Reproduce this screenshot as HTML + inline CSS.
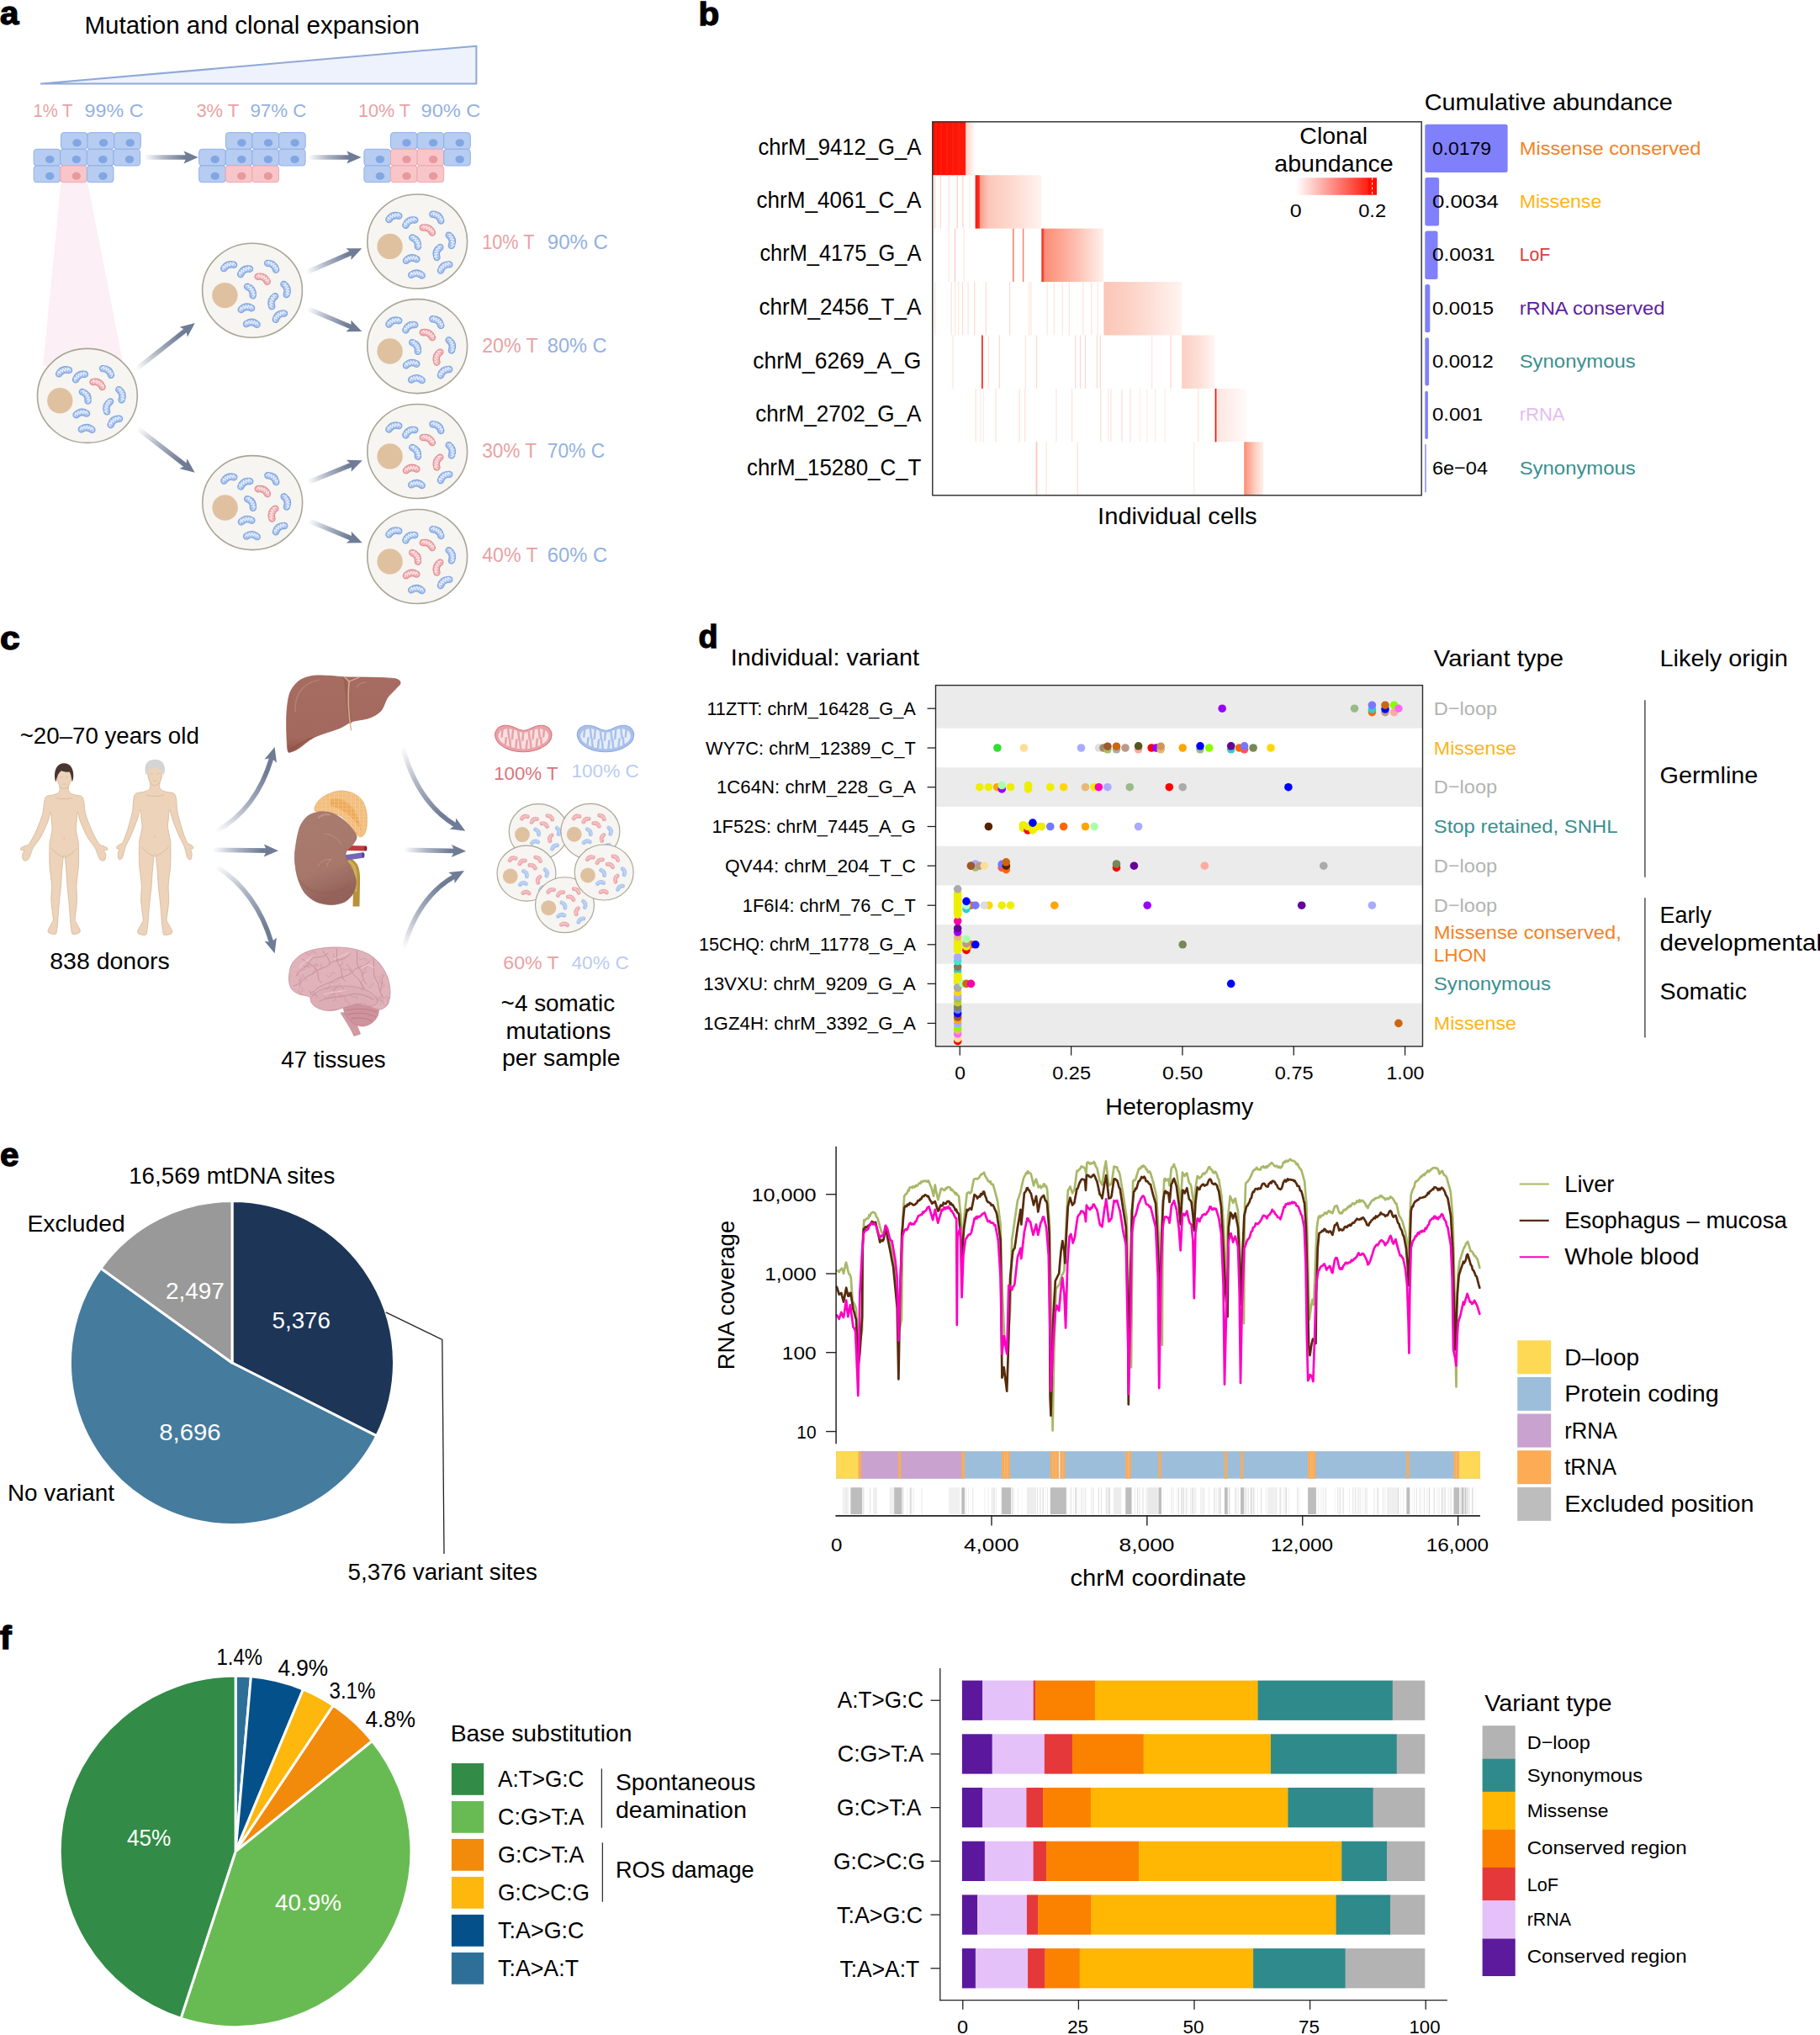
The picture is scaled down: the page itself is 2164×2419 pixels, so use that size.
<!DOCTYPE html>
<html><head><meta charset="utf-8"><title>Figure</title>
<style>html,body{margin:0;padding:0;background:#fff}svg{display:block}text{font-family:'Liberation Sans', sans-serif}</style>
</head><body>
<svg width="2164" height="2419" viewBox="0 0 2164 2419">
<defs>
<linearGradient id="ag1" gradientUnits="userSpaceOnUse" x1="171.5" y1="187.0" x2="235.7" y2="187.0"><stop offset="0" stop-color="#6f7c96" stop-opacity="0"/><stop offset="0.35" stop-color="#6f7c96" stop-opacity="0.55"/><stop offset="0.75" stop-color="#6f7c96" stop-opacity="1"/></linearGradient>
<linearGradient id="ag2" gradientUnits="userSpaceOnUse" x1="366.0" y1="187.0" x2="429.6" y2="187.0"><stop offset="0" stop-color="#6f7c96" stop-opacity="0"/><stop offset="0.35" stop-color="#6f7c96" stop-opacity="0.55"/><stop offset="0.75" stop-color="#6f7c96" stop-opacity="1"/></linearGradient>
<linearGradient id="ag3" gradientUnits="userSpaceOnUse" x1="161.6" y1="439.3" x2="231.8" y2="383.9"><stop offset="0" stop-color="#6f7c96" stop-opacity="0"/><stop offset="0.35" stop-color="#6f7c96" stop-opacity="0.55"/><stop offset="0.75" stop-color="#6f7c96" stop-opacity="1"/></linearGradient>
<linearGradient id="ag4" gradientUnits="userSpaceOnUse" x1="163.5" y1="509.0" x2="231.6" y2="561.8"><stop offset="0" stop-color="#6f7c96" stop-opacity="0"/><stop offset="0.35" stop-color="#6f7c96" stop-opacity="0.55"/><stop offset="0.75" stop-color="#6f7c96" stop-opacity="1"/></linearGradient>
<linearGradient id="ag5" gradientUnits="userSpaceOnUse" x1="364.3" y1="323.9" x2="430.3" y2="295.2"><stop offset="0" stop-color="#6f7c96" stop-opacity="0"/><stop offset="0.35" stop-color="#6f7c96" stop-opacity="0.55"/><stop offset="0.75" stop-color="#6f7c96" stop-opacity="1"/></linearGradient>
<linearGradient id="ag6" gradientUnits="userSpaceOnUse" x1="365.3" y1="366.7" x2="430.3" y2="394.1"><stop offset="0" stop-color="#6f7c96" stop-opacity="0"/><stop offset="0.35" stop-color="#6f7c96" stop-opacity="0.55"/><stop offset="0.75" stop-color="#6f7c96" stop-opacity="1"/></linearGradient>
<linearGradient id="ag7" gradientUnits="userSpaceOnUse" x1="365.7" y1="573.6" x2="430.8" y2="547.3"><stop offset="0" stop-color="#6f7c96" stop-opacity="0"/><stop offset="0.35" stop-color="#6f7c96" stop-opacity="0.55"/><stop offset="0.75" stop-color="#6f7c96" stop-opacity="1"/></linearGradient>
<linearGradient id="ag8" gradientUnits="userSpaceOnUse" x1="367.0" y1="618.9" x2="430.8" y2="645.3"><stop offset="0" stop-color="#6f7c96" stop-opacity="0"/><stop offset="0.35" stop-color="#6f7c96" stop-opacity="0.55"/><stop offset="0.75" stop-color="#6f7c96" stop-opacity="1"/></linearGradient>
<linearGradient id="hb0" x1="0" y1="0" x2="1" y2="0"><stop offset="0" stop-color="#ff0d00"/><stop offset="0.77" stop-color="#ff1a0c"/><stop offset="0.78" stop-color="#fdd3c8"/><stop offset="1" stop-color="#ffffff"/></linearGradient>
<linearGradient id="hb1" x1="0" y1="0" x2="1" y2="0"><stop offset="0" stop-color="#fb1a0e"/><stop offset="0.06" stop-color="#f93020"/><stop offset="0.075" stop-color="#fc9c88"/><stop offset="0.2" stop-color="#fdc7b9"/><stop offset="0.6" stop-color="#fedcd2"/><stop offset="1" stop-color="#fff3ef"/></linearGradient>
<linearGradient id="hb2" x1="0" y1="0" x2="1" y2="0"><stop offset="0" stop-color="#f3190c"/><stop offset="0.025" stop-color="#f64532"/><stop offset="0.05" stop-color="#fb8d77"/><stop offset="0.3" stop-color="#fca592"/><stop offset="0.6" stop-color="#fdc4b6"/><stop offset="1" stop-color="#fff1ed"/></linearGradient>
<linearGradient id="hb3" x1="0" y1="0" x2="1" y2="0"><stop offset="0" stop-color="#fcc5b7"/><stop offset="0.4" stop-color="#fdd5ca"/><stop offset="1" stop-color="#fff4f1"/></linearGradient>
<linearGradient id="hb4" x1="0" y1="0" x2="1" y2="0"><stop offset="0" stop-color="#fccfc3"/><stop offset="0.5" stop-color="#fddfd7"/><stop offset="1" stop-color="#fff5f2"/></linearGradient>
<linearGradient id="hb5" x1="0" y1="0" x2="1" y2="0"><stop offset="0" stop-color="#fee5df"/><stop offset="1" stop-color="#fffaf9"/></linearGradient>
<linearGradient id="hb6" x1="0" y1="0" x2="1" y2="0"><stop offset="0" stop-color="#fb8b70"/><stop offset="0.2" stop-color="#fca68f"/><stop offset="0.6" stop-color="#fdd2c6"/><stop offset="1" stop-color="#fff0eb"/></linearGradient>
<linearGradient id="hbl" x1="0" y1="0" x2="1" y2="0"><stop offset="0" stop-color="#ffffff"/><stop offset="0.9" stop-color="#ff1d0e"/><stop offset="0.9" stop-color="#ff0d00"/><stop offset="1" stop-color="#ff0d00"/></linearGradient>
<linearGradient id="ag9" gradientUnits="userSpaceOnUse" x1="256.5" y1="988.6" x2="326.6" y2="888.0"><stop offset="0" stop-color="#6f7c96" stop-opacity="0"/><stop offset="0.35" stop-color="#6f7c96" stop-opacity="0.55"/><stop offset="0.75" stop-color="#6f7c96" stop-opacity="1"/></linearGradient>
<linearGradient id="ag10" gradientUnits="userSpaceOnUse" x1="253.0" y1="1010.3" x2="331.0" y2="1011.2"><stop offset="0" stop-color="#6f7c96" stop-opacity="0"/><stop offset="0.35" stop-color="#6f7c96" stop-opacity="0.55"/><stop offset="0.75" stop-color="#6f7c96" stop-opacity="1"/></linearGradient>
<linearGradient id="ag11" gradientUnits="userSpaceOnUse" x1="256.5" y1="1029.3" x2="326.6" y2="1133.2"><stop offset="0" stop-color="#6f7c96" stop-opacity="0"/><stop offset="0.35" stop-color="#6f7c96" stop-opacity="0.55"/><stop offset="0.75" stop-color="#6f7c96" stop-opacity="1"/></linearGradient>
<linearGradient id="livg" x1="0" y1="0" x2="0" y2="1"><stop offset="0" stop-color="#a66c61"/><stop offset="0.8" stop-color="#a4695e"/><stop offset="1" stop-color="#915349"/></linearGradient>
<pattern id="adp" width="5" height="4.4" patternUnits="userSpaceOnUse"><circle cx="1.3" cy="1.2" r="1.5" fill="none" stroke="#f8d7ab" stroke-width="0.55"/><circle cx="3.8" cy="3.4" r="1.5" fill="none" stroke="#f8d7ab" stroke-width="0.55"/></pattern>
<linearGradient id="kidg" x1="0" y1="0" x2="0.25" y2="1"><stop offset="0" stop-color="#a97b6f"/><stop offset="0.7" stop-color="#a7776b"/><stop offset="1" stop-color="#94625a"/></linearGradient>
<clipPath id="brc"><path d="M343.5,1165.0C343.4,1160.8 344.1,1152.3 346.0,1148.0C347.9,1143.7 352.1,1138.8 356.0,1136.0C359.9,1133.2 366.1,1130.5 372.0,1129.0C377.9,1127.5 388.1,1126.2 395.0,1126.0C401.9,1125.8 411.6,1126.3 418.0,1127.5C424.4,1128.7 432.9,1131.2 438.0,1134.0C443.1,1136.8 448.6,1141.8 452.0,1146.0C455.4,1150.2 459.2,1156.9 461.0,1162.0C462.8,1167.1 464.0,1175.2 464.0,1180.0C464.0,1184.8 462.8,1191.0 461.0,1194.0C459.2,1197.0 455.1,1199.5 452.0,1200.0C448.9,1200.5 443.6,1198.0 440.0,1197.0C436.4,1196.0 432.2,1193.2 428.0,1193.0C423.8,1192.8 416.5,1194.8 412.0,1196.0C407.5,1197.2 402.2,1200.4 398.0,1201.0C393.8,1201.6 387.9,1201.2 384.0,1200.0C380.1,1198.8 374.4,1195.2 372.0,1193.0C369.6,1190.8 370.4,1186.7 368.0,1185.0C365.6,1183.3 359.1,1183.3 356.0,1182.0C352.9,1180.7 348.9,1178.5 347.0,1176.0C345.1,1173.5 343.6,1169.2 343.5,1165.0Z"/></clipPath>
<linearGradient id="ag12" gradientUnits="userSpaceOnUse" x1="478.5" y1="887.8" x2="553.3" y2="987.8"><stop offset="0" stop-color="#6f7c96" stop-opacity="0"/><stop offset="0.35" stop-color="#6f7c96" stop-opacity="0.55"/><stop offset="0.75" stop-color="#6f7c96" stop-opacity="1"/></linearGradient>
<linearGradient id="ag13" gradientUnits="userSpaceOnUse" x1="479.8" y1="1010.3" x2="554.2" y2="1011.7"><stop offset="0" stop-color="#6f7c96" stop-opacity="0"/><stop offset="0.35" stop-color="#6f7c96" stop-opacity="0.55"/><stop offset="0.75" stop-color="#6f7c96" stop-opacity="1"/></linearGradient>
<linearGradient id="ag14" gradientUnits="userSpaceOnUse" x1="479.8" y1="1127.5" x2="552.0" y2="1035.1"><stop offset="0" stop-color="#6f7c96" stop-opacity="0"/><stop offset="0.35" stop-color="#6f7c96" stop-opacity="0.55"/><stop offset="0.75" stop-color="#6f7c96" stop-opacity="1"/></linearGradient>
</defs>
<rect width="2164" height="2419" fill="#fff"/>
<text x="0.0" y="29.3" font-size="38.5" fill="#000" textLength="22.4" lengthAdjust="spacingAndGlyphs" font-weight="bold" stroke="#000" stroke-width="1.3">a</text>
<text x="100.5" y="40.2" font-size="29.0" fill="#000" textLength="398.5" lengthAdjust="spacingAndGlyphs">Mutation and clonal expansion</text>
<polygon points="48.8,99.6 566.4,54.7 566.4,99.6" fill="#edf2fc" stroke="#8fa8d8" stroke-width="2" stroke-linejoin="round"/>
<text x="39.6" y="138.5" font-size="22.8" fill="#e9a1a3" textLength="46.8" lengthAdjust="spacingAndGlyphs">1% T</text>
<text x="100.6" y="138.5" font-size="22.8" fill="#93b1e2" textLength="69.9" lengthAdjust="spacingAndGlyphs">99% C</text>
<text x="233.4" y="138.5" font-size="22.8" fill="#e9a1a3" textLength="50.8" lengthAdjust="spacingAndGlyphs">3% T</text>
<text x="297.4" y="138.5" font-size="22.8" fill="#93b1e2" textLength="66.9" lengthAdjust="spacingAndGlyphs">97% C</text>
<text x="426.0" y="138.5" font-size="22.8" fill="#e9a1a3" textLength="62.0" lengthAdjust="spacingAndGlyphs">10% T</text>
<text x="500.5" y="138.5" font-size="22.8" fill="#93b1e2" textLength="70.9" lengthAdjust="spacingAndGlyphs">90% C</text>
<polygon points="72.5,216 104,216 147,435 51,435" fill="#fdeff6"/>
<rect x="72.5" y="157.6" width="31.6" height="19.7" rx="3.5" fill="#b7ccf1" stroke="#8fb1ea" stroke-width="1"/>
<ellipse cx="91.5" cy="169.8" rx="5.2" ry="4.5" fill="#80a6e4"/>
<rect x="104.1" y="157.6" width="31.6" height="19.7" rx="3.5" fill="#b7ccf1" stroke="#8fb1ea" stroke-width="1"/>
<ellipse cx="123.1" cy="169.8" rx="5.2" ry="4.5" fill="#80a6e4"/>
<rect x="135.7" y="157.6" width="31.6" height="19.7" rx="3.5" fill="#b7ccf1" stroke="#8fb1ea" stroke-width="1"/>
<ellipse cx="154.7" cy="169.8" rx="5.2" ry="4.5" fill="#80a6e4"/>
<rect x="40.2" y="177.3" width="31.6" height="19.7" rx="3.5" fill="#b7ccf1" stroke="#8fb1ea" stroke-width="1"/>
<ellipse cx="59.2" cy="189.5" rx="5.2" ry="4.5" fill="#80a6e4"/>
<rect x="71.8" y="177.3" width="31.6" height="19.7" rx="3.5" fill="#b7ccf1" stroke="#8fb1ea" stroke-width="1"/>
<ellipse cx="90.8" cy="189.5" rx="5.2" ry="4.5" fill="#80a6e4"/>
<rect x="103.4" y="177.3" width="31.6" height="19.7" rx="3.5" fill="#b7ccf1" stroke="#8fb1ea" stroke-width="1"/>
<ellipse cx="122.4" cy="189.5" rx="5.2" ry="4.5" fill="#80a6e4"/>
<rect x="135.0" y="177.3" width="31.6" height="19.7" rx="3.5" fill="#b7ccf1" stroke="#8fb1ea" stroke-width="1"/>
<ellipse cx="154.0" cy="189.5" rx="5.2" ry="4.5" fill="#80a6e4"/>
<rect x="40.2" y="197.0" width="31.6" height="19.7" rx="3.5" fill="#b7ccf1" stroke="#8fb1ea" stroke-width="1"/>
<ellipse cx="59.2" cy="209.2" rx="5.2" ry="4.5" fill="#80a6e4"/>
<rect x="71.8" y="197.0" width="31.6" height="19.7" rx="3.5" fill="#f8c6c9" stroke="#efa9ae" stroke-width="1"/>
<ellipse cx="90.8" cy="209.2" rx="5.2" ry="4.5" fill="#e8989f"/>
<rect x="103.4" y="197.0" width="31.6" height="19.7" rx="3.5" fill="#b7ccf1" stroke="#8fb1ea" stroke-width="1"/>
<ellipse cx="122.4" cy="209.2" rx="5.2" ry="4.5" fill="#80a6e4"/>
<rect x="268.4" y="157.6" width="31.6" height="19.7" rx="3.5" fill="#b7ccf1" stroke="#8fb1ea" stroke-width="1"/>
<ellipse cx="287.4" cy="169.8" rx="5.2" ry="4.5" fill="#80a6e4"/>
<rect x="300.0" y="157.6" width="31.6" height="19.7" rx="3.5" fill="#b7ccf1" stroke="#8fb1ea" stroke-width="1"/>
<ellipse cx="319.0" cy="169.8" rx="5.2" ry="4.5" fill="#80a6e4"/>
<rect x="331.6" y="157.6" width="31.6" height="19.7" rx="3.5" fill="#b7ccf1" stroke="#8fb1ea" stroke-width="1"/>
<ellipse cx="350.6" cy="169.8" rx="5.2" ry="4.5" fill="#80a6e4"/>
<rect x="236.7" y="177.3" width="31.6" height="19.7" rx="3.5" fill="#b7ccf1" stroke="#8fb1ea" stroke-width="1"/>
<ellipse cx="255.7" cy="189.5" rx="5.2" ry="4.5" fill="#80a6e4"/>
<rect x="268.3" y="177.3" width="31.6" height="19.7" rx="3.5" fill="#b7ccf1" stroke="#8fb1ea" stroke-width="1"/>
<ellipse cx="287.3" cy="189.5" rx="5.2" ry="4.5" fill="#80a6e4"/>
<rect x="299.9" y="177.3" width="31.6" height="19.7" rx="3.5" fill="#b7ccf1" stroke="#8fb1ea" stroke-width="1"/>
<ellipse cx="318.9" cy="189.5" rx="5.2" ry="4.5" fill="#80a6e4"/>
<rect x="331.5" y="177.3" width="31.6" height="19.7" rx="3.5" fill="#b7ccf1" stroke="#8fb1ea" stroke-width="1"/>
<ellipse cx="350.5" cy="189.5" rx="5.2" ry="4.5" fill="#80a6e4"/>
<rect x="236.7" y="197.0" width="31.6" height="19.7" rx="3.5" fill="#b7ccf1" stroke="#8fb1ea" stroke-width="1"/>
<ellipse cx="255.7" cy="209.2" rx="5.2" ry="4.5" fill="#80a6e4"/>
<rect x="268.3" y="197.0" width="31.6" height="19.7" rx="3.5" fill="#f8c6c9" stroke="#efa9ae" stroke-width="1"/>
<ellipse cx="287.3" cy="209.2" rx="5.2" ry="4.5" fill="#e8989f"/>
<rect x="299.9" y="197.0" width="31.6" height="19.7" rx="3.5" fill="#f8c6c9" stroke="#efa9ae" stroke-width="1"/>
<ellipse cx="318.9" cy="209.2" rx="5.2" ry="4.5" fill="#e8989f"/>
<rect x="464.5" y="157.6" width="31.6" height="19.7" rx="3.5" fill="#b7ccf1" stroke="#8fb1ea" stroke-width="1"/>
<ellipse cx="483.5" cy="169.8" rx="5.2" ry="4.5" fill="#80a6e4"/>
<rect x="496.1" y="157.6" width="31.6" height="19.7" rx="3.5" fill="#b7ccf1" stroke="#8fb1ea" stroke-width="1"/>
<ellipse cx="515.1" cy="169.8" rx="5.2" ry="4.5" fill="#80a6e4"/>
<rect x="527.7" y="157.6" width="31.6" height="19.7" rx="3.5" fill="#b7ccf1" stroke="#8fb1ea" stroke-width="1"/>
<ellipse cx="546.7" cy="169.8" rx="5.2" ry="4.5" fill="#80a6e4"/>
<rect x="432.9" y="177.3" width="31.6" height="19.7" rx="3.5" fill="#b7ccf1" stroke="#8fb1ea" stroke-width="1"/>
<ellipse cx="451.9" cy="189.5" rx="5.2" ry="4.5" fill="#80a6e4"/>
<rect x="464.5" y="177.3" width="31.6" height="19.7" rx="3.5" fill="#f8c6c9" stroke="#efa9ae" stroke-width="1"/>
<ellipse cx="483.5" cy="189.5" rx="5.2" ry="4.5" fill="#e8989f"/>
<rect x="496.1" y="177.3" width="31.6" height="19.7" rx="3.5" fill="#f8c6c9" stroke="#efa9ae" stroke-width="1"/>
<ellipse cx="515.1" cy="189.5" rx="5.2" ry="4.5" fill="#e8989f"/>
<rect x="527.7" y="177.3" width="31.6" height="19.7" rx="3.5" fill="#b7ccf1" stroke="#8fb1ea" stroke-width="1"/>
<ellipse cx="546.7" cy="189.5" rx="5.2" ry="4.5" fill="#80a6e4"/>
<rect x="432.9" y="197.0" width="31.6" height="19.7" rx="3.5" fill="#b7ccf1" stroke="#8fb1ea" stroke-width="1"/>
<ellipse cx="451.9" cy="209.2" rx="5.2" ry="4.5" fill="#80a6e4"/>
<rect x="464.5" y="197.0" width="31.6" height="19.7" rx="3.5" fill="#f8c6c9" stroke="#efa9ae" stroke-width="1"/>
<ellipse cx="483.5" cy="209.2" rx="5.2" ry="4.5" fill="#e8989f"/>
<rect x="496.1" y="197.0" width="31.6" height="19.7" rx="3.5" fill="#f8c6c9" stroke="#efa9ae" stroke-width="1"/>
<ellipse cx="515.1" cy="209.2" rx="5.2" ry="4.5" fill="#e8989f"/>
<polygon points="171.5,184.2 222.7,184.2 222.7,189.8 171.5,189.8" fill="url(#ag1)"/>
<polygon points="235.7,187.0 218.4,194.5 222.0,187.0 218.4,179.5" fill="#6f7c96"/>
<polygon points="366.0,184.2 416.6,184.2 416.6,189.8 366.0,189.8" fill="url(#ag2)"/>
<polygon points="429.6,187.0 412.3,194.5 415.9,187.0 412.3,179.5" fill="#6f7c96"/>
<g transform="translate(103.9,470.4) scale(1.000)">
<ellipse cx="0" cy="0" rx="59.4" ry="56" fill="#f6f5f1" stroke="#a9a596" stroke-width="1.60"/>
<circle cx="-32.6" cy="5.9" r="15.2" fill="#dfc1a0"/>
<g transform="translate(-28.4,-29.7) rotate(-20)"><path d="M-6.3,1.6 Q0,-3.4 6.3,1.6" fill="none" stroke="#7fa4de" stroke-width="8.4" stroke-linecap="round"/><path d="M-6.3,1.6 Q0,-3.4 6.3,1.6" fill="none" stroke="#a6c0ee" stroke-width="6.2" stroke-linecap="round"/><path d="M-8.0,3.1 L-6.4,-1.5 L-4.8,1.7 L-3.2,-2.5 L-1.6,1.0 L0.0,-2.9 L1.6,1.0 L3.2,-2.5 L4.8,1.7 L6.4,-1.5 L8.0,3.1" fill="none" stroke="#e9f0fc" stroke-width="1.1" stroke-linejoin="round"/></g>
<g transform="translate(-9.2,-23.7) rotate(-30)"><path d="M-6.3,1.6 Q0,-3.4 6.3,1.6" fill="none" stroke="#7fa4de" stroke-width="8.4" stroke-linecap="round"/><path d="M-6.3,1.6 Q0,-3.4 6.3,1.6" fill="none" stroke="#a6c0ee" stroke-width="6.2" stroke-linecap="round"/><path d="M-8.0,3.1 L-6.4,-1.5 L-4.8,1.7 L-3.2,-2.5 L-1.6,1.0 L0.0,-2.9 L1.6,1.0 L3.2,-2.5 L4.8,1.7 L6.4,-1.5 L8.0,3.1" fill="none" stroke="#e9f0fc" stroke-width="1.1" stroke-linejoin="round"/></g>
<g transform="translate(24.1,-29.7) rotate(38)"><path d="M-6.3,1.6 Q0,-3.4 6.3,1.6" fill="none" stroke="#7fa4de" stroke-width="8.4" stroke-linecap="round"/><path d="M-6.3,1.6 Q0,-3.4 6.3,1.6" fill="none" stroke="#a6c0ee" stroke-width="6.2" stroke-linecap="round"/><path d="M-8.0,3.1 L-6.4,-1.5 L-4.8,1.7 L-3.2,-2.5 L-1.6,1.0 L0.0,-2.9 L1.6,1.0 L3.2,-2.5 L4.8,1.7 L6.4,-1.5 L8.0,3.1" fill="none" stroke="#e9f0fc" stroke-width="1.1" stroke-linejoin="round"/></g>
<g transform="translate(12.9,-14.8) rotate(28)"><path d="M-6.3,1.6 Q0,-3.4 6.3,1.6" fill="none" stroke="#e18f95" stroke-width="8.4" stroke-linecap="round"/><path d="M-6.3,1.6 Q0,-3.4 6.3,1.6" fill="none" stroke="#eeaeb2" stroke-width="6.2" stroke-linecap="round"/><path d="M-8.0,3.1 L-6.4,-1.5 L-4.8,1.7 L-3.2,-2.5 L-1.6,1.0 L0.0,-2.9 L1.6,1.0 L3.2,-2.5 L4.8,1.7 L6.4,-1.5 L8.0,3.1" fill="none" stroke="#fce6e7" stroke-width="1.1" stroke-linejoin="round"/></g>
<g transform="translate(-1.3,0) rotate(58)"><path d="M-6.3,1.6 Q0,-3.4 6.3,1.6" fill="none" stroke="#7fa4de" stroke-width="8.4" stroke-linecap="round"/><path d="M-6.3,1.6 Q0,-3.4 6.3,1.6" fill="none" stroke="#a6c0ee" stroke-width="6.2" stroke-linecap="round"/><path d="M-8.0,3.1 L-6.4,-1.5 L-4.8,1.7 L-3.2,-2.5 L-1.6,1.0 L0.0,-2.9 L1.6,1.0 L3.2,-2.5 L4.8,1.7 L6.4,-1.5 L8.0,3.1" fill="none" stroke="#e9f0fc" stroke-width="1.1" stroke-linejoin="round"/></g>
<g transform="translate(40.6,-1.6) rotate(75)"><path d="M-6.3,1.6 Q0,-3.4 6.3,1.6" fill="none" stroke="#7fa4de" stroke-width="8.4" stroke-linecap="round"/><path d="M-6.3,1.6 Q0,-3.4 6.3,1.6" fill="none" stroke="#a6c0ee" stroke-width="6.2" stroke-linecap="round"/><path d="M-8.0,3.1 L-6.4,-1.5 L-4.8,1.7 L-3.2,-2.5 L-1.6,1.0 L0.0,-2.9 L1.6,1.0 L3.2,-2.5 L4.8,1.7 L6.4,-1.5 L8.0,3.1" fill="none" stroke="#e9f0fc" stroke-width="1.1" stroke-linejoin="round"/></g>
<g transform="translate(23.7,12.5) rotate(-72)"><path d="M-6.3,1.6 Q0,-3.4 6.3,1.6" fill="none" stroke="#7fa4de" stroke-width="8.4" stroke-linecap="round"/><path d="M-6.3,1.6 Q0,-3.4 6.3,1.6" fill="none" stroke="#a6c0ee" stroke-width="6.2" stroke-linecap="round"/><path d="M-8.0,3.1 L-6.4,-1.5 L-4.8,1.7 L-3.2,-2.5 L-1.6,1.0 L0.0,-2.9 L1.6,1.0 L3.2,-2.5 L4.8,1.7 L6.4,-1.5 L8.0,3.1" fill="none" stroke="#e9f0fc" stroke-width="1.1" stroke-linejoin="round"/></g>
<g transform="translate(-7.3,20.4) rotate(-8)"><path d="M-6.3,1.6 Q0,-3.4 6.3,1.6" fill="none" stroke="#7fa4de" stroke-width="8.4" stroke-linecap="round"/><path d="M-6.3,1.6 Q0,-3.4 6.3,1.6" fill="none" stroke="#a6c0ee" stroke-width="6.2" stroke-linecap="round"/><path d="M-8.0,3.1 L-6.4,-1.5 L-4.8,1.7 L-3.2,-2.5 L-1.6,1.0 L0.0,-2.9 L1.6,1.0 L3.2,-2.5 L4.8,1.7 L6.4,-1.5 L8.0,3.1" fill="none" stroke="#e9f0fc" stroke-width="1.1" stroke-linejoin="round"/></g>
<g transform="translate(32,29.7) rotate(-35)"><path d="M-6.3,1.6 Q0,-3.4 6.3,1.6" fill="none" stroke="#7fa4de" stroke-width="8.4" stroke-linecap="round"/><path d="M-6.3,1.6 Q0,-3.4 6.3,1.6" fill="none" stroke="#a6c0ee" stroke-width="6.2" stroke-linecap="round"/><path d="M-8.0,3.1 L-6.4,-1.5 L-4.8,1.7 L-3.2,-2.5 L-1.6,1.0 L0.0,-2.9 L1.6,1.0 L3.2,-2.5 L4.8,1.7 L6.4,-1.5 L8.0,3.1" fill="none" stroke="#e9f0fc" stroke-width="1.1" stroke-linejoin="round"/></g>
<g transform="translate(-0.7,38.6) rotate(3)"><path d="M-6.3,1.6 Q0,-3.4 6.3,1.6" fill="none" stroke="#7fa4de" stroke-width="8.4" stroke-linecap="round"/><path d="M-6.3,1.6 Q0,-3.4 6.3,1.6" fill="none" stroke="#a6c0ee" stroke-width="6.2" stroke-linecap="round"/><path d="M-8.0,3.1 L-6.4,-1.5 L-4.8,1.7 L-3.2,-2.5 L-1.6,1.0 L0.0,-2.9 L1.6,1.0 L3.2,-2.5 L4.8,1.7 L6.4,-1.5 L8.0,3.1" fill="none" stroke="#e9f0fc" stroke-width="1.1" stroke-linejoin="round"/></g>
</g>
<g transform="translate(300.0,345.2) scale(1.000)">
<ellipse cx="0" cy="0" rx="59.4" ry="56" fill="#f6f5f1" stroke="#a9a596" stroke-width="1.60"/>
<circle cx="-32.6" cy="5.9" r="15.2" fill="#dfc1a0"/>
<g transform="translate(-28.4,-29.7) rotate(-20)"><path d="M-6.3,1.6 Q0,-3.4 6.3,1.6" fill="none" stroke="#7fa4de" stroke-width="8.4" stroke-linecap="round"/><path d="M-6.3,1.6 Q0,-3.4 6.3,1.6" fill="none" stroke="#a6c0ee" stroke-width="6.2" stroke-linecap="round"/><path d="M-8.0,3.1 L-6.4,-1.5 L-4.8,1.7 L-3.2,-2.5 L-1.6,1.0 L0.0,-2.9 L1.6,1.0 L3.2,-2.5 L4.8,1.7 L6.4,-1.5 L8.0,3.1" fill="none" stroke="#e9f0fc" stroke-width="1.1" stroke-linejoin="round"/></g>
<g transform="translate(-9.2,-23.7) rotate(-30)"><path d="M-6.3,1.6 Q0,-3.4 6.3,1.6" fill="none" stroke="#7fa4de" stroke-width="8.4" stroke-linecap="round"/><path d="M-6.3,1.6 Q0,-3.4 6.3,1.6" fill="none" stroke="#a6c0ee" stroke-width="6.2" stroke-linecap="round"/><path d="M-8.0,3.1 L-6.4,-1.5 L-4.8,1.7 L-3.2,-2.5 L-1.6,1.0 L0.0,-2.9 L1.6,1.0 L3.2,-2.5 L4.8,1.7 L6.4,-1.5 L8.0,3.1" fill="none" stroke="#e9f0fc" stroke-width="1.1" stroke-linejoin="round"/></g>
<g transform="translate(24.1,-29.7) rotate(38)"><path d="M-6.3,1.6 Q0,-3.4 6.3,1.6" fill="none" stroke="#7fa4de" stroke-width="8.4" stroke-linecap="round"/><path d="M-6.3,1.6 Q0,-3.4 6.3,1.6" fill="none" stroke="#a6c0ee" stroke-width="6.2" stroke-linecap="round"/><path d="M-8.0,3.1 L-6.4,-1.5 L-4.8,1.7 L-3.2,-2.5 L-1.6,1.0 L0.0,-2.9 L1.6,1.0 L3.2,-2.5 L4.8,1.7 L6.4,-1.5 L8.0,3.1" fill="none" stroke="#e9f0fc" stroke-width="1.1" stroke-linejoin="round"/></g>
<g transform="translate(12.9,-14.8) rotate(28)"><path d="M-6.3,1.6 Q0,-3.4 6.3,1.6" fill="none" stroke="#e18f95" stroke-width="8.4" stroke-linecap="round"/><path d="M-6.3,1.6 Q0,-3.4 6.3,1.6" fill="none" stroke="#eeaeb2" stroke-width="6.2" stroke-linecap="round"/><path d="M-8.0,3.1 L-6.4,-1.5 L-4.8,1.7 L-3.2,-2.5 L-1.6,1.0 L0.0,-2.9 L1.6,1.0 L3.2,-2.5 L4.8,1.7 L6.4,-1.5 L8.0,3.1" fill="none" stroke="#fce6e7" stroke-width="1.1" stroke-linejoin="round"/></g>
<g transform="translate(-1.3,0) rotate(58)"><path d="M-6.3,1.6 Q0,-3.4 6.3,1.6" fill="none" stroke="#7fa4de" stroke-width="8.4" stroke-linecap="round"/><path d="M-6.3,1.6 Q0,-3.4 6.3,1.6" fill="none" stroke="#a6c0ee" stroke-width="6.2" stroke-linecap="round"/><path d="M-8.0,3.1 L-6.4,-1.5 L-4.8,1.7 L-3.2,-2.5 L-1.6,1.0 L0.0,-2.9 L1.6,1.0 L3.2,-2.5 L4.8,1.7 L6.4,-1.5 L8.0,3.1" fill="none" stroke="#e9f0fc" stroke-width="1.1" stroke-linejoin="round"/></g>
<g transform="translate(40.6,-1.6) rotate(75)"><path d="M-6.3,1.6 Q0,-3.4 6.3,1.6" fill="none" stroke="#7fa4de" stroke-width="8.4" stroke-linecap="round"/><path d="M-6.3,1.6 Q0,-3.4 6.3,1.6" fill="none" stroke="#a6c0ee" stroke-width="6.2" stroke-linecap="round"/><path d="M-8.0,3.1 L-6.4,-1.5 L-4.8,1.7 L-3.2,-2.5 L-1.6,1.0 L0.0,-2.9 L1.6,1.0 L3.2,-2.5 L4.8,1.7 L6.4,-1.5 L8.0,3.1" fill="none" stroke="#e9f0fc" stroke-width="1.1" stroke-linejoin="round"/></g>
<g transform="translate(23.7,12.5) rotate(-72)"><path d="M-6.3,1.6 Q0,-3.4 6.3,1.6" fill="none" stroke="#7fa4de" stroke-width="8.4" stroke-linecap="round"/><path d="M-6.3,1.6 Q0,-3.4 6.3,1.6" fill="none" stroke="#a6c0ee" stroke-width="6.2" stroke-linecap="round"/><path d="M-8.0,3.1 L-6.4,-1.5 L-4.8,1.7 L-3.2,-2.5 L-1.6,1.0 L0.0,-2.9 L1.6,1.0 L3.2,-2.5 L4.8,1.7 L6.4,-1.5 L8.0,3.1" fill="none" stroke="#e9f0fc" stroke-width="1.1" stroke-linejoin="round"/></g>
<g transform="translate(-7.3,20.4) rotate(-8)"><path d="M-6.3,1.6 Q0,-3.4 6.3,1.6" fill="none" stroke="#7fa4de" stroke-width="8.4" stroke-linecap="round"/><path d="M-6.3,1.6 Q0,-3.4 6.3,1.6" fill="none" stroke="#a6c0ee" stroke-width="6.2" stroke-linecap="round"/><path d="M-8.0,3.1 L-6.4,-1.5 L-4.8,1.7 L-3.2,-2.5 L-1.6,1.0 L0.0,-2.9 L1.6,1.0 L3.2,-2.5 L4.8,1.7 L6.4,-1.5 L8.0,3.1" fill="none" stroke="#e9f0fc" stroke-width="1.1" stroke-linejoin="round"/></g>
<g transform="translate(32,29.7) rotate(-35)"><path d="M-6.3,1.6 Q0,-3.4 6.3,1.6" fill="none" stroke="#7fa4de" stroke-width="8.4" stroke-linecap="round"/><path d="M-6.3,1.6 Q0,-3.4 6.3,1.6" fill="none" stroke="#a6c0ee" stroke-width="6.2" stroke-linecap="round"/><path d="M-8.0,3.1 L-6.4,-1.5 L-4.8,1.7 L-3.2,-2.5 L-1.6,1.0 L0.0,-2.9 L1.6,1.0 L3.2,-2.5 L4.8,1.7 L6.4,-1.5 L8.0,3.1" fill="none" stroke="#e9f0fc" stroke-width="1.1" stroke-linejoin="round"/></g>
<g transform="translate(-0.7,38.6) rotate(3)"><path d="M-6.3,1.6 Q0,-3.4 6.3,1.6" fill="none" stroke="#7fa4de" stroke-width="8.4" stroke-linecap="round"/><path d="M-6.3,1.6 Q0,-3.4 6.3,1.6" fill="none" stroke="#a6c0ee" stroke-width="6.2" stroke-linecap="round"/><path d="M-8.0,3.1 L-6.4,-1.5 L-4.8,1.7 L-3.2,-2.5 L-1.6,1.0 L0.0,-2.9 L1.6,1.0 L3.2,-2.5 L4.8,1.7 L6.4,-1.5 L8.0,3.1" fill="none" stroke="#e9f0fc" stroke-width="1.1" stroke-linejoin="round"/></g>
</g>
<g transform="translate(300.2,597.6) scale(1.000)">
<ellipse cx="0" cy="0" rx="59.4" ry="56" fill="#f6f5f1" stroke="#a9a596" stroke-width="1.60"/>
<circle cx="-32.6" cy="5.9" r="15.2" fill="#dfc1a0"/>
<g transform="translate(-28.4,-29.7) rotate(-20)"><path d="M-6.3,1.6 Q0,-3.4 6.3,1.6" fill="none" stroke="#7fa4de" stroke-width="8.4" stroke-linecap="round"/><path d="M-6.3,1.6 Q0,-3.4 6.3,1.6" fill="none" stroke="#a6c0ee" stroke-width="6.2" stroke-linecap="round"/><path d="M-8.0,3.1 L-6.4,-1.5 L-4.8,1.7 L-3.2,-2.5 L-1.6,1.0 L0.0,-2.9 L1.6,1.0 L3.2,-2.5 L4.8,1.7 L6.4,-1.5 L8.0,3.1" fill="none" stroke="#e9f0fc" stroke-width="1.1" stroke-linejoin="round"/></g>
<g transform="translate(-9.2,-23.7) rotate(-30)"><path d="M-6.3,1.6 Q0,-3.4 6.3,1.6" fill="none" stroke="#7fa4de" stroke-width="8.4" stroke-linecap="round"/><path d="M-6.3,1.6 Q0,-3.4 6.3,1.6" fill="none" stroke="#a6c0ee" stroke-width="6.2" stroke-linecap="round"/><path d="M-8.0,3.1 L-6.4,-1.5 L-4.8,1.7 L-3.2,-2.5 L-1.6,1.0 L0.0,-2.9 L1.6,1.0 L3.2,-2.5 L4.8,1.7 L6.4,-1.5 L8.0,3.1" fill="none" stroke="#e9f0fc" stroke-width="1.1" stroke-linejoin="round"/></g>
<g transform="translate(24.1,-29.7) rotate(38)"><path d="M-6.3,1.6 Q0,-3.4 6.3,1.6" fill="none" stroke="#7fa4de" stroke-width="8.4" stroke-linecap="round"/><path d="M-6.3,1.6 Q0,-3.4 6.3,1.6" fill="none" stroke="#a6c0ee" stroke-width="6.2" stroke-linecap="round"/><path d="M-8.0,3.1 L-6.4,-1.5 L-4.8,1.7 L-3.2,-2.5 L-1.6,1.0 L0.0,-2.9 L1.6,1.0 L3.2,-2.5 L4.8,1.7 L6.4,-1.5 L8.0,3.1" fill="none" stroke="#e9f0fc" stroke-width="1.1" stroke-linejoin="round"/></g>
<g transform="translate(12.9,-14.8) rotate(28)"><path d="M-6.3,1.6 Q0,-3.4 6.3,1.6" fill="none" stroke="#e18f95" stroke-width="8.4" stroke-linecap="round"/><path d="M-6.3,1.6 Q0,-3.4 6.3,1.6" fill="none" stroke="#eeaeb2" stroke-width="6.2" stroke-linecap="round"/><path d="M-8.0,3.1 L-6.4,-1.5 L-4.8,1.7 L-3.2,-2.5 L-1.6,1.0 L0.0,-2.9 L1.6,1.0 L3.2,-2.5 L4.8,1.7 L6.4,-1.5 L8.0,3.1" fill="none" stroke="#fce6e7" stroke-width="1.1" stroke-linejoin="round"/></g>
<g transform="translate(-1.3,0) rotate(58)"><path d="M-6.3,1.6 Q0,-3.4 6.3,1.6" fill="none" stroke="#7fa4de" stroke-width="8.4" stroke-linecap="round"/><path d="M-6.3,1.6 Q0,-3.4 6.3,1.6" fill="none" stroke="#a6c0ee" stroke-width="6.2" stroke-linecap="round"/><path d="M-8.0,3.1 L-6.4,-1.5 L-4.8,1.7 L-3.2,-2.5 L-1.6,1.0 L0.0,-2.9 L1.6,1.0 L3.2,-2.5 L4.8,1.7 L6.4,-1.5 L8.0,3.1" fill="none" stroke="#e9f0fc" stroke-width="1.1" stroke-linejoin="round"/></g>
<g transform="translate(40.6,-1.6) rotate(75)"><path d="M-6.3,1.6 Q0,-3.4 6.3,1.6" fill="none" stroke="#7fa4de" stroke-width="8.4" stroke-linecap="round"/><path d="M-6.3,1.6 Q0,-3.4 6.3,1.6" fill="none" stroke="#a6c0ee" stroke-width="6.2" stroke-linecap="round"/><path d="M-8.0,3.1 L-6.4,-1.5 L-4.8,1.7 L-3.2,-2.5 L-1.6,1.0 L0.0,-2.9 L1.6,1.0 L3.2,-2.5 L4.8,1.7 L6.4,-1.5 L8.0,3.1" fill="none" stroke="#e9f0fc" stroke-width="1.1" stroke-linejoin="round"/></g>
<g transform="translate(23.7,12.5) rotate(-72)"><path d="M-6.3,1.6 Q0,-3.4 6.3,1.6" fill="none" stroke="#e18f95" stroke-width="8.4" stroke-linecap="round"/><path d="M-6.3,1.6 Q0,-3.4 6.3,1.6" fill="none" stroke="#eeaeb2" stroke-width="6.2" stroke-linecap="round"/><path d="M-8.0,3.1 L-6.4,-1.5 L-4.8,1.7 L-3.2,-2.5 L-1.6,1.0 L0.0,-2.9 L1.6,1.0 L3.2,-2.5 L4.8,1.7 L6.4,-1.5 L8.0,3.1" fill="none" stroke="#fce6e7" stroke-width="1.1" stroke-linejoin="round"/></g>
<g transform="translate(-7.3,20.4) rotate(-8)"><path d="M-6.3,1.6 Q0,-3.4 6.3,1.6" fill="none" stroke="#7fa4de" stroke-width="8.4" stroke-linecap="round"/><path d="M-6.3,1.6 Q0,-3.4 6.3,1.6" fill="none" stroke="#a6c0ee" stroke-width="6.2" stroke-linecap="round"/><path d="M-8.0,3.1 L-6.4,-1.5 L-4.8,1.7 L-3.2,-2.5 L-1.6,1.0 L0.0,-2.9 L1.6,1.0 L3.2,-2.5 L4.8,1.7 L6.4,-1.5 L8.0,3.1" fill="none" stroke="#e9f0fc" stroke-width="1.1" stroke-linejoin="round"/></g>
<g transform="translate(32,29.7) rotate(-35)"><path d="M-6.3,1.6 Q0,-3.4 6.3,1.6" fill="none" stroke="#7fa4de" stroke-width="8.4" stroke-linecap="round"/><path d="M-6.3,1.6 Q0,-3.4 6.3,1.6" fill="none" stroke="#a6c0ee" stroke-width="6.2" stroke-linecap="round"/><path d="M-8.0,3.1 L-6.4,-1.5 L-4.8,1.7 L-3.2,-2.5 L-1.6,1.0 L0.0,-2.9 L1.6,1.0 L3.2,-2.5 L4.8,1.7 L6.4,-1.5 L8.0,3.1" fill="none" stroke="#e9f0fc" stroke-width="1.1" stroke-linejoin="round"/></g>
<g transform="translate(-0.7,38.6) rotate(3)"><path d="M-6.3,1.6 Q0,-3.4 6.3,1.6" fill="none" stroke="#7fa4de" stroke-width="8.4" stroke-linecap="round"/><path d="M-6.3,1.6 Q0,-3.4 6.3,1.6" fill="none" stroke="#a6c0ee" stroke-width="6.2" stroke-linecap="round"/><path d="M-8.0,3.1 L-6.4,-1.5 L-4.8,1.7 L-3.2,-2.5 L-1.6,1.0 L0.0,-2.9 L1.6,1.0 L3.2,-2.5 L4.8,1.7 L6.4,-1.5 L8.0,3.1" fill="none" stroke="#e9f0fc" stroke-width="1.1" stroke-linejoin="round"/></g>
</g>
<g transform="translate(496.2,287.0) scale(1.000)">
<ellipse cx="0" cy="0" rx="59.4" ry="56" fill="#f6f5f1" stroke="#a9a596" stroke-width="1.60"/>
<circle cx="-32.6" cy="5.9" r="15.2" fill="#dfc1a0"/>
<g transform="translate(-28.4,-29.7) rotate(-20)"><path d="M-6.3,1.6 Q0,-3.4 6.3,1.6" fill="none" stroke="#7fa4de" stroke-width="8.4" stroke-linecap="round"/><path d="M-6.3,1.6 Q0,-3.4 6.3,1.6" fill="none" stroke="#a6c0ee" stroke-width="6.2" stroke-linecap="round"/><path d="M-8.0,3.1 L-6.4,-1.5 L-4.8,1.7 L-3.2,-2.5 L-1.6,1.0 L0.0,-2.9 L1.6,1.0 L3.2,-2.5 L4.8,1.7 L6.4,-1.5 L8.0,3.1" fill="none" stroke="#e9f0fc" stroke-width="1.1" stroke-linejoin="round"/></g>
<g transform="translate(-9.2,-23.7) rotate(-30)"><path d="M-6.3,1.6 Q0,-3.4 6.3,1.6" fill="none" stroke="#7fa4de" stroke-width="8.4" stroke-linecap="round"/><path d="M-6.3,1.6 Q0,-3.4 6.3,1.6" fill="none" stroke="#a6c0ee" stroke-width="6.2" stroke-linecap="round"/><path d="M-8.0,3.1 L-6.4,-1.5 L-4.8,1.7 L-3.2,-2.5 L-1.6,1.0 L0.0,-2.9 L1.6,1.0 L3.2,-2.5 L4.8,1.7 L6.4,-1.5 L8.0,3.1" fill="none" stroke="#e9f0fc" stroke-width="1.1" stroke-linejoin="round"/></g>
<g transform="translate(24.1,-29.7) rotate(38)"><path d="M-6.3,1.6 Q0,-3.4 6.3,1.6" fill="none" stroke="#7fa4de" stroke-width="8.4" stroke-linecap="round"/><path d="M-6.3,1.6 Q0,-3.4 6.3,1.6" fill="none" stroke="#a6c0ee" stroke-width="6.2" stroke-linecap="round"/><path d="M-8.0,3.1 L-6.4,-1.5 L-4.8,1.7 L-3.2,-2.5 L-1.6,1.0 L0.0,-2.9 L1.6,1.0 L3.2,-2.5 L4.8,1.7 L6.4,-1.5 L8.0,3.1" fill="none" stroke="#e9f0fc" stroke-width="1.1" stroke-linejoin="round"/></g>
<g transform="translate(12.9,-14.8) rotate(28)"><path d="M-6.3,1.6 Q0,-3.4 6.3,1.6" fill="none" stroke="#e18f95" stroke-width="8.4" stroke-linecap="round"/><path d="M-6.3,1.6 Q0,-3.4 6.3,1.6" fill="none" stroke="#eeaeb2" stroke-width="6.2" stroke-linecap="round"/><path d="M-8.0,3.1 L-6.4,-1.5 L-4.8,1.7 L-3.2,-2.5 L-1.6,1.0 L0.0,-2.9 L1.6,1.0 L3.2,-2.5 L4.8,1.7 L6.4,-1.5 L8.0,3.1" fill="none" stroke="#fce6e7" stroke-width="1.1" stroke-linejoin="round"/></g>
<g transform="translate(-1.3,0) rotate(58)"><path d="M-6.3,1.6 Q0,-3.4 6.3,1.6" fill="none" stroke="#7fa4de" stroke-width="8.4" stroke-linecap="round"/><path d="M-6.3,1.6 Q0,-3.4 6.3,1.6" fill="none" stroke="#a6c0ee" stroke-width="6.2" stroke-linecap="round"/><path d="M-8.0,3.1 L-6.4,-1.5 L-4.8,1.7 L-3.2,-2.5 L-1.6,1.0 L0.0,-2.9 L1.6,1.0 L3.2,-2.5 L4.8,1.7 L6.4,-1.5 L8.0,3.1" fill="none" stroke="#e9f0fc" stroke-width="1.1" stroke-linejoin="round"/></g>
<g transform="translate(40.6,-1.6) rotate(75)"><path d="M-6.3,1.6 Q0,-3.4 6.3,1.6" fill="none" stroke="#7fa4de" stroke-width="8.4" stroke-linecap="round"/><path d="M-6.3,1.6 Q0,-3.4 6.3,1.6" fill="none" stroke="#a6c0ee" stroke-width="6.2" stroke-linecap="round"/><path d="M-8.0,3.1 L-6.4,-1.5 L-4.8,1.7 L-3.2,-2.5 L-1.6,1.0 L0.0,-2.9 L1.6,1.0 L3.2,-2.5 L4.8,1.7 L6.4,-1.5 L8.0,3.1" fill="none" stroke="#e9f0fc" stroke-width="1.1" stroke-linejoin="round"/></g>
<g transform="translate(23.7,12.5) rotate(-72)"><path d="M-6.3,1.6 Q0,-3.4 6.3,1.6" fill="none" stroke="#7fa4de" stroke-width="8.4" stroke-linecap="round"/><path d="M-6.3,1.6 Q0,-3.4 6.3,1.6" fill="none" stroke="#a6c0ee" stroke-width="6.2" stroke-linecap="round"/><path d="M-8.0,3.1 L-6.4,-1.5 L-4.8,1.7 L-3.2,-2.5 L-1.6,1.0 L0.0,-2.9 L1.6,1.0 L3.2,-2.5 L4.8,1.7 L6.4,-1.5 L8.0,3.1" fill="none" stroke="#e9f0fc" stroke-width="1.1" stroke-linejoin="round"/></g>
<g transform="translate(-7.3,20.4) rotate(-8)"><path d="M-6.3,1.6 Q0,-3.4 6.3,1.6" fill="none" stroke="#7fa4de" stroke-width="8.4" stroke-linecap="round"/><path d="M-6.3,1.6 Q0,-3.4 6.3,1.6" fill="none" stroke="#a6c0ee" stroke-width="6.2" stroke-linecap="round"/><path d="M-8.0,3.1 L-6.4,-1.5 L-4.8,1.7 L-3.2,-2.5 L-1.6,1.0 L0.0,-2.9 L1.6,1.0 L3.2,-2.5 L4.8,1.7 L6.4,-1.5 L8.0,3.1" fill="none" stroke="#e9f0fc" stroke-width="1.1" stroke-linejoin="round"/></g>
<g transform="translate(32,29.7) rotate(-35)"><path d="M-6.3,1.6 Q0,-3.4 6.3,1.6" fill="none" stroke="#7fa4de" stroke-width="8.4" stroke-linecap="round"/><path d="M-6.3,1.6 Q0,-3.4 6.3,1.6" fill="none" stroke="#a6c0ee" stroke-width="6.2" stroke-linecap="round"/><path d="M-8.0,3.1 L-6.4,-1.5 L-4.8,1.7 L-3.2,-2.5 L-1.6,1.0 L0.0,-2.9 L1.6,1.0 L3.2,-2.5 L4.8,1.7 L6.4,-1.5 L8.0,3.1" fill="none" stroke="#e9f0fc" stroke-width="1.1" stroke-linejoin="round"/></g>
<g transform="translate(-0.7,38.6) rotate(3)"><path d="M-6.3,1.6 Q0,-3.4 6.3,1.6" fill="none" stroke="#7fa4de" stroke-width="8.4" stroke-linecap="round"/><path d="M-6.3,1.6 Q0,-3.4 6.3,1.6" fill="none" stroke="#a6c0ee" stroke-width="6.2" stroke-linecap="round"/><path d="M-8.0,3.1 L-6.4,-1.5 L-4.8,1.7 L-3.2,-2.5 L-1.6,1.0 L0.0,-2.9 L1.6,1.0 L3.2,-2.5 L4.8,1.7 L6.4,-1.5 L8.0,3.1" fill="none" stroke="#e9f0fc" stroke-width="1.1" stroke-linejoin="round"/></g>
</g>
<g transform="translate(496.2,411.6) scale(1.000)">
<ellipse cx="0" cy="0" rx="59.4" ry="56" fill="#f6f5f1" stroke="#a9a596" stroke-width="1.60"/>
<circle cx="-32.6" cy="5.9" r="15.2" fill="#dfc1a0"/>
<g transform="translate(-28.4,-29.7) rotate(-20)"><path d="M-6.3,1.6 Q0,-3.4 6.3,1.6" fill="none" stroke="#7fa4de" stroke-width="8.4" stroke-linecap="round"/><path d="M-6.3,1.6 Q0,-3.4 6.3,1.6" fill="none" stroke="#a6c0ee" stroke-width="6.2" stroke-linecap="round"/><path d="M-8.0,3.1 L-6.4,-1.5 L-4.8,1.7 L-3.2,-2.5 L-1.6,1.0 L0.0,-2.9 L1.6,1.0 L3.2,-2.5 L4.8,1.7 L6.4,-1.5 L8.0,3.1" fill="none" stroke="#e9f0fc" stroke-width="1.1" stroke-linejoin="round"/></g>
<g transform="translate(-9.2,-23.7) rotate(-30)"><path d="M-6.3,1.6 Q0,-3.4 6.3,1.6" fill="none" stroke="#7fa4de" stroke-width="8.4" stroke-linecap="round"/><path d="M-6.3,1.6 Q0,-3.4 6.3,1.6" fill="none" stroke="#a6c0ee" stroke-width="6.2" stroke-linecap="round"/><path d="M-8.0,3.1 L-6.4,-1.5 L-4.8,1.7 L-3.2,-2.5 L-1.6,1.0 L0.0,-2.9 L1.6,1.0 L3.2,-2.5 L4.8,1.7 L6.4,-1.5 L8.0,3.1" fill="none" stroke="#e9f0fc" stroke-width="1.1" stroke-linejoin="round"/></g>
<g transform="translate(24.1,-29.7) rotate(38)"><path d="M-6.3,1.6 Q0,-3.4 6.3,1.6" fill="none" stroke="#7fa4de" stroke-width="8.4" stroke-linecap="round"/><path d="M-6.3,1.6 Q0,-3.4 6.3,1.6" fill="none" stroke="#a6c0ee" stroke-width="6.2" stroke-linecap="round"/><path d="M-8.0,3.1 L-6.4,-1.5 L-4.8,1.7 L-3.2,-2.5 L-1.6,1.0 L0.0,-2.9 L1.6,1.0 L3.2,-2.5 L4.8,1.7 L6.4,-1.5 L8.0,3.1" fill="none" stroke="#e9f0fc" stroke-width="1.1" stroke-linejoin="round"/></g>
<g transform="translate(12.9,-14.8) rotate(28)"><path d="M-6.3,1.6 Q0,-3.4 6.3,1.6" fill="none" stroke="#e18f95" stroke-width="8.4" stroke-linecap="round"/><path d="M-6.3,1.6 Q0,-3.4 6.3,1.6" fill="none" stroke="#eeaeb2" stroke-width="6.2" stroke-linecap="round"/><path d="M-8.0,3.1 L-6.4,-1.5 L-4.8,1.7 L-3.2,-2.5 L-1.6,1.0 L0.0,-2.9 L1.6,1.0 L3.2,-2.5 L4.8,1.7 L6.4,-1.5 L8.0,3.1" fill="none" stroke="#fce6e7" stroke-width="1.1" stroke-linejoin="round"/></g>
<g transform="translate(-1.3,0) rotate(58)"><path d="M-6.3,1.6 Q0,-3.4 6.3,1.6" fill="none" stroke="#7fa4de" stroke-width="8.4" stroke-linecap="round"/><path d="M-6.3,1.6 Q0,-3.4 6.3,1.6" fill="none" stroke="#a6c0ee" stroke-width="6.2" stroke-linecap="round"/><path d="M-8.0,3.1 L-6.4,-1.5 L-4.8,1.7 L-3.2,-2.5 L-1.6,1.0 L0.0,-2.9 L1.6,1.0 L3.2,-2.5 L4.8,1.7 L6.4,-1.5 L8.0,3.1" fill="none" stroke="#e9f0fc" stroke-width="1.1" stroke-linejoin="round"/></g>
<g transform="translate(40.6,-1.6) rotate(75)"><path d="M-6.3,1.6 Q0,-3.4 6.3,1.6" fill="none" stroke="#7fa4de" stroke-width="8.4" stroke-linecap="round"/><path d="M-6.3,1.6 Q0,-3.4 6.3,1.6" fill="none" stroke="#a6c0ee" stroke-width="6.2" stroke-linecap="round"/><path d="M-8.0,3.1 L-6.4,-1.5 L-4.8,1.7 L-3.2,-2.5 L-1.6,1.0 L0.0,-2.9 L1.6,1.0 L3.2,-2.5 L4.8,1.7 L6.4,-1.5 L8.0,3.1" fill="none" stroke="#e9f0fc" stroke-width="1.1" stroke-linejoin="round"/></g>
<g transform="translate(23.7,12.5) rotate(-72)"><path d="M-6.3,1.6 Q0,-3.4 6.3,1.6" fill="none" stroke="#e18f95" stroke-width="8.4" stroke-linecap="round"/><path d="M-6.3,1.6 Q0,-3.4 6.3,1.6" fill="none" stroke="#eeaeb2" stroke-width="6.2" stroke-linecap="round"/><path d="M-8.0,3.1 L-6.4,-1.5 L-4.8,1.7 L-3.2,-2.5 L-1.6,1.0 L0.0,-2.9 L1.6,1.0 L3.2,-2.5 L4.8,1.7 L6.4,-1.5 L8.0,3.1" fill="none" stroke="#fce6e7" stroke-width="1.1" stroke-linejoin="round"/></g>
<g transform="translate(-7.3,20.4) rotate(-8)"><path d="M-6.3,1.6 Q0,-3.4 6.3,1.6" fill="none" stroke="#7fa4de" stroke-width="8.4" stroke-linecap="round"/><path d="M-6.3,1.6 Q0,-3.4 6.3,1.6" fill="none" stroke="#a6c0ee" stroke-width="6.2" stroke-linecap="round"/><path d="M-8.0,3.1 L-6.4,-1.5 L-4.8,1.7 L-3.2,-2.5 L-1.6,1.0 L0.0,-2.9 L1.6,1.0 L3.2,-2.5 L4.8,1.7 L6.4,-1.5 L8.0,3.1" fill="none" stroke="#e9f0fc" stroke-width="1.1" stroke-linejoin="round"/></g>
<g transform="translate(32,29.7) rotate(-35)"><path d="M-6.3,1.6 Q0,-3.4 6.3,1.6" fill="none" stroke="#7fa4de" stroke-width="8.4" stroke-linecap="round"/><path d="M-6.3,1.6 Q0,-3.4 6.3,1.6" fill="none" stroke="#a6c0ee" stroke-width="6.2" stroke-linecap="round"/><path d="M-8.0,3.1 L-6.4,-1.5 L-4.8,1.7 L-3.2,-2.5 L-1.6,1.0 L0.0,-2.9 L1.6,1.0 L3.2,-2.5 L4.8,1.7 L6.4,-1.5 L8.0,3.1" fill="none" stroke="#e9f0fc" stroke-width="1.1" stroke-linejoin="round"/></g>
<g transform="translate(-0.7,38.6) rotate(3)"><path d="M-6.3,1.6 Q0,-3.4 6.3,1.6" fill="none" stroke="#7fa4de" stroke-width="8.4" stroke-linecap="round"/><path d="M-6.3,1.6 Q0,-3.4 6.3,1.6" fill="none" stroke="#a6c0ee" stroke-width="6.2" stroke-linecap="round"/><path d="M-8.0,3.1 L-6.4,-1.5 L-4.8,1.7 L-3.2,-2.5 L-1.6,1.0 L0.0,-2.9 L1.6,1.0 L3.2,-2.5 L4.8,1.7 L6.4,-1.5 L8.0,3.1" fill="none" stroke="#e9f0fc" stroke-width="1.1" stroke-linejoin="round"/></g>
</g>
<g transform="translate(496.2,536.5) scale(1.000)">
<ellipse cx="0" cy="0" rx="59.4" ry="56" fill="#f6f5f1" stroke="#a9a596" stroke-width="1.60"/>
<circle cx="-32.6" cy="5.9" r="15.2" fill="#dfc1a0"/>
<g transform="translate(-28.4,-29.7) rotate(-20)"><path d="M-6.3,1.6 Q0,-3.4 6.3,1.6" fill="none" stroke="#7fa4de" stroke-width="8.4" stroke-linecap="round"/><path d="M-6.3,1.6 Q0,-3.4 6.3,1.6" fill="none" stroke="#a6c0ee" stroke-width="6.2" stroke-linecap="round"/><path d="M-8.0,3.1 L-6.4,-1.5 L-4.8,1.7 L-3.2,-2.5 L-1.6,1.0 L0.0,-2.9 L1.6,1.0 L3.2,-2.5 L4.8,1.7 L6.4,-1.5 L8.0,3.1" fill="none" stroke="#e9f0fc" stroke-width="1.1" stroke-linejoin="round"/></g>
<g transform="translate(-9.2,-23.7) rotate(-30)"><path d="M-6.3,1.6 Q0,-3.4 6.3,1.6" fill="none" stroke="#7fa4de" stroke-width="8.4" stroke-linecap="round"/><path d="M-6.3,1.6 Q0,-3.4 6.3,1.6" fill="none" stroke="#a6c0ee" stroke-width="6.2" stroke-linecap="round"/><path d="M-8.0,3.1 L-6.4,-1.5 L-4.8,1.7 L-3.2,-2.5 L-1.6,1.0 L0.0,-2.9 L1.6,1.0 L3.2,-2.5 L4.8,1.7 L6.4,-1.5 L8.0,3.1" fill="none" stroke="#e9f0fc" stroke-width="1.1" stroke-linejoin="round"/></g>
<g transform="translate(24.1,-29.7) rotate(38)"><path d="M-6.3,1.6 Q0,-3.4 6.3,1.6" fill="none" stroke="#7fa4de" stroke-width="8.4" stroke-linecap="round"/><path d="M-6.3,1.6 Q0,-3.4 6.3,1.6" fill="none" stroke="#a6c0ee" stroke-width="6.2" stroke-linecap="round"/><path d="M-8.0,3.1 L-6.4,-1.5 L-4.8,1.7 L-3.2,-2.5 L-1.6,1.0 L0.0,-2.9 L1.6,1.0 L3.2,-2.5 L4.8,1.7 L6.4,-1.5 L8.0,3.1" fill="none" stroke="#e9f0fc" stroke-width="1.1" stroke-linejoin="round"/></g>
<g transform="translate(12.9,-14.8) rotate(28)"><path d="M-6.3,1.6 Q0,-3.4 6.3,1.6" fill="none" stroke="#e18f95" stroke-width="8.4" stroke-linecap="round"/><path d="M-6.3,1.6 Q0,-3.4 6.3,1.6" fill="none" stroke="#eeaeb2" stroke-width="6.2" stroke-linecap="round"/><path d="M-8.0,3.1 L-6.4,-1.5 L-4.8,1.7 L-3.2,-2.5 L-1.6,1.0 L0.0,-2.9 L1.6,1.0 L3.2,-2.5 L4.8,1.7 L6.4,-1.5 L8.0,3.1" fill="none" stroke="#fce6e7" stroke-width="1.1" stroke-linejoin="round"/></g>
<g transform="translate(-1.3,0) rotate(58)"><path d="M-6.3,1.6 Q0,-3.4 6.3,1.6" fill="none" stroke="#7fa4de" stroke-width="8.4" stroke-linecap="round"/><path d="M-6.3,1.6 Q0,-3.4 6.3,1.6" fill="none" stroke="#a6c0ee" stroke-width="6.2" stroke-linecap="round"/><path d="M-8.0,3.1 L-6.4,-1.5 L-4.8,1.7 L-3.2,-2.5 L-1.6,1.0 L0.0,-2.9 L1.6,1.0 L3.2,-2.5 L4.8,1.7 L6.4,-1.5 L8.0,3.1" fill="none" stroke="#e9f0fc" stroke-width="1.1" stroke-linejoin="round"/></g>
<g transform="translate(40.6,-1.6) rotate(75)"><path d="M-6.3,1.6 Q0,-3.4 6.3,1.6" fill="none" stroke="#7fa4de" stroke-width="8.4" stroke-linecap="round"/><path d="M-6.3,1.6 Q0,-3.4 6.3,1.6" fill="none" stroke="#a6c0ee" stroke-width="6.2" stroke-linecap="round"/><path d="M-8.0,3.1 L-6.4,-1.5 L-4.8,1.7 L-3.2,-2.5 L-1.6,1.0 L0.0,-2.9 L1.6,1.0 L3.2,-2.5 L4.8,1.7 L6.4,-1.5 L8.0,3.1" fill="none" stroke="#e9f0fc" stroke-width="1.1" stroke-linejoin="round"/></g>
<g transform="translate(23.7,12.5) rotate(-72)"><path d="M-6.3,1.6 Q0,-3.4 6.3,1.6" fill="none" stroke="#e18f95" stroke-width="8.4" stroke-linecap="round"/><path d="M-6.3,1.6 Q0,-3.4 6.3,1.6" fill="none" stroke="#eeaeb2" stroke-width="6.2" stroke-linecap="round"/><path d="M-8.0,3.1 L-6.4,-1.5 L-4.8,1.7 L-3.2,-2.5 L-1.6,1.0 L0.0,-2.9 L1.6,1.0 L3.2,-2.5 L4.8,1.7 L6.4,-1.5 L8.0,3.1" fill="none" stroke="#fce6e7" stroke-width="1.1" stroke-linejoin="round"/></g>
<g transform="translate(-7.3,20.4) rotate(-8)"><path d="M-6.3,1.6 Q0,-3.4 6.3,1.6" fill="none" stroke="#e18f95" stroke-width="8.4" stroke-linecap="round"/><path d="M-6.3,1.6 Q0,-3.4 6.3,1.6" fill="none" stroke="#eeaeb2" stroke-width="6.2" stroke-linecap="round"/><path d="M-8.0,3.1 L-6.4,-1.5 L-4.8,1.7 L-3.2,-2.5 L-1.6,1.0 L0.0,-2.9 L1.6,1.0 L3.2,-2.5 L4.8,1.7 L6.4,-1.5 L8.0,3.1" fill="none" stroke="#fce6e7" stroke-width="1.1" stroke-linejoin="round"/></g>
<g transform="translate(32,29.7) rotate(-35)"><path d="M-6.3,1.6 Q0,-3.4 6.3,1.6" fill="none" stroke="#7fa4de" stroke-width="8.4" stroke-linecap="round"/><path d="M-6.3,1.6 Q0,-3.4 6.3,1.6" fill="none" stroke="#a6c0ee" stroke-width="6.2" stroke-linecap="round"/><path d="M-8.0,3.1 L-6.4,-1.5 L-4.8,1.7 L-3.2,-2.5 L-1.6,1.0 L0.0,-2.9 L1.6,1.0 L3.2,-2.5 L4.8,1.7 L6.4,-1.5 L8.0,3.1" fill="none" stroke="#e9f0fc" stroke-width="1.1" stroke-linejoin="round"/></g>
<g transform="translate(-0.7,38.6) rotate(3)"><path d="M-6.3,1.6 Q0,-3.4 6.3,1.6" fill="none" stroke="#7fa4de" stroke-width="8.4" stroke-linecap="round"/><path d="M-6.3,1.6 Q0,-3.4 6.3,1.6" fill="none" stroke="#a6c0ee" stroke-width="6.2" stroke-linecap="round"/><path d="M-8.0,3.1 L-6.4,-1.5 L-4.8,1.7 L-3.2,-2.5 L-1.6,1.0 L0.0,-2.9 L1.6,1.0 L3.2,-2.5 L4.8,1.7 L6.4,-1.5 L8.0,3.1" fill="none" stroke="#e9f0fc" stroke-width="1.1" stroke-linejoin="round"/></g>
</g>
<g transform="translate(496.2,661.5) scale(1.000)">
<ellipse cx="0" cy="0" rx="59.4" ry="56" fill="#f6f5f1" stroke="#a9a596" stroke-width="1.60"/>
<circle cx="-32.6" cy="5.9" r="15.2" fill="#dfc1a0"/>
<g transform="translate(-28.4,-29.7) rotate(-20)"><path d="M-6.3,1.6 Q0,-3.4 6.3,1.6" fill="none" stroke="#7fa4de" stroke-width="8.4" stroke-linecap="round"/><path d="M-6.3,1.6 Q0,-3.4 6.3,1.6" fill="none" stroke="#a6c0ee" stroke-width="6.2" stroke-linecap="round"/><path d="M-8.0,3.1 L-6.4,-1.5 L-4.8,1.7 L-3.2,-2.5 L-1.6,1.0 L0.0,-2.9 L1.6,1.0 L3.2,-2.5 L4.8,1.7 L6.4,-1.5 L8.0,3.1" fill="none" stroke="#e9f0fc" stroke-width="1.1" stroke-linejoin="round"/></g>
<g transform="translate(-9.2,-23.7) rotate(-30)"><path d="M-6.3,1.6 Q0,-3.4 6.3,1.6" fill="none" stroke="#7fa4de" stroke-width="8.4" stroke-linecap="round"/><path d="M-6.3,1.6 Q0,-3.4 6.3,1.6" fill="none" stroke="#a6c0ee" stroke-width="6.2" stroke-linecap="round"/><path d="M-8.0,3.1 L-6.4,-1.5 L-4.8,1.7 L-3.2,-2.5 L-1.6,1.0 L0.0,-2.9 L1.6,1.0 L3.2,-2.5 L4.8,1.7 L6.4,-1.5 L8.0,3.1" fill="none" stroke="#e9f0fc" stroke-width="1.1" stroke-linejoin="round"/></g>
<g transform="translate(24.1,-29.7) rotate(38)"><path d="M-6.3,1.6 Q0,-3.4 6.3,1.6" fill="none" stroke="#7fa4de" stroke-width="8.4" stroke-linecap="round"/><path d="M-6.3,1.6 Q0,-3.4 6.3,1.6" fill="none" stroke="#a6c0ee" stroke-width="6.2" stroke-linecap="round"/><path d="M-8.0,3.1 L-6.4,-1.5 L-4.8,1.7 L-3.2,-2.5 L-1.6,1.0 L0.0,-2.9 L1.6,1.0 L3.2,-2.5 L4.8,1.7 L6.4,-1.5 L8.0,3.1" fill="none" stroke="#e9f0fc" stroke-width="1.1" stroke-linejoin="round"/></g>
<g transform="translate(12.9,-14.8) rotate(28)"><path d="M-6.3,1.6 Q0,-3.4 6.3,1.6" fill="none" stroke="#e18f95" stroke-width="8.4" stroke-linecap="round"/><path d="M-6.3,1.6 Q0,-3.4 6.3,1.6" fill="none" stroke="#eeaeb2" stroke-width="6.2" stroke-linecap="round"/><path d="M-8.0,3.1 L-6.4,-1.5 L-4.8,1.7 L-3.2,-2.5 L-1.6,1.0 L0.0,-2.9 L1.6,1.0 L3.2,-2.5 L4.8,1.7 L6.4,-1.5 L8.0,3.1" fill="none" stroke="#fce6e7" stroke-width="1.1" stroke-linejoin="round"/></g>
<g transform="translate(-1.3,0) rotate(58)"><path d="M-6.3,1.6 Q0,-3.4 6.3,1.6" fill="none" stroke="#e18f95" stroke-width="8.4" stroke-linecap="round"/><path d="M-6.3,1.6 Q0,-3.4 6.3,1.6" fill="none" stroke="#eeaeb2" stroke-width="6.2" stroke-linecap="round"/><path d="M-8.0,3.1 L-6.4,-1.5 L-4.8,1.7 L-3.2,-2.5 L-1.6,1.0 L0.0,-2.9 L1.6,1.0 L3.2,-2.5 L4.8,1.7 L6.4,-1.5 L8.0,3.1" fill="none" stroke="#fce6e7" stroke-width="1.1" stroke-linejoin="round"/></g>
<g transform="translate(40.6,-1.6) rotate(75)"><path d="M-6.3,1.6 Q0,-3.4 6.3,1.6" fill="none" stroke="#7fa4de" stroke-width="8.4" stroke-linecap="round"/><path d="M-6.3,1.6 Q0,-3.4 6.3,1.6" fill="none" stroke="#a6c0ee" stroke-width="6.2" stroke-linecap="round"/><path d="M-8.0,3.1 L-6.4,-1.5 L-4.8,1.7 L-3.2,-2.5 L-1.6,1.0 L0.0,-2.9 L1.6,1.0 L3.2,-2.5 L4.8,1.7 L6.4,-1.5 L8.0,3.1" fill="none" stroke="#e9f0fc" stroke-width="1.1" stroke-linejoin="round"/></g>
<g transform="translate(23.7,12.5) rotate(-72)"><path d="M-6.3,1.6 Q0,-3.4 6.3,1.6" fill="none" stroke="#e18f95" stroke-width="8.4" stroke-linecap="round"/><path d="M-6.3,1.6 Q0,-3.4 6.3,1.6" fill="none" stroke="#eeaeb2" stroke-width="6.2" stroke-linecap="round"/><path d="M-8.0,3.1 L-6.4,-1.5 L-4.8,1.7 L-3.2,-2.5 L-1.6,1.0 L0.0,-2.9 L1.6,1.0 L3.2,-2.5 L4.8,1.7 L6.4,-1.5 L8.0,3.1" fill="none" stroke="#fce6e7" stroke-width="1.1" stroke-linejoin="round"/></g>
<g transform="translate(-7.3,20.4) rotate(-8)"><path d="M-6.3,1.6 Q0,-3.4 6.3,1.6" fill="none" stroke="#e18f95" stroke-width="8.4" stroke-linecap="round"/><path d="M-6.3,1.6 Q0,-3.4 6.3,1.6" fill="none" stroke="#eeaeb2" stroke-width="6.2" stroke-linecap="round"/><path d="M-8.0,3.1 L-6.4,-1.5 L-4.8,1.7 L-3.2,-2.5 L-1.6,1.0 L0.0,-2.9 L1.6,1.0 L3.2,-2.5 L4.8,1.7 L6.4,-1.5 L8.0,3.1" fill="none" stroke="#fce6e7" stroke-width="1.1" stroke-linejoin="round"/></g>
<g transform="translate(32,29.7) rotate(-35)"><path d="M-6.3,1.6 Q0,-3.4 6.3,1.6" fill="none" stroke="#7fa4de" stroke-width="8.4" stroke-linecap="round"/><path d="M-6.3,1.6 Q0,-3.4 6.3,1.6" fill="none" stroke="#a6c0ee" stroke-width="6.2" stroke-linecap="round"/><path d="M-8.0,3.1 L-6.4,-1.5 L-4.8,1.7 L-3.2,-2.5 L-1.6,1.0 L0.0,-2.9 L1.6,1.0 L3.2,-2.5 L4.8,1.7 L6.4,-1.5 L8.0,3.1" fill="none" stroke="#e9f0fc" stroke-width="1.1" stroke-linejoin="round"/></g>
<g transform="translate(-0.7,38.6) rotate(3)"><path d="M-6.3,1.6 Q0,-3.4 6.3,1.6" fill="none" stroke="#7fa4de" stroke-width="8.4" stroke-linecap="round"/><path d="M-6.3,1.6 Q0,-3.4 6.3,1.6" fill="none" stroke="#a6c0ee" stroke-width="6.2" stroke-linecap="round"/><path d="M-8.0,3.1 L-6.4,-1.5 L-4.8,1.7 L-3.2,-2.5 L-1.6,1.0 L0.0,-2.9 L1.6,1.0 L3.2,-2.5 L4.8,1.7 L6.4,-1.5 L8.0,3.1" fill="none" stroke="#e9f0fc" stroke-width="1.1" stroke-linejoin="round"/></g>
</g>
<polygon points="159.9,437.1 219.9,389.7 223.3,394.1 163.3,441.5" fill="url(#ag3)"/>
<polygon points="231.8,383.9 222.9,400.5 221.1,392.4 213.6,388.7" fill="#6f7c96"/>
<polygon points="165.2,506.8 223.1,551.6 219.6,556.1 161.8,511.2" fill="url(#ag4)"/>
<polygon points="231.6,561.8 213.3,557.1 220.8,553.4 222.5,545.3" fill="#6f7c96"/>
<polygon points="363.2,321.3 417.3,297.8 419.5,302.9 365.4,326.5" fill="url(#ag5)"/>
<polygon points="430.3,295.2 417.4,309.0 417.8,300.7 411.4,295.2" fill="#6f7c96"/>
<polygon points="366.4,364.1 419.4,386.5 417.3,391.6 364.2,369.3" fill="url(#ag6)"/>
<polygon points="430.3,394.1 411.4,394.3 417.7,388.8 417.3,380.4" fill="#6f7c96"/>
<polygon points="364.7,571.0 417.7,549.6 419.8,554.8 366.7,576.2" fill="url(#ag7)"/>
<polygon points="430.8,547.3 417.6,560.8 418.1,552.4 411.9,546.8" fill="#6f7c96"/>
<polygon points="368.1,616.3 419.9,637.8 417.7,642.9 365.9,621.5" fill="url(#ag8)"/>
<polygon points="430.8,645.3 411.9,645.6 418.2,640.1 417.7,631.7" fill="#6f7c96"/>
<text x="573.2" y="295.8" font-size="23.3" fill="#e9a1a3" textLength="62.2" lengthAdjust="spacingAndGlyphs">10% T</text>
<text x="650.8" y="295.8" font-size="23.3" fill="#93b1e2" textLength="72.1" lengthAdjust="spacingAndGlyphs">90% C</text>
<text x="573.2" y="418.9" font-size="23.3" fill="#e9a1a3" textLength="66.6" lengthAdjust="spacingAndGlyphs">20% T</text>
<text x="650.8" y="418.9" font-size="23.3" fill="#93b1e2" textLength="70.7" lengthAdjust="spacingAndGlyphs">80% C</text>
<text x="573.2" y="543.7" font-size="23.3" fill="#e9a1a3" textLength="65.0" lengthAdjust="spacingAndGlyphs">30% T</text>
<text x="650.8" y="543.7" font-size="23.3" fill="#93b1e2" textLength="68.3" lengthAdjust="spacingAndGlyphs">70% C</text>
<text x="573.2" y="668.1" font-size="23.3" fill="#e9a1a3" textLength="66.4" lengthAdjust="spacingAndGlyphs">40% T</text>
<text x="650.8" y="668.1" font-size="23.3" fill="#93b1e2" textLength="71.4" lengthAdjust="spacingAndGlyphs">60% C</text>
<text x="830.5" y="29.7" font-size="38.5" fill="#000" textLength="24.8" lengthAdjust="spacingAndGlyphs" font-weight="bold" stroke="#000" stroke-width="1.3">b</text>
<text x="901.4" y="184.3" font-size="27.4" fill="#000" textLength="194.0" lengthAdjust="spacingAndGlyphs">chrM_9412_G_A</text>
<text x="899.5" y="247.1" font-size="27.4" fill="#000" textLength="195.9" lengthAdjust="spacingAndGlyphs">chrM_4061_C_A</text>
<text x="903.4" y="310.3" font-size="27.4" fill="#000" textLength="192.0" lengthAdjust="spacingAndGlyphs">chrM_4175_G_A</text>
<text x="902.4" y="373.6" font-size="27.4" fill="#000" textLength="193.0" lengthAdjust="spacingAndGlyphs">chrM_2456_T_A</text>
<text x="895.3" y="437.6" font-size="27.4" fill="#000" textLength="200.1" lengthAdjust="spacingAndGlyphs">chrM_6269_A_G</text>
<text x="898.3" y="500.8" font-size="27.4" fill="#000" textLength="197.1" lengthAdjust="spacingAndGlyphs">chrM_2702_G_A</text>
<text x="888.0" y="564.6" font-size="27.4" fill="#000" textLength="207.4" lengthAdjust="spacingAndGlyphs">chrM_15280_C_T</text>
<rect x="1108.80" y="144.80" width="51.00" height="63.43" fill="url(#hb0)"/>
<rect x="1112.50" y="144.80" width="1.00" height="63.43" fill="#f72a1a"/>
<rect x="1118.50" y="144.80" width="1.00" height="63.43" fill="#f72a1a"/>
<rect x="1125.50" y="144.80" width="1.00" height="63.43" fill="#f72a1a"/>
<rect x="1132.50" y="144.80" width="1.00" height="63.43" fill="#f72a1a"/>
<rect x="1139.50" y="144.80" width="1.00" height="63.43" fill="#f72a1a"/>
<rect x="1110.85" y="208.23" width="1.30" height="63.43" fill="#fdd3c9"/>
<rect x="1117.75" y="208.23" width="1.30" height="63.43" fill="#fddcd3"/>
<rect x="1127.65" y="208.23" width="1.30" height="63.43" fill="#fee4dd"/>
<rect x="1137.55" y="208.23" width="1.30" height="63.43" fill="#fdd0c5"/>
<rect x="1144.15" y="208.23" width="1.30" height="63.43" fill="#fdd8ce"/>
<rect x="1152.35" y="208.23" width="1.30" height="63.43" fill="#fff0ec"/>
<rect x="1159.60" y="208.23" width="78.60" height="63.43" fill="url(#hb1)"/>
<rect x="1127.55" y="271.66" width="1.50" height="63.43" fill="#feeae5"/>
<rect x="1134.75" y="271.66" width="1.50" height="63.43" fill="#fdd0c6"/>
<rect x="1145.65" y="271.66" width="1.50" height="63.43" fill="#feeae5"/>
<rect x="1204.05" y="271.66" width="1.50" height="63.43" fill="#fb7a66"/>
<rect x="1215.85" y="271.66" width="1.50" height="63.43" fill="#fb826e"/>
<rect x="1238.40" y="271.66" width="73.80" height="63.43" fill="url(#hb2)"/>
<rect x="1110.85" y="335.09" width="1.30" height="63.43" fill="#fee6e0"/>
<rect x="1130.65" y="335.09" width="1.30" height="63.43" fill="#fee6e0"/>
<rect x="1134.95" y="335.09" width="1.30" height="63.43" fill="#fee6e0"/>
<rect x="1138.95" y="335.09" width="1.30" height="63.43" fill="#fee6e0"/>
<rect x="1143.85" y="335.09" width="1.30" height="63.43" fill="#fddcd4"/>
<rect x="1150.45" y="335.09" width="1.30" height="63.43" fill="#fee6e0"/>
<rect x="1158.05" y="335.09" width="1.30" height="63.43" fill="#fddcd4"/>
<rect x="1171.85" y="335.09" width="1.30" height="63.43" fill="#fddcd4"/>
<rect x="1199.95" y="335.09" width="1.30" height="63.43" fill="#fddcd4"/>
<rect x="1222.95" y="335.09" width="1.30" height="63.43" fill="#fee6e0"/>
<rect x="1225.25" y="335.09" width="1.30" height="63.43" fill="#fee6e0"/>
<rect x="1244.45" y="335.09" width="1.30" height="63.43" fill="#fee6e0"/>
<rect x="1252.65" y="335.09" width="1.30" height="63.43" fill="#fee6e0"/>
<rect x="1262.55" y="335.09" width="1.30" height="63.43" fill="#fee6e0"/>
<rect x="1270.75" y="335.09" width="1.30" height="63.43" fill="#fee6e0"/>
<rect x="1287.25" y="335.09" width="1.30" height="63.43" fill="#fee6e0"/>
<rect x="1297.15" y="335.09" width="1.30" height="63.43" fill="#fee6e0"/>
<rect x="1304.45" y="335.09" width="1.30" height="63.43" fill="#fee6e0"/>
<rect x="1312.40" y="335.09" width="92.80" height="63.43" fill="url(#hb3)"/>
<rect x="1132.35" y="398.51" width="1.30" height="63.43" fill="#fee6e0"/>
<rect x="1174.55" y="398.51" width="1.30" height="63.43" fill="#fee6e0"/>
<rect x="1187.75" y="398.51" width="1.30" height="63.43" fill="#fddad1"/>
<rect x="1218.75" y="398.51" width="1.30" height="63.43" fill="#fee6e0"/>
<rect x="1231.85" y="398.51" width="1.30" height="63.43" fill="#fddad1"/>
<rect x="1278.05" y="398.51" width="1.30" height="63.43" fill="#fddad1"/>
<rect x="1283.95" y="398.51" width="1.30" height="63.43" fill="#fddad1"/>
<rect x="1289.95" y="398.51" width="1.30" height="63.43" fill="#fddad1"/>
<rect x="1303.75" y="398.51" width="1.30" height="63.43" fill="#fddad1"/>
<rect x="1307.75" y="398.51" width="1.30" height="63.43" fill="#fddad1"/>
<rect x="1369.05" y="398.51" width="1.30" height="63.43" fill="#fee6e0"/>
<rect x="1391.45" y="398.51" width="1.30" height="63.43" fill="#fddad1"/>
<rect x="1167.10" y="398.51" width="1.60" height="63.43" fill="#f5150c"/>
<rect x="1405.20" y="398.51" width="39.00" height="63.43" fill="url(#hb4)"/>
<rect x="1159.65" y="461.94" width="1.30" height="63.43" fill="#fee3dd"/>
<rect x="1165.25" y="461.94" width="1.30" height="63.43" fill="#feece8"/>
<rect x="1168.55" y="461.94" width="1.30" height="63.43" fill="#feece8"/>
<rect x="1183.45" y="461.94" width="1.30" height="63.43" fill="#fee3dd"/>
<rect x="1211.45" y="461.94" width="1.30" height="63.43" fill="#fee3dd"/>
<rect x="1218.05" y="461.94" width="1.30" height="63.43" fill="#fee3dd"/>
<rect x="1255.35" y="461.94" width="1.30" height="63.43" fill="#fee3dd"/>
<rect x="1274.05" y="461.94" width="1.30" height="63.43" fill="#fee3dd"/>
<rect x="1308.05" y="461.94" width="1.30" height="63.43" fill="#fee3dd"/>
<rect x="1316.95" y="461.94" width="1.30" height="63.43" fill="#feece8"/>
<rect x="1320.25" y="461.94" width="1.30" height="63.43" fill="#fee3dd"/>
<rect x="1333.45" y="461.94" width="1.30" height="63.43" fill="#fee3dd"/>
<rect x="1343.35" y="461.94" width="1.30" height="63.43" fill="#fee3dd"/>
<rect x="1354.85" y="461.94" width="1.30" height="63.43" fill="#feece8"/>
<rect x="1363.15" y="461.94" width="1.30" height="63.43" fill="#feece8"/>
<rect x="1373.05" y="461.94" width="1.30" height="63.43" fill="#feece8"/>
<rect x="1384.55" y="461.94" width="1.30" height="63.43" fill="#feece8"/>
<rect x="1424.15" y="461.94" width="1.30" height="63.43" fill="#fee3dd"/>
<rect x="1446.00" y="461.94" width="36.00" height="63.43" fill="url(#hb5)"/>
<rect x="1444.65" y="461.94" width="1.70" height="63.43" fill="#f5150c"/>
<rect x="1231.60" y="525.37" width="1.80" height="63.43" fill="#fdc9bd"/>
<rect x="1243.45" y="525.37" width="1.30" height="63.43" fill="#fee6e0"/>
<rect x="1280.65" y="525.37" width="1.30" height="63.43" fill="#fee3dc"/>
<rect x="1419.15" y="525.37" width="1.30" height="63.43" fill="#feebe6"/>
<rect x="1479.20" y="525.37" width="23.00" height="63.43" fill="url(#hb6)"/>
<rect x="1108.8" y="144.8" width="581.4" height="444.0" fill="none" stroke="#2a2a2a" stroke-width="1.4"/>
<text x="1305.1" y="622.8" font-size="27.4" fill="#000" textLength="189.6" lengthAdjust="spacingAndGlyphs">Individual cells</text>
<text x="1545.3" y="171.4" font-size="27.4" fill="#000" textLength="80.8" lengthAdjust="spacingAndGlyphs">Clonal</text>
<text x="1515.3" y="204.4" font-size="27.4" fill="#000" textLength="141.4" lengthAdjust="spacingAndGlyphs">abundance</text>
<rect x="1541.00" y="211.30" width="96.00" height="20.50" fill="url(#hbl)"/>
<line x1="1631.6" y1="211.3" x2="1631.6" y2="231.8" stroke="#fff" stroke-width="1" stroke-dasharray="3 2.5"/>
<text x="1533.7" y="258.1" font-size="22.8" fill="#000" textLength="13.9" lengthAdjust="spacingAndGlyphs">0</text>
<text x="1615.2" y="258.1" font-size="22.8" fill="#000" textLength="32.9" lengthAdjust="spacingAndGlyphs">0.2</text>
<text x="1693.7" y="130.9" font-size="27.4" fill="#000" textLength="295.0" lengthAdjust="spacingAndGlyphs">Cumulative abundance</text>
<rect x="1694.3" y="147.7" width="98.3" height="57.4" rx="2.5" fill="#8080fb"/>
<text x="1702.9" y="184.0" font-size="22.8" fill="#000" textLength="70.2" lengthAdjust="spacingAndGlyphs">0.0179</text>
<text x="1806.7" y="184.0" font-size="22.8" fill="#f5821f" textLength="215.7" lengthAdjust="spacingAndGlyphs">Missense conserved</text>
<rect x="1694.3" y="211.1" width="16.8" height="57.4" rx="2.5" fill="#8080fb"/>
<text x="1702.9" y="246.8" font-size="22.8" fill="#000" textLength="79.1" lengthAdjust="spacingAndGlyphs">0.0034</text>
<text x="1806.7" y="246.8" font-size="22.8" fill="#fdb515" textLength="97.6" lengthAdjust="spacingAndGlyphs">Missense</text>
<rect x="1694.3" y="274.5" width="15.2" height="57.4" rx="2.5" fill="#8080fb"/>
<text x="1702.9" y="310.2" font-size="22.8" fill="#000" textLength="74.8" lengthAdjust="spacingAndGlyphs">0.0031</text>
<text x="1806.7" y="310.2" font-size="22.8" fill="#e03a3e" textLength="36.6" lengthAdjust="spacingAndGlyphs">LoF</text>
<rect x="1694.3" y="337.9" width="6.0" height="57.4" rx="2.5" fill="#8080fb"/>
<text x="1702.9" y="373.5" font-size="22.8" fill="#000" textLength="73.2" lengthAdjust="spacingAndGlyphs">0.0015</text>
<text x="1806.7" y="373.5" font-size="22.8" fill="#5c1f9e" textLength="172.8" lengthAdjust="spacingAndGlyphs">rRNA conserved</text>
<rect x="1694.3" y="401.3" width="4.8" height="57.4" rx="2.4" fill="#8080fb"/>
<text x="1702.9" y="437.4" font-size="22.8" fill="#000" textLength="73.0" lengthAdjust="spacingAndGlyphs">0.0012</text>
<text x="1806.7" y="437.4" font-size="22.8" fill="#3a8f8f" textLength="138.1" lengthAdjust="spacingAndGlyphs">Synonymous</text>
<rect x="1694.3" y="464.7" width="3.6" height="57.4" rx="1.8" fill="#8080fb"/>
<text x="1702.9" y="500.4" font-size="22.8" fill="#000" textLength="60.2" lengthAdjust="spacingAndGlyphs">0.001</text>
<text x="1806.7" y="500.4" font-size="22.8" fill="#e3bdf3" textLength="53.9" lengthAdjust="spacingAndGlyphs">rRNA</text>
<rect x="1694.3" y="528.1" width="1.4" height="57.4" rx="0.7" fill="#8080fb"/>
<text x="1702.9" y="564.3" font-size="22.8" fill="#000" textLength="66.1" lengthAdjust="spacingAndGlyphs">6e−04</text>
<text x="1806.7" y="564.3" font-size="22.8" fill="#3a8f8f" textLength="138.1" lengthAdjust="spacingAndGlyphs">Synonymous</text>
<text x="0.0" y="771.6" font-size="38.5" fill="#000" textLength="23.7" lengthAdjust="spacingAndGlyphs" font-weight="bold" stroke="#000" stroke-width="1.3">c</text>
<text x="23.7" y="884.0" font-size="27.4" fill="#000" textLength="213.1" lengthAdjust="spacingAndGlyphs">~20–70 years old</text>
<text x="59.2" y="1151.8" font-size="27.4" fill="#000" textLength="142.6" lengthAdjust="spacingAndGlyphs">838 donors</text>
<path d="M81.1,932.6C82.5,933.4 80.9,937.1 81.2,938.5C81.5,940.0 82.1,941.6 83.2,942.5C84.3,943.4 87.2,944.3 89.2,944.9C91.2,945.5 95.5,945.4 97.0,946.5C98.5,947.6 98.9,949.5 99.6,952.5C100.3,955.5 100.5,962.9 101.8,967.8C103.1,972.7 106.9,982.2 109.1,987.1C111.3,992.0 115.5,1000.1 117.5,1002.7C119.5,1005.4 121.7,1004.9 123.2,1005.7C124.7,1006.5 127.2,1007.4 127.8,1008.1C128.4,1008.8 127.8,1010.3 127.2,1010.7C126.6,1011.0 123.9,1009.9 123.7,1010.7C123.5,1011.5 125.6,1014.5 125.7,1016.2C125.8,1017.8 125.3,1021.1 124.7,1022.1C124.1,1023.1 122.6,1023.3 121.7,1023.1C120.8,1022.9 119.1,1022.1 118.2,1020.7C117.3,1019.3 116.1,1015.2 115.2,1013.2C114.3,1011.1 113.7,1008.8 112.1,1006.3C110.5,1003.8 106.5,999.5 104.2,995.5C101.9,991.4 97.5,981.7 95.8,977.4C94.1,973.2 92.9,965.7 92.2,965.4C91.5,965.1 91.5,972.6 91.2,975.4C90.9,978.1 90.2,981.9 90.3,984.7C90.4,987.5 91.6,992.7 92.0,995.3C92.4,997.8 93.2,999.1 93.4,1002.7C93.6,1006.3 93.6,1016.5 93.6,1020.7C93.6,1025.0 93.4,1029.5 93.1,1032.8C92.8,1036.1 92.1,1040.9 91.8,1044.0C91.5,1047.1 90.9,1050.9 90.9,1054.5C90.9,1058.0 91.7,1065.0 91.6,1068.9C91.5,1072.8 90.8,1078.4 90.4,1081.8C90.0,1085.2 89.0,1090.6 89.1,1092.9C89.2,1095.1 90.3,1095.9 91.2,1097.7C92.1,1099.6 94.8,1104.1 95.2,1105.7C95.6,1107.3 95.0,1108.6 93.7,1109.2C92.4,1109.8 87.5,1111.1 86.2,1110.2C84.9,1109.3 84.9,1104.8 84.5,1102.7C84.1,1100.6 84.0,1099.0 83.7,1095.4C83.4,1091.7 82.9,1082.6 82.4,1076.9C81.9,1071.1 80.6,1060.4 80.1,1054.5C79.6,1048.5 79.2,1040.2 78.8,1035.1C78.4,1029.9 77.5,1020.5 77.0,1018.1C76.5,1015.7 75.9,1015.7 75.4,1018.1C74.9,1020.5 74.0,1029.9 73.6,1035.1C73.2,1040.2 72.8,1048.5 72.3,1054.5C71.8,1060.4 70.5,1071.1 70.0,1076.9C69.5,1082.6 69.0,1091.7 68.7,1095.4C68.4,1099.0 68.3,1100.6 67.9,1102.7C67.5,1104.8 67.5,1109.3 66.2,1110.2C64.9,1111.1 60.0,1109.8 58.7,1109.2C57.4,1108.6 56.8,1107.3 57.2,1105.7C57.6,1104.1 60.3,1099.6 61.2,1097.7C62.1,1095.9 63.2,1095.1 63.3,1092.9C63.4,1090.6 62.4,1085.2 62.0,1081.8C61.6,1078.4 60.9,1072.8 60.8,1068.9C60.7,1065.0 61.5,1058.0 61.5,1054.5C61.5,1050.9 60.9,1047.1 60.6,1044.0C60.3,1040.9 59.6,1036.1 59.3,1032.8C59.0,1029.5 58.8,1025.0 58.8,1020.7C58.8,1016.5 58.8,1006.3 59.0,1002.7C59.2,999.1 60.0,997.8 60.4,995.3C60.8,992.7 62.0,987.5 62.1,984.7C62.2,981.9 61.5,978.1 61.2,975.4C60.9,972.6 60.9,965.1 60.2,965.4C59.5,965.7 58.3,973.2 56.6,977.4C54.9,981.7 50.5,991.4 48.2,995.5C45.9,999.5 41.9,1003.8 40.3,1006.3C38.7,1008.8 38.1,1011.1 37.2,1013.2C36.3,1015.2 35.1,1019.3 34.2,1020.7C33.3,1022.1 31.6,1022.9 30.7,1023.1C29.8,1023.3 28.3,1023.1 27.7,1022.1C27.1,1021.1 26.6,1017.8 26.7,1016.2C26.8,1014.5 28.9,1011.5 28.7,1010.7C28.5,1009.9 25.8,1011.0 25.2,1010.7C24.6,1010.3 24.0,1008.8 24.6,1008.1C25.2,1007.4 27.7,1006.5 29.2,1005.7C30.7,1004.9 32.9,1005.4 34.9,1002.7C36.9,1000.1 41.1,992.0 43.3,987.1C45.5,982.2 49.3,972.7 50.6,967.8C51.9,962.9 52.1,955.5 52.8,952.5C53.5,949.5 53.9,947.6 55.4,946.5C56.9,945.4 61.2,945.5 63.2,944.9C65.2,944.3 68.1,943.4 69.2,942.5C70.3,941.6 70.9,940.0 71.2,938.5C71.5,937.1 69.9,933.4 71.3,932.6C72.7,931.7 79.7,931.7 81.1,932.6Z" fill="#ecd3b9" stroke="#d6b596" stroke-width="0.8" stroke-linejoin="round"/>
<ellipse cx="76.2" cy="923.8" rx="8.4" ry="13.5" fill="#ecd3b9"/>
<path d="M67.9,921.6 C67.9,942.5 84.5,942.5 84.5,921.6" fill="none" stroke="#d6b596" stroke-width="0.8"/>
<path d="M66.6,929.6 C63.7,924.6 63.7,907.2 76.2,907.2 C88.7,907.2 88.7,924.6 85.8,929.6 C84.8,925.6 85.0,920.6 82.2,917.2 C79.2,918.6 75.2,916.7 73.2,916.2 C69.2,918.6 67.6,923.6 66.6,929.6Z" fill="#4a352f"/>
<path d="M71.2,923.6 q1.5,1 3.0,0 M78.2,923.6 q1.5,1 3.0,0 M74.2,932.1 h4.0 M66.2,948.5 q10.0,3.0 20.0,0 M76.2,1019.1 q-8.0,-2.0 -15.0,-10.9 M76.2,1019.1 q8.0,-2.0 15.0,-10.9 M76.2,995.3 v2.5" fill="none" stroke="#d6b596" stroke-width="0.7"/>
<path d="M189.5,928.8C191.0,929.6 189.3,933.4 189.6,934.9C189.9,936.3 190.5,938.0 191.8,939.0C193.0,939.9 196.1,940.8 198.2,941.4C200.4,942.0 205.1,942.0 206.7,943.1C208.3,944.2 208.9,946.1 209.5,949.2C210.1,952.3 210.1,959.9 211.0,964.9C212.0,970.0 214.7,979.7 216.2,984.8C217.8,989.8 220.8,998.1 222.2,1000.8C223.7,1003.5 225.3,1003.1 226.3,1003.9C227.3,1004.6 229.2,1005.6 229.6,1006.3C230.0,1007.0 229.6,1008.6 229.1,1009.0C228.7,1009.4 226.8,1008.2 226.7,1009.0C226.5,1009.8 228.0,1012.9 228.1,1014.6C228.2,1016.3 227.8,1019.7 227.4,1020.7C227.0,1021.7 225.9,1022.0 225.2,1021.8C224.6,1021.5 223.4,1020.7 222.7,1019.3C222.1,1017.9 221.2,1013.6 220.6,1011.5C220.0,1009.4 219.5,1007.1 218.4,1004.5C217.3,1001.9 214.6,997.5 212.8,993.3C210.9,989.1 207.0,979.2 205.4,974.8C203.8,970.5 202.2,962.8 201.5,962.5C200.8,962.2 200.7,969.9 200.4,972.7C200.1,975.5 199.3,979.4 199.4,982.3C199.6,985.2 200.8,990.5 201.3,993.1C201.7,995.8 202.5,997.1 202.8,1000.8C203.0,1004.5 203.0,1014.9 203.0,1019.3C202.9,1023.7 202.7,1028.3 202.5,1031.7C202.2,1035.1 201.4,1040.1 201.0,1043.2C200.7,1046.4 200.1,1050.3 200.1,1053.9C200.0,1057.6 200.9,1064.8 200.8,1068.8C200.8,1072.7 199.9,1078.6 199.5,1082.0C199.2,1085.5 198.0,1091.1 198.1,1093.4C198.3,1095.7 199.5,1096.5 200.4,1098.4C201.3,1100.3 204.3,1104.9 204.7,1106.6C205.1,1108.2 204.5,1109.5 203.1,1110.2C201.7,1110.8 196.4,1112.1 195.0,1111.2C193.6,1110.2 193.5,1105.7 193.2,1103.5C192.8,1101.4 192.6,1099.7 192.3,1095.9C192.0,1092.2 191.4,1082.9 190.9,1076.9C190.3,1071.0 189.0,1060.0 188.4,1053.9C187.9,1047.9 187.5,1039.3 187.0,1034.0C186.5,1028.7 185.6,1019.1 185.1,1016.6C184.5,1014.2 183.9,1014.2 183.3,1016.6C182.8,1019.1 181.9,1028.7 181.4,1034.0C180.9,1039.3 180.5,1047.9 180.0,1053.9C179.4,1060.0 178.1,1071.0 177.5,1076.9C177.0,1082.9 176.4,1092.2 176.1,1095.9C175.8,1099.7 175.6,1101.4 175.2,1103.5C174.9,1105.7 174.8,1110.2 173.4,1111.2C172.0,1112.1 166.7,1110.8 165.3,1110.2C163.9,1109.5 163.3,1108.2 163.7,1106.6C164.1,1104.9 167.1,1100.3 168.0,1098.4C168.9,1096.5 170.1,1095.7 170.3,1093.4C170.4,1091.1 169.2,1085.5 168.9,1082.0C168.5,1078.6 167.6,1072.7 167.6,1068.8C167.5,1064.8 168.4,1057.6 168.3,1053.9C168.3,1050.3 167.7,1046.4 167.4,1043.2C167.0,1040.1 166.2,1035.1 165.9,1031.7C165.7,1028.3 165.5,1023.7 165.4,1019.3C165.4,1014.9 165.4,1004.5 165.6,1000.8C165.9,997.1 166.7,995.8 167.1,993.1C167.6,990.5 168.8,985.2 169.0,982.3C169.1,979.4 168.3,975.5 168.0,972.7C167.7,969.9 167.6,962.2 166.9,962.5C166.2,962.8 164.6,970.5 163.0,974.8C161.4,979.2 157.5,989.1 155.6,993.3C153.8,997.5 151.1,1001.9 150.0,1004.5C148.9,1007.1 148.4,1009.4 147.8,1011.5C147.2,1013.6 146.3,1017.9 145.7,1019.3C145.0,1020.7 143.8,1021.5 143.2,1021.8C142.5,1022.0 141.4,1021.7 141.0,1020.7C140.6,1019.7 140.2,1016.3 140.3,1014.6C140.4,1012.9 141.9,1009.8 141.7,1009.0C141.6,1008.2 139.7,1009.4 139.3,1009.0C138.8,1008.6 138.4,1007.0 138.8,1006.3C139.2,1005.6 141.1,1004.6 142.1,1003.9C143.1,1003.1 144.7,1003.5 146.2,1000.8C147.6,998.1 150.6,989.8 152.2,984.8C153.7,979.7 156.4,970.0 157.4,964.9C158.3,959.9 158.3,952.3 158.9,949.2C159.5,946.1 160.1,944.2 161.7,943.1C163.3,942.0 168.0,942.0 170.2,941.4C172.3,940.8 175.4,939.9 176.6,939.0C177.9,938.0 178.5,936.3 178.8,934.9C179.1,933.4 177.4,929.6 178.9,928.8C180.4,927.9 188.0,927.9 189.5,928.8Z" fill="#ecd3b9" stroke="#d6b596" stroke-width="0.8" stroke-linejoin="round"/>
<ellipse cx="184.2" cy="919.8" rx="8.7" ry="13.9" fill="#ecd3b9"/>
<path d="M175.7,917.5 C175.7,939.0 192.7,939.0 192.7,917.5" fill="none" stroke="#d6b596" stroke-width="0.8"/>
<path d="M173.9,922.6 C170.2,911.4 173.4,902.7 184.2,902.7 C195.0,902.7 198.2,911.4 194.5,922.6 C193.8,916.5 190.4,912.9 184.2,912.4 C178.0,912.9 174.6,916.5 173.9,922.6Z" fill="#d4d4d4"/>
<path d="M178.8,919.6 q1.6,1 3.2,0 M186.4,919.6 q1.6,1 3.2,0 M182.0,928.2 h4.3 M173.4,945.1 q10.8,3.1 21.6,0 M184.2,1017.7 q-8.6,-2.0 -16.2,-11.2 M184.2,1017.7 q8.6,-2.0 16.2,-11.2 M184.2,993.1 v2.6" fill="none" stroke="#d6b596" stroke-width="0.7"/>
<path d="M256.5,988.6 Q305.0,962.0 323.0,900.5" fill="none" stroke="url(#ag9)" stroke-width="5.6"/>
<polygon points="326.6,888.0 329.0,906.7 322.8,901.1 314.5,902.5" fill="#6f7c96"/>
<polygon points="253.0,1007.5 318.1,1008.3 318.0,1013.9 253.0,1013.1" fill="url(#ag10)"/>
<polygon points="331.0,1011.2 313.6,1018.5 317.3,1011.0 313.8,1003.5" fill="#6f7c96"/>
<path d="M256.5,1029.3 Q305.0,1060.0 322.9,1120.8" fill="none" stroke="url(#ag11)" stroke-width="5.6"/>
<polygon points="326.6,1133.2 314.5,1118.7 322.7,1120.1 328.9,1114.5" fill="#6f7c96"/>
<path d="M342.2,892.4C341.3,888.9 341.0,877.1 340.8,870.0C340.6,862.9 340.5,851.9 341.1,844.9C341.7,837.9 342.7,828.6 344.9,823.2C347.1,817.8 351.6,812.2 355.7,809.2C359.8,806.2 366.5,804.3 371.9,803.4C377.3,802.5 386.3,803.2 392.0,803.4C397.7,803.6 404.3,804.6 409.7,804.9C415.1,805.2 420.5,805.0 428.1,805.1C435.7,805.2 453.8,805.5 460.5,805.9C467.2,806.3 470.2,806.5 472.5,807.5C474.8,808.5 476.7,810.4 476.0,812.5C475.3,814.6 470.3,818.9 468.0,821.5C465.7,824.1 462.8,826.2 460.5,829.7C458.2,833.2 456.2,841.3 453.0,844.9C449.8,848.5 444.1,851.6 438.9,853.5C433.7,855.4 423.6,856.0 418.4,857.8C413.2,859.6 410.9,862.6 404.3,865.4C397.7,868.2 381.4,872.6 374.1,876.2C366.8,879.8 359.8,886.6 355.7,889.2C351.6,891.8 349.0,893.0 347.0,893.5C345.0,894.0 343.1,895.9 342.2,892.4Z" fill="url(#livg)" stroke="#9a5f55" stroke-width="0.8"/>
<path d="M409,805 C413,812 412,840 417,860" fill="none" stroke="#93584e" stroke-width="3.2" opacity="0.6"/>
<path d="M409.5,804.8 L415,810 L427.5,805" fill="none" stroke="#d9b294" stroke-width="1.3"/>
<path d="M415.1,810 C413,830 414.5,850 417.5,867.8" fill="none" stroke="#d9b294" stroke-width="1.4" stroke-linecap="round"/>
<path d="M351,846 C350,828 358,812 379,808.5" fill="none" stroke="#b9837a" stroke-width="1.6" stroke-linecap="round" opacity="0.8"/>
<path d="M424,817 C426,813 430,811.5 435,811" fill="none" stroke="#b9837a" stroke-width="1.4" stroke-linecap="round" opacity="0.8"/>
<path d="M345,890 C356,886 365,878 372,877" fill="none" stroke="#8a4c43" stroke-width="1.6" opacity="0.6"/>
<path d="M411,1022 C424,1026 424.5,1036 424,1050 L423.5,1077.5" fill="none" stroke="#b8923a" stroke-width="8"/>
<path d="M412,1022.5 C423,1027 423.5,1036 423,1050 L422.5,1060" fill="none" stroke="#cfae5e" stroke-width="3.5"/>
<path d="M411,1008 L434.5,1008.5" stroke="#c4383f" stroke-width="6.2" fill="none"/><ellipse cx="434.8" cy="1008.5" rx="1.6" ry="3.1" fill="#8e2229"/>
<path d="M411,1019.5 L431.5,1016.5" stroke="#7566b6" stroke-width="6.4" fill="none"/><ellipse cx="431.8" cy="1016.4" rx="1.6" ry="3.2" fill="#4f4390"/>
<path d="M374.2,963.5C372.8,961.4 376.1,954.9 378.5,952.0C380.9,949.1 386.0,945.8 390.0,944.0C394.0,942.2 400.5,940.1 405.0,940.0C409.5,939.9 416.1,941.2 420.0,943.0C423.9,944.8 428.6,948.5 431.0,952.0C433.4,955.5 435.1,961.5 435.8,966.0C436.6,970.5 436.4,978.1 436.0,982.0C435.6,985.9 434.4,990.1 433.0,992.0C431.6,993.9 428.9,995.4 427.0,994.5C425.1,993.6 423.3,989.7 420.0,986.0C416.7,982.3 409.8,973.0 405.0,970.0C400.2,967.0 392.6,967.0 388.0,966.0C383.4,965.0 375.6,965.6 374.2,963.5Z" fill="#f1b977" stroke="#eaa85a" stroke-width="0.8"/>
<path d="M393,950 C408,946 426,958 429.5,988 C423,974 410,962 392,957.5Z" fill="#e9a146" opacity="0.9"/>
<path d="M374.2,963.5C372.8,961.4 376.1,954.9 378.5,952.0C380.9,949.1 386.0,945.8 390.0,944.0C394.0,942.2 400.5,940.1 405.0,940.0C409.5,939.9 416.1,941.2 420.0,943.0C423.9,944.8 428.6,948.5 431.0,952.0C433.4,955.5 435.1,961.5 435.8,966.0C436.6,970.5 436.4,978.1 436.0,982.0C435.6,985.9 434.4,990.1 433.0,992.0C431.6,993.9 428.9,995.4 427.0,994.5C425.1,993.6 423.3,989.7 420.0,986.0C416.7,982.3 409.8,973.0 405.0,970.0C400.2,967.0 392.6,967.0 388.0,966.0C383.4,965.0 375.6,965.6 374.2,963.5Z" fill="url(#adp)"/>
<path d="M352.5,1000.0C353.5,994.3 355.0,986.5 357.0,982.0C359.0,977.5 362.6,972.5 366.0,970.0C369.4,967.5 375.5,965.5 380.0,965.0C384.5,964.5 391.5,965.4 396.0,967.0C400.5,968.6 406.2,972.9 410.0,976.0C413.8,979.1 418.9,985.0 421.0,988.0C423.1,991.0 424.4,993.3 424.0,996.0C423.6,998.7 419.9,1003.5 418.0,1006.0C416.1,1008.5 412.4,1010.8 411.5,1013.0C410.6,1015.2 410.9,1017.9 412.0,1021.0C413.1,1024.2 417.3,1030.0 419.0,1034.0C420.7,1038.0 423.4,1043.8 423.5,1048.0C423.6,1052.2 422.0,1058.4 420.0,1062.0C418.0,1065.6 413.9,1070.0 410.0,1072.0C406.1,1074.0 399.1,1075.6 394.0,1075.6C388.9,1075.6 380.8,1074.2 376.0,1072.0C371.2,1069.8 365.4,1065.5 362.0,1061.0C358.6,1056.5 355.2,1048.2 353.5,1042.0C351.8,1035.8 350.5,1026.3 350.4,1020.0C350.2,1013.7 351.5,1005.7 352.5,1000.0Z" fill="url(#kidg)" stroke="#976a5f" stroke-width="0.7"/>
<path d="M386,991 C396,992 402,997 406,1004" fill="none" stroke="#bf968b" stroke-width="1" opacity="0.8"/>
<path d="M378,1030 C381,1023 389,1020 394,1022 C391,1023 389,1026 389,1030" fill="none" stroke="#bf968b" stroke-width="1" opacity="0.8"/>
<path d="M379,972 C382,968.5 387,967.5 392,968.5" fill="none" stroke="#c29a90" stroke-width="2.2" stroke-linecap="round" opacity="0.7"/>
<path d="M356,1046 C366,1062 392,1068 416,1052" fill="none" stroke="#8f5f56" stroke-width="3" opacity="0.35"/>
<path d="M405,1204 C410,1212 417,1222 421,1231.5 L428.5,1229 C424,1218 421,1210 420,1203Z" fill="#d39aa3" stroke="#bd8490" stroke-width="0.7"/>
<path d="M408,1197 C418,1192 442,1192 450,1198 C452,1208 444,1218 432,1220 C420,1220 410,1210 408,1197Z" fill="#cf939d" stroke="#b97c88" stroke-width="0.7"/>
<path d="M412,1201 C424,1198 438,1199 448,1203 M413,1206 C424,1203 438,1204 447,1209 M417,1211 C426,1209 436,1210 443,1214" fill="none" stroke="#b5727f" stroke-width="0.7"/>
<path d="M343.5,1165.0C343.4,1160.8 344.1,1152.3 346.0,1148.0C347.9,1143.7 352.1,1138.8 356.0,1136.0C359.9,1133.2 366.1,1130.5 372.0,1129.0C377.9,1127.5 388.1,1126.2 395.0,1126.0C401.9,1125.8 411.6,1126.3 418.0,1127.5C424.4,1128.7 432.9,1131.2 438.0,1134.0C443.1,1136.8 448.6,1141.8 452.0,1146.0C455.4,1150.2 459.2,1156.9 461.0,1162.0C462.8,1167.1 464.0,1175.2 464.0,1180.0C464.0,1184.8 462.8,1191.0 461.0,1194.0C459.2,1197.0 455.1,1199.5 452.0,1200.0C448.9,1200.5 443.6,1198.0 440.0,1197.0C436.4,1196.0 432.2,1193.2 428.0,1193.0C423.8,1192.8 416.5,1194.8 412.0,1196.0C407.5,1197.2 402.2,1200.4 398.0,1201.0C393.8,1201.6 387.9,1201.2 384.0,1200.0C380.1,1198.8 374.4,1195.2 372.0,1193.0C369.6,1190.8 370.4,1186.7 368.0,1185.0C365.6,1183.3 359.1,1183.3 356.0,1182.0C352.9,1180.7 348.9,1178.5 347.0,1176.0C345.1,1173.5 343.6,1169.2 343.5,1165.0Z" fill="#e0b3ba" stroke="#c68f9a" stroke-width="0.8"/>
<path d="M369,1187 C376,1176 392,1171 410,1172 C428,1172 444,1178 450,1190 C446,1198 436,1197 426,1193 C412,1196 400,1202 386,1201 C376,1199 369,1194 369,1187Z" fill="#dcadb5" stroke="#c48d98" stroke-width="0.7"/>
<path d="M352,1160 C358,1150 366,1150 370,1140 C376,1136 384,1140 390,1133 M349,1172 C358,1170 362,1160 372,1158 C378,1150 388,1152 394,1144 C402,1140 410,1142 416,1134 M372,1180 C378,1172 388,1170 396,1166 C404,1160 414,1162 420,1154 C426,1148 434,1150 440,1142 M400,1128 C402,1136 398,1142 404,1148 C408,1154 404,1160 410,1166 M424,1130 C426,1138 422,1146 428,1152 C432,1158 430,1164 436,1170 M444,1140 C446,1150 442,1158 448,1166 C452,1172 450,1180 456,1186 M360,1140 C364,1146 372,1146 376,1152 C380,1158 376,1164 382,1168 M384,1130 C386,1136 392,1138 392,1146 M380,1190 C392,1184 406,1186 418,1182 C428,1180 436,1184 444,1188 M412,1146 C418,1150 418,1158 424,1162 C430,1166 428,1172 434,1176 M456,1160 C452,1164 456,1172 452,1178" fill="none" stroke="#c48b97" stroke-width="0.9" stroke-linecap="round"/>
<path d="M397.8,1166.9 q3.8,1.9 4.3,-2.3 t4.3,-2.3 M403.9,1168.8 q-2.2,3.7 2.0,4.6 t2.0,4.6 M417.3,1182.3 q0.1,3.8 3.7,2.5 t3.7,2.5 M358.0,1183.4 q1.7,-2.6 -1.3,-3.4 t-1.3,-3.4 M456.0,1193.7 q1.6,-4.3 -3.0,-4.4 t-3.0,-4.4 M365.3,1131.0 q-1.4,-2.9 -3.6,-0.6 t-3.6,-0.6 M368.9,1146.0 q1.8,3.8 4.8,0.9 t4.8,0.9 M396.5,1185.6 q-2.2,-4.1 -5.4,-0.6 t-5.4,-0.6 M403.0,1173.7 q-2.9,-2.3 -4.2,1.2 t-4.2,1.2 M457.7,1195.7 q4.8,-0.3 3.0,-4.8 t3.0,-4.8 M382.7,1145.2 q-3.0,1.2 -0.9,3.6 t-0.9,3.6 M432.3,1156.4 q4.0,-0.1 2.6,-3.8 t2.6,-3.8 M453.4,1185.9 q2.1,2.9 4.1,0.0 t4.1,0.0 M448.1,1161.0 q2.7,3.0 4.7,-0.6 t4.7,-0.6 M356.0,1171.5 q3.3,-1.6 0.8,-4.2 t0.8,-4.2 M357.6,1152.0 q3.7,3.3 5.6,-1.3 t5.6,-1.3 M361.0,1146.3 q-0.0,3.2 3.0,2.2 t3.0,2.2 M435.7,1141.7 q-1.0,-4.0 -4.5,-1.8 t-4.5,-1.8 M369.0,1178.3 q-0.9,4.6 3.7,4.0 t3.7,4.0 M360.8,1157.8 q-2.4,2.8 1.0,4.2 t1.0,4.2 M454.8,1183.0 q-5.1,1.5 -2.0,5.8 t-2.0,5.8 M371.2,1156.0 q4.7,0.2 3.3,-4.3 t3.3,-4.3 M359.0,1195.3 q-2.4,2.8 1.0,4.2 t1.0,4.2 M433.0,1151.7 q-3.0,1.0 -1.1,3.6 t-1.1,3.6 M357.9,1168.5 q-3.6,2.8 0.2,5.3 t0.2,5.3 M388.9,1159.9 q3.3,2.7 4.8,-1.3 t4.8,-1.3 M411.2,1187.2 q-1.7,2.9 1.6,3.6 t1.6,3.6 M447.9,1184.0 q-2.8,2.0 0.0,4.1 t0.0,4.1 M429.3,1192.1 q-3.1,4.5 2.1,6.0 t2.1,6.0 M445.0,1169.8 q-2.9,-1.4 -3.4,1.8 t-3.4,1.8 M352.3,1193.5 q-3.7,3.1 0.4,5.6 t0.4,5.6 M376.3,1184.4 q-0.1,-3.8 -3.6,-2.5 t-3.6,-2.5 M367.3,1177.5 q0.7,3.5 3.8,1.8 t3.8,1.8 M409.5,1186.3 q0.4,-3.7 -3.3,-2.8 t-3.3,-2.8 M448.9,1143.5 q1.8,3.2 4.3,0.4 t4.3,0.4 M397.0,1134.0 q-1.9,3.5 2.1,4.1 t2.1,4.1 M410.9,1138.7 q-5.3,-0.4 -4.0,4.7 t-4.0,4.7 M455.9,1173.4 q2.5,-3.8 -1.9,-4.9 t-1.9,-4.9 M363.4,1132.3 q2.6,4.7 6.2,0.7 t6.2,0.7 M425.1,1193.5 q2.2,4.1 5.4,0.7 t5.4,0.7 M401.0,1178.2 q-5.5,1.0 -2.7,5.9 t-2.7,5.9 M356.3,1166.0 q4.1,-3.5 -0.5,-6.2 t-0.5,-6.2 M429.1,1176.4 q5.0,-1.8 1.7,-6.0 t1.7,-6.0 M386.7,1175.2 q5.0,1.7 5.0,-3.6 t5.0,-3.6 M393.9,1182.2 q4.5,0.4 3.4,-4.0 t3.4,-4.0 M416.7,1155.2 q-0.5,-4.6 -4.6,-2.6 t-4.6,-2.6" fill="none" stroke="#c9939e" stroke-width="0.8" stroke-linecap="round" clip-path="url(#brc)" opacity="0.85"/>
<path d="M356,1150 C360,1144 366,1142 370,1138 M398,1140 C404,1136 410,1136 414,1132 M430,1150 C436,1146 440,1146 444,1150 M386,1182 C394,1178 402,1180 410,1177" fill="none" stroke="#eccbd0" stroke-width="1.1" stroke-linecap="round"/>
<text x="334.3" y="1269.4" font-size="27.4" fill="#000" textLength="124.3" lengthAdjust="spacingAndGlyphs">47 tissues</text>
<path d="M478.5,887.8 Q497.0,955.0 542.1,981.3" fill="none" stroke="url(#ag12)" stroke-width="5.6"/>
<polygon points="553.3,987.8 534.6,985.6 541.5,980.9 542.1,972.6" fill="#6f7c96"/>
<polygon points="479.9,1007.5 541.3,1008.7 541.2,1014.3 479.7,1013.1" fill="url(#ag13)"/>
<polygon points="554.2,1011.7 536.8,1018.9 540.5,1011.4 537.0,1003.9" fill="#6f7c96"/>
<path d="M479.8,1127.5 Q497.0,1066.0 540.7,1041.5" fill="none" stroke="url(#ag14)" stroke-width="5.6"/>
<polygon points="552.0,1035.1 540.6,1050.1 540.1,1041.8 533.2,1037.0" fill="#6f7c96"/>
<path d="M588.6,874.0C588.5,871.5 590.0,867.8 591.6,866.0C593.2,864.2 597.1,862.7 599.6,862.3C602.1,861.9 606.1,862.8 608.6,863.5C611.1,864.2 614.5,866.3 616.6,867.0C618.7,867.7 620.8,868.3 622.6,868.3C624.4,868.3 626.5,867.7 628.6,867.0C630.7,866.3 634.1,864.2 636.6,863.5C639.1,862.8 642.6,861.9 645.1,862.3C647.6,862.7 651.5,864.2 653.1,866.0C654.7,867.8 656.1,871.5 656.0,874.0C655.9,876.5 654.5,880.2 652.6,882.5C650.7,884.8 646.6,887.5 643.6,889.0C640.6,890.5 635.8,892.1 632.6,892.8C629.4,893.5 625.5,893.8 622.3,893.8C619.2,893.8 614.9,893.5 611.6,892.8C608.3,892.1 603.5,890.5 600.6,889.0C597.7,887.5 593.9,884.8 592.1,882.5C590.3,880.2 588.7,876.5 588.6,874.0Z" fill="#e9a2a7" stroke="#d9747d" stroke-width="1.1"/>
<path d="M592.5,875.1C592.4,873.2 593.7,870.4 595.1,869.0C596.6,867.7 600.0,866.5 602.2,866.2C604.5,865.9 607.9,866.6 610.2,867.1C612.4,867.7 615.4,869.2 617.3,869.8C619.1,870.3 621.0,870.8 622.6,870.8C624.2,870.8 626.0,870.3 627.9,869.8C629.7,869.2 632.8,867.7 635.0,867.1C637.1,866.6 640.3,865.9 642.5,866.2C644.7,866.5 648.1,867.7 649.6,869.0C651.0,870.4 652.2,873.2 652.1,875.1C652.1,877.0 650.8,879.9 649.1,881.6C647.5,883.3 643.8,885.3 641.2,886.5C638.5,887.7 634.2,888.8 631.4,889.4C628.6,889.9 625.1,890.2 622.3,890.2C619.5,890.2 615.7,889.9 612.8,889.4C609.9,888.8 605.7,887.7 603.1,886.5C600.5,885.3 597.2,883.3 595.6,881.6C594.0,879.9 592.5,877.0 592.5,875.1Z" fill="#f9dfe0"/>
<path d="M597.6,866.3 l-1.0,9.4 M604.1,866.2 l1.2,10.7 M610.1,867.1 l-1.0,10.9 M616.1,868.4 l1.2,10.6 M622.3,869.8 l-1.0,9.9 M628.6,868.4 l1.2,10.6 M634.6,867.0 l-1.0,11.0 M640.6,866.2 l1.2,10.7 M647.1,866.3 l-1.0,9.3 M600.6,887.4 l1.2,-10.1 M607.1,889.4 l-1.0,-11.0 M613.1,890.3 l1.2,-10.8 M619.1,890.7 l-1.0,-10.3 M625.6,890.7 l1.2,-10.3 M631.6,890.3 l-1.0,-10.8 M637.6,889.4 l1.2,-11.0 M644.1,887.3 l-1.0,-10.1 " fill="none" stroke="#e9a2a7" stroke-width="2.5" stroke-linecap="round"/>
<path d="M686.3,874.0C686.2,871.5 687.6,867.8 689.3,866.0C690.9,864.2 694.8,862.7 697.3,862.3C699.8,861.9 703.8,862.8 706.3,863.5C708.8,864.2 712.2,866.3 714.3,867.0C716.4,867.7 718.5,868.3 720.3,868.3C722.1,868.3 724.2,867.7 726.3,867.0C728.4,866.3 731.8,864.2 734.3,863.5C736.8,862.8 740.3,861.9 742.8,862.3C745.3,862.7 749.2,864.2 750.8,866.0C752.4,867.8 753.8,871.5 753.7,874.0C753.6,876.5 752.2,880.2 750.3,882.5C748.4,884.8 744.3,887.5 741.3,889.0C738.3,890.5 733.5,892.1 730.3,892.8C727.1,893.5 723.1,893.8 720.0,893.8C716.9,893.8 712.6,893.5 709.3,892.8C706.0,892.1 701.2,890.5 698.3,889.0C695.4,887.5 691.6,884.8 689.8,882.5C688.0,880.2 686.4,876.5 686.3,874.0Z" fill="#a9c1ea" stroke="#8caae1" stroke-width="1.1"/>
<path d="M690.2,875.1C690.1,873.2 691.4,870.4 692.8,869.0C694.3,867.7 697.7,866.5 699.9,866.2C702.2,865.9 705.6,866.6 707.9,867.1C710.1,867.7 713.1,869.2 715.0,869.8C716.8,870.3 718.7,870.8 720.3,870.8C721.9,870.8 723.7,870.3 725.6,869.8C727.4,869.2 730.5,867.7 732.7,867.1C734.8,866.6 738.0,865.9 740.2,866.2C742.4,866.5 745.8,867.7 747.3,869.0C748.7,870.4 749.9,873.2 749.8,875.1C749.8,877.0 748.5,879.9 746.8,881.6C745.2,883.3 741.5,885.3 738.9,886.5C736.2,887.7 731.9,888.8 729.1,889.4C726.3,889.9 722.8,890.2 720.0,890.2C717.2,890.2 713.4,889.9 710.5,889.4C707.6,888.8 703.4,887.7 700.8,886.5C698.2,885.3 694.9,883.3 693.3,881.6C691.7,879.9 690.2,877.0 690.2,875.1Z" fill="#e5edf9"/>
<path d="M695.3,866.3 l-1.0,9.4 M701.8,866.2 l1.2,10.7 M707.8,867.1 l-1.0,10.9 M713.8,868.4 l1.2,10.6 M720.0,869.8 l-1.0,9.9 M726.3,868.4 l1.2,10.6 M732.3,867.0 l-1.0,11.0 M738.3,866.2 l1.2,10.7 M744.8,866.3 l-1.0,9.3 M698.3,887.4 l1.2,-10.1 M704.8,889.4 l-1.0,-11.0 M710.8,890.3 l1.2,-10.8 M716.8,890.7 l-1.0,-10.3 M723.3,890.7 l1.2,-10.3 M729.3,890.3 l-1.0,-10.8 M735.3,889.4 l1.2,-11.0 M741.8,887.3 l-1.0,-10.1 " fill="none" stroke="#a9c1ea" stroke-width="2.5" stroke-linecap="round"/>
<text x="587.2" y="926.7" font-size="22.8" fill="#db747d" textLength="76.4" lengthAdjust="spacingAndGlyphs">100% T</text>
<text x="679.4" y="924.4" font-size="22.8" fill="#b9cdf1" textLength="80.5" lengthAdjust="spacingAndGlyphs">100% C</text>
<g transform="translate(640.2,988.6) scale(0.589)">
<ellipse cx="0" cy="0" rx="59.4" ry="56" fill="#f6f5f1" stroke="#a9a596" stroke-width="1.95"/>
<circle cx="-32.6" cy="5.9" r="15.2" fill="#dfc1a0"/>
<g transform="translate(-28.4,-29.7) rotate(-20)"><path d="M-6.3,1.6 Q0,-3.4 6.3,1.6" fill="none" stroke="#eda6ab" stroke-width="8.2" stroke-linecap="round"/><path d="M-8.0,3.1 L-6.4,-1.5 L-4.8,1.7 L-3.2,-2.5 L-1.6,1.0 L0.0,-2.9 L1.6,1.0 L3.2,-2.5 L4.8,1.7 L6.4,-1.5 L8.0,3.1" fill="none" stroke="#f6cfd1" stroke-width="1.3" stroke-linejoin="round"/></g>
<g transform="translate(-9.2,-23.7) rotate(-30)"><path d="M-6.3,1.6 Q0,-3.4 6.3,1.6" fill="none" stroke="#eda6ab" stroke-width="8.2" stroke-linecap="round"/><path d="M-8.0,3.1 L-6.4,-1.5 L-4.8,1.7 L-3.2,-2.5 L-1.6,1.0 L0.0,-2.9 L1.6,1.0 L3.2,-2.5 L4.8,1.7 L6.4,-1.5 L8.0,3.1" fill="none" stroke="#f6cfd1" stroke-width="1.3" stroke-linejoin="round"/></g>
<g transform="translate(24.1,-29.7) rotate(38)"><path d="M-6.3,1.6 Q0,-3.4 6.3,1.6" fill="none" stroke="#eda6ab" stroke-width="8.2" stroke-linecap="round"/><path d="M-8.0,3.1 L-6.4,-1.5 L-4.8,1.7 L-3.2,-2.5 L-1.6,1.0 L0.0,-2.9 L1.6,1.0 L3.2,-2.5 L4.8,1.7 L6.4,-1.5 L8.0,3.1" fill="none" stroke="#f6cfd1" stroke-width="1.3" stroke-linejoin="round"/></g>
<g transform="translate(12.9,-14.8) rotate(28)"><path d="M-6.3,1.6 Q0,-3.4 6.3,1.6" fill="none" stroke="#eda6ab" stroke-width="8.2" stroke-linecap="round"/><path d="M-8.0,3.1 L-6.4,-1.5 L-4.8,1.7 L-3.2,-2.5 L-1.6,1.0 L0.0,-2.9 L1.6,1.0 L3.2,-2.5 L4.8,1.7 L6.4,-1.5 L8.0,3.1" fill="none" stroke="#f6cfd1" stroke-width="1.3" stroke-linejoin="round"/></g>
<g transform="translate(-1.3,0) rotate(58)"><path d="M-6.3,1.6 Q0,-3.4 6.3,1.6" fill="none" stroke="#a9c3ef" stroke-width="8.2" stroke-linecap="round"/><path d="M-8.0,3.1 L-6.4,-1.5 L-4.8,1.7 L-3.2,-2.5 L-1.6,1.0 L0.0,-2.9 L1.6,1.0 L3.2,-2.5 L4.8,1.7 L6.4,-1.5 L8.0,3.1" fill="none" stroke="#c9dbf6" stroke-width="1.3" stroke-linejoin="round"/></g>
<g transform="translate(40.6,-1.6) rotate(75)"><path d="M-6.3,1.6 Q0,-3.4 6.3,1.6" fill="none" stroke="#a9c3ef" stroke-width="8.2" stroke-linecap="round"/><path d="M-8.0,3.1 L-6.4,-1.5 L-4.8,1.7 L-3.2,-2.5 L-1.6,1.0 L0.0,-2.9 L1.6,1.0 L3.2,-2.5 L4.8,1.7 L6.4,-1.5 L8.0,3.1" fill="none" stroke="#c9dbf6" stroke-width="1.3" stroke-linejoin="round"/></g>
<g transform="translate(23.7,12.5) rotate(-72)"><path d="M-6.3,1.6 Q0,-3.4 6.3,1.6" fill="none" stroke="#eda6ab" stroke-width="8.2" stroke-linecap="round"/><path d="M-8.0,3.1 L-6.4,-1.5 L-4.8,1.7 L-3.2,-2.5 L-1.6,1.0 L0.0,-2.9 L1.6,1.0 L3.2,-2.5 L4.8,1.7 L6.4,-1.5 L8.0,3.1" fill="none" stroke="#f6cfd1" stroke-width="1.3" stroke-linejoin="round"/></g>
<g transform="translate(-7.3,20.4) rotate(-8)"><path d="M-6.3,1.6 Q0,-3.4 6.3,1.6" fill="none" stroke="#a9c3ef" stroke-width="8.2" stroke-linecap="round"/><path d="M-8.0,3.1 L-6.4,-1.5 L-4.8,1.7 L-3.2,-2.5 L-1.6,1.0 L0.0,-2.9 L1.6,1.0 L3.2,-2.5 L4.8,1.7 L6.4,-1.5 L8.0,3.1" fill="none" stroke="#c9dbf6" stroke-width="1.3" stroke-linejoin="round"/></g>
<g transform="translate(32,29.7) rotate(-35)"><path d="M-6.3,1.6 Q0,-3.4 6.3,1.6" fill="none" stroke="#a9c3ef" stroke-width="8.2" stroke-linecap="round"/><path d="M-8.0,3.1 L-6.4,-1.5 L-4.8,1.7 L-3.2,-2.5 L-1.6,1.0 L0.0,-2.9 L1.6,1.0 L3.2,-2.5 L4.8,1.7 L6.4,-1.5 L8.0,3.1" fill="none" stroke="#c9dbf6" stroke-width="1.3" stroke-linejoin="round"/></g>
<g transform="translate(-0.7,38.6) rotate(3)"><path d="M-6.3,1.6 Q0,-3.4 6.3,1.6" fill="none" stroke="#eda6ab" stroke-width="8.2" stroke-linecap="round"/><path d="M-8.0,3.1 L-6.4,-1.5 L-4.8,1.7 L-3.2,-2.5 L-1.6,1.0 L0.0,-2.9 L1.6,1.0 L3.2,-2.5 L4.8,1.7 L6.4,-1.5 L8.0,3.1" fill="none" stroke="#f6cfd1" stroke-width="1.3" stroke-linejoin="round"/></g>
</g>
<g transform="translate(701.9,988.3) scale(0.589)">
<ellipse cx="0" cy="0" rx="59.4" ry="56" fill="#f6f5f1" stroke="#a9a596" stroke-width="1.95"/>
<circle cx="-32.6" cy="5.9" r="15.2" fill="#dfc1a0"/>
<g transform="translate(-28.4,-29.7) rotate(-20)"><path d="M-6.3,1.6 Q0,-3.4 6.3,1.6" fill="none" stroke="#eda6ab" stroke-width="8.2" stroke-linecap="round"/><path d="M-8.0,3.1 L-6.4,-1.5 L-4.8,1.7 L-3.2,-2.5 L-1.6,1.0 L0.0,-2.9 L1.6,1.0 L3.2,-2.5 L4.8,1.7 L6.4,-1.5 L8.0,3.1" fill="none" stroke="#f6cfd1" stroke-width="1.3" stroke-linejoin="round"/></g>
<g transform="translate(-9.2,-23.7) rotate(-30)"><path d="M-6.3,1.6 Q0,-3.4 6.3,1.6" fill="none" stroke="#eda6ab" stroke-width="8.2" stroke-linecap="round"/><path d="M-8.0,3.1 L-6.4,-1.5 L-4.8,1.7 L-3.2,-2.5 L-1.6,1.0 L0.0,-2.9 L1.6,1.0 L3.2,-2.5 L4.8,1.7 L6.4,-1.5 L8.0,3.1" fill="none" stroke="#f6cfd1" stroke-width="1.3" stroke-linejoin="round"/></g>
<g transform="translate(24.1,-29.7) rotate(38)"><path d="M-6.3,1.6 Q0,-3.4 6.3,1.6" fill="none" stroke="#eda6ab" stroke-width="8.2" stroke-linecap="round"/><path d="M-8.0,3.1 L-6.4,-1.5 L-4.8,1.7 L-3.2,-2.5 L-1.6,1.0 L0.0,-2.9 L1.6,1.0 L3.2,-2.5 L4.8,1.7 L6.4,-1.5 L8.0,3.1" fill="none" stroke="#f6cfd1" stroke-width="1.3" stroke-linejoin="round"/></g>
<g transform="translate(12.9,-14.8) rotate(28)"><path d="M-6.3,1.6 Q0,-3.4 6.3,1.6" fill="none" stroke="#eda6ab" stroke-width="8.2" stroke-linecap="round"/><path d="M-8.0,3.1 L-6.4,-1.5 L-4.8,1.7 L-3.2,-2.5 L-1.6,1.0 L0.0,-2.9 L1.6,1.0 L3.2,-2.5 L4.8,1.7 L6.4,-1.5 L8.0,3.1" fill="none" stroke="#f6cfd1" stroke-width="1.3" stroke-linejoin="round"/></g>
<g transform="translate(-1.3,0) rotate(58)"><path d="M-6.3,1.6 Q0,-3.4 6.3,1.6" fill="none" stroke="#a9c3ef" stroke-width="8.2" stroke-linecap="round"/><path d="M-8.0,3.1 L-6.4,-1.5 L-4.8,1.7 L-3.2,-2.5 L-1.6,1.0 L0.0,-2.9 L1.6,1.0 L3.2,-2.5 L4.8,1.7 L6.4,-1.5 L8.0,3.1" fill="none" stroke="#c9dbf6" stroke-width="1.3" stroke-linejoin="round"/></g>
<g transform="translate(40.6,-1.6) rotate(75)"><path d="M-6.3,1.6 Q0,-3.4 6.3,1.6" fill="none" stroke="#a9c3ef" stroke-width="8.2" stroke-linecap="round"/><path d="M-8.0,3.1 L-6.4,-1.5 L-4.8,1.7 L-3.2,-2.5 L-1.6,1.0 L0.0,-2.9 L1.6,1.0 L3.2,-2.5 L4.8,1.7 L6.4,-1.5 L8.0,3.1" fill="none" stroke="#c9dbf6" stroke-width="1.3" stroke-linejoin="round"/></g>
<g transform="translate(23.7,12.5) rotate(-72)"><path d="M-6.3,1.6 Q0,-3.4 6.3,1.6" fill="none" stroke="#eda6ab" stroke-width="8.2" stroke-linecap="round"/><path d="M-8.0,3.1 L-6.4,-1.5 L-4.8,1.7 L-3.2,-2.5 L-1.6,1.0 L0.0,-2.9 L1.6,1.0 L3.2,-2.5 L4.8,1.7 L6.4,-1.5 L8.0,3.1" fill="none" stroke="#f6cfd1" stroke-width="1.3" stroke-linejoin="round"/></g>
<g transform="translate(-7.3,20.4) rotate(-8)"><path d="M-6.3,1.6 Q0,-3.4 6.3,1.6" fill="none" stroke="#a9c3ef" stroke-width="8.2" stroke-linecap="round"/><path d="M-8.0,3.1 L-6.4,-1.5 L-4.8,1.7 L-3.2,-2.5 L-1.6,1.0 L0.0,-2.9 L1.6,1.0 L3.2,-2.5 L4.8,1.7 L6.4,-1.5 L8.0,3.1" fill="none" stroke="#c9dbf6" stroke-width="1.3" stroke-linejoin="round"/></g>
<g transform="translate(32,29.7) rotate(-35)"><path d="M-6.3,1.6 Q0,-3.4 6.3,1.6" fill="none" stroke="#a9c3ef" stroke-width="8.2" stroke-linecap="round"/><path d="M-8.0,3.1 L-6.4,-1.5 L-4.8,1.7 L-3.2,-2.5 L-1.6,1.0 L0.0,-2.9 L1.6,1.0 L3.2,-2.5 L4.8,1.7 L6.4,-1.5 L8.0,3.1" fill="none" stroke="#c9dbf6" stroke-width="1.3" stroke-linejoin="round"/></g>
<g transform="translate(-0.7,38.6) rotate(3)"><path d="M-6.3,1.6 Q0,-3.4 6.3,1.6" fill="none" stroke="#eda6ab" stroke-width="8.2" stroke-linecap="round"/><path d="M-8.0,3.1 L-6.4,-1.5 L-4.8,1.7 L-3.2,-2.5 L-1.6,1.0 L0.0,-2.9 L1.6,1.0 L3.2,-2.5 L4.8,1.7 L6.4,-1.5 L8.0,3.1" fill="none" stroke="#f6cfd1" stroke-width="1.3" stroke-linejoin="round"/></g>
</g>
<g transform="translate(626.0,1038.1) scale(0.589)">
<ellipse cx="0" cy="0" rx="59.4" ry="56" fill="#f6f5f1" stroke="#a9a596" stroke-width="1.95"/>
<circle cx="-32.6" cy="5.9" r="15.2" fill="#dfc1a0"/>
<g transform="translate(-28.4,-29.7) rotate(-20)"><path d="M-6.3,1.6 Q0,-3.4 6.3,1.6" fill="none" stroke="#eda6ab" stroke-width="8.2" stroke-linecap="round"/><path d="M-8.0,3.1 L-6.4,-1.5 L-4.8,1.7 L-3.2,-2.5 L-1.6,1.0 L0.0,-2.9 L1.6,1.0 L3.2,-2.5 L4.8,1.7 L6.4,-1.5 L8.0,3.1" fill="none" stroke="#f6cfd1" stroke-width="1.3" stroke-linejoin="round"/></g>
<g transform="translate(-9.2,-23.7) rotate(-30)"><path d="M-6.3,1.6 Q0,-3.4 6.3,1.6" fill="none" stroke="#eda6ab" stroke-width="8.2" stroke-linecap="round"/><path d="M-8.0,3.1 L-6.4,-1.5 L-4.8,1.7 L-3.2,-2.5 L-1.6,1.0 L0.0,-2.9 L1.6,1.0 L3.2,-2.5 L4.8,1.7 L6.4,-1.5 L8.0,3.1" fill="none" stroke="#f6cfd1" stroke-width="1.3" stroke-linejoin="round"/></g>
<g transform="translate(24.1,-29.7) rotate(38)"><path d="M-6.3,1.6 Q0,-3.4 6.3,1.6" fill="none" stroke="#eda6ab" stroke-width="8.2" stroke-linecap="round"/><path d="M-8.0,3.1 L-6.4,-1.5 L-4.8,1.7 L-3.2,-2.5 L-1.6,1.0 L0.0,-2.9 L1.6,1.0 L3.2,-2.5 L4.8,1.7 L6.4,-1.5 L8.0,3.1" fill="none" stroke="#f6cfd1" stroke-width="1.3" stroke-linejoin="round"/></g>
<g transform="translate(12.9,-14.8) rotate(28)"><path d="M-6.3,1.6 Q0,-3.4 6.3,1.6" fill="none" stroke="#eda6ab" stroke-width="8.2" stroke-linecap="round"/><path d="M-8.0,3.1 L-6.4,-1.5 L-4.8,1.7 L-3.2,-2.5 L-1.6,1.0 L0.0,-2.9 L1.6,1.0 L3.2,-2.5 L4.8,1.7 L6.4,-1.5 L8.0,3.1" fill="none" stroke="#f6cfd1" stroke-width="1.3" stroke-linejoin="round"/></g>
<g transform="translate(-1.3,0) rotate(58)"><path d="M-6.3,1.6 Q0,-3.4 6.3,1.6" fill="none" stroke="#a9c3ef" stroke-width="8.2" stroke-linecap="round"/><path d="M-8.0,3.1 L-6.4,-1.5 L-4.8,1.7 L-3.2,-2.5 L-1.6,1.0 L0.0,-2.9 L1.6,1.0 L3.2,-2.5 L4.8,1.7 L6.4,-1.5 L8.0,3.1" fill="none" stroke="#c9dbf6" stroke-width="1.3" stroke-linejoin="round"/></g>
<g transform="translate(40.6,-1.6) rotate(75)"><path d="M-6.3,1.6 Q0,-3.4 6.3,1.6" fill="none" stroke="#a9c3ef" stroke-width="8.2" stroke-linecap="round"/><path d="M-8.0,3.1 L-6.4,-1.5 L-4.8,1.7 L-3.2,-2.5 L-1.6,1.0 L0.0,-2.9 L1.6,1.0 L3.2,-2.5 L4.8,1.7 L6.4,-1.5 L8.0,3.1" fill="none" stroke="#c9dbf6" stroke-width="1.3" stroke-linejoin="round"/></g>
<g transform="translate(23.7,12.5) rotate(-72)"><path d="M-6.3,1.6 Q0,-3.4 6.3,1.6" fill="none" stroke="#eda6ab" stroke-width="8.2" stroke-linecap="round"/><path d="M-8.0,3.1 L-6.4,-1.5 L-4.8,1.7 L-3.2,-2.5 L-1.6,1.0 L0.0,-2.9 L1.6,1.0 L3.2,-2.5 L4.8,1.7 L6.4,-1.5 L8.0,3.1" fill="none" stroke="#f6cfd1" stroke-width="1.3" stroke-linejoin="round"/></g>
<g transform="translate(-7.3,20.4) rotate(-8)"><path d="M-6.3,1.6 Q0,-3.4 6.3,1.6" fill="none" stroke="#a9c3ef" stroke-width="8.2" stroke-linecap="round"/><path d="M-8.0,3.1 L-6.4,-1.5 L-4.8,1.7 L-3.2,-2.5 L-1.6,1.0 L0.0,-2.9 L1.6,1.0 L3.2,-2.5 L4.8,1.7 L6.4,-1.5 L8.0,3.1" fill="none" stroke="#c9dbf6" stroke-width="1.3" stroke-linejoin="round"/></g>
<g transform="translate(32,29.7) rotate(-35)"><path d="M-6.3,1.6 Q0,-3.4 6.3,1.6" fill="none" stroke="#a9c3ef" stroke-width="8.2" stroke-linecap="round"/><path d="M-8.0,3.1 L-6.4,-1.5 L-4.8,1.7 L-3.2,-2.5 L-1.6,1.0 L0.0,-2.9 L1.6,1.0 L3.2,-2.5 L4.8,1.7 L6.4,-1.5 L8.0,3.1" fill="none" stroke="#c9dbf6" stroke-width="1.3" stroke-linejoin="round"/></g>
<g transform="translate(-0.7,38.6) rotate(3)"><path d="M-6.3,1.6 Q0,-3.4 6.3,1.6" fill="none" stroke="#eda6ab" stroke-width="8.2" stroke-linecap="round"/><path d="M-8.0,3.1 L-6.4,-1.5 L-4.8,1.7 L-3.2,-2.5 L-1.6,1.0 L0.0,-2.9 L1.6,1.0 L3.2,-2.5 L4.8,1.7 L6.4,-1.5 L8.0,3.1" fill="none" stroke="#f6cfd1" stroke-width="1.3" stroke-linejoin="round"/></g>
</g>
<g transform="translate(671.5,1075.7) scale(0.589)">
<ellipse cx="0" cy="0" rx="59.4" ry="56" fill="#f6f5f1" stroke="#a9a596" stroke-width="1.95"/>
<circle cx="-32.6" cy="5.9" r="15.2" fill="#dfc1a0"/>
<g transform="translate(-28.4,-29.7) rotate(-20)"><path d="M-6.3,1.6 Q0,-3.4 6.3,1.6" fill="none" stroke="#eda6ab" stroke-width="8.2" stroke-linecap="round"/><path d="M-8.0,3.1 L-6.4,-1.5 L-4.8,1.7 L-3.2,-2.5 L-1.6,1.0 L0.0,-2.9 L1.6,1.0 L3.2,-2.5 L4.8,1.7 L6.4,-1.5 L8.0,3.1" fill="none" stroke="#f6cfd1" stroke-width="1.3" stroke-linejoin="round"/></g>
<g transform="translate(-9.2,-23.7) rotate(-30)"><path d="M-6.3,1.6 Q0,-3.4 6.3,1.6" fill="none" stroke="#eda6ab" stroke-width="8.2" stroke-linecap="round"/><path d="M-8.0,3.1 L-6.4,-1.5 L-4.8,1.7 L-3.2,-2.5 L-1.6,1.0 L0.0,-2.9 L1.6,1.0 L3.2,-2.5 L4.8,1.7 L6.4,-1.5 L8.0,3.1" fill="none" stroke="#f6cfd1" stroke-width="1.3" stroke-linejoin="round"/></g>
<g transform="translate(24.1,-29.7) rotate(38)"><path d="M-6.3,1.6 Q0,-3.4 6.3,1.6" fill="none" stroke="#eda6ab" stroke-width="8.2" stroke-linecap="round"/><path d="M-8.0,3.1 L-6.4,-1.5 L-4.8,1.7 L-3.2,-2.5 L-1.6,1.0 L0.0,-2.9 L1.6,1.0 L3.2,-2.5 L4.8,1.7 L6.4,-1.5 L8.0,3.1" fill="none" stroke="#f6cfd1" stroke-width="1.3" stroke-linejoin="round"/></g>
<g transform="translate(12.9,-14.8) rotate(28)"><path d="M-6.3,1.6 Q0,-3.4 6.3,1.6" fill="none" stroke="#eda6ab" stroke-width="8.2" stroke-linecap="round"/><path d="M-8.0,3.1 L-6.4,-1.5 L-4.8,1.7 L-3.2,-2.5 L-1.6,1.0 L0.0,-2.9 L1.6,1.0 L3.2,-2.5 L4.8,1.7 L6.4,-1.5 L8.0,3.1" fill="none" stroke="#f6cfd1" stroke-width="1.3" stroke-linejoin="round"/></g>
<g transform="translate(-1.3,0) rotate(58)"><path d="M-6.3,1.6 Q0,-3.4 6.3,1.6" fill="none" stroke="#a9c3ef" stroke-width="8.2" stroke-linecap="round"/><path d="M-8.0,3.1 L-6.4,-1.5 L-4.8,1.7 L-3.2,-2.5 L-1.6,1.0 L0.0,-2.9 L1.6,1.0 L3.2,-2.5 L4.8,1.7 L6.4,-1.5 L8.0,3.1" fill="none" stroke="#c9dbf6" stroke-width="1.3" stroke-linejoin="round"/></g>
<g transform="translate(40.6,-1.6) rotate(75)"><path d="M-6.3,1.6 Q0,-3.4 6.3,1.6" fill="none" stroke="#a9c3ef" stroke-width="8.2" stroke-linecap="round"/><path d="M-8.0,3.1 L-6.4,-1.5 L-4.8,1.7 L-3.2,-2.5 L-1.6,1.0 L0.0,-2.9 L1.6,1.0 L3.2,-2.5 L4.8,1.7 L6.4,-1.5 L8.0,3.1" fill="none" stroke="#c9dbf6" stroke-width="1.3" stroke-linejoin="round"/></g>
<g transform="translate(23.7,12.5) rotate(-72)"><path d="M-6.3,1.6 Q0,-3.4 6.3,1.6" fill="none" stroke="#eda6ab" stroke-width="8.2" stroke-linecap="round"/><path d="M-8.0,3.1 L-6.4,-1.5 L-4.8,1.7 L-3.2,-2.5 L-1.6,1.0 L0.0,-2.9 L1.6,1.0 L3.2,-2.5 L4.8,1.7 L6.4,-1.5 L8.0,3.1" fill="none" stroke="#f6cfd1" stroke-width="1.3" stroke-linejoin="round"/></g>
<g transform="translate(-7.3,20.4) rotate(-8)"><path d="M-6.3,1.6 Q0,-3.4 6.3,1.6" fill="none" stroke="#a9c3ef" stroke-width="8.2" stroke-linecap="round"/><path d="M-8.0,3.1 L-6.4,-1.5 L-4.8,1.7 L-3.2,-2.5 L-1.6,1.0 L0.0,-2.9 L1.6,1.0 L3.2,-2.5 L4.8,1.7 L6.4,-1.5 L8.0,3.1" fill="none" stroke="#c9dbf6" stroke-width="1.3" stroke-linejoin="round"/></g>
<g transform="translate(32,29.7) rotate(-35)"><path d="M-6.3,1.6 Q0,-3.4 6.3,1.6" fill="none" stroke="#a9c3ef" stroke-width="8.2" stroke-linecap="round"/><path d="M-8.0,3.1 L-6.4,-1.5 L-4.8,1.7 L-3.2,-2.5 L-1.6,1.0 L0.0,-2.9 L1.6,1.0 L3.2,-2.5 L4.8,1.7 L6.4,-1.5 L8.0,3.1" fill="none" stroke="#c9dbf6" stroke-width="1.3" stroke-linejoin="round"/></g>
<g transform="translate(-0.7,38.6) rotate(3)"><path d="M-6.3,1.6 Q0,-3.4 6.3,1.6" fill="none" stroke="#eda6ab" stroke-width="8.2" stroke-linecap="round"/><path d="M-8.0,3.1 L-6.4,-1.5 L-4.8,1.7 L-3.2,-2.5 L-1.6,1.0 L0.0,-2.9 L1.6,1.0 L3.2,-2.5 L4.8,1.7 L6.4,-1.5 L8.0,3.1" fill="none" stroke="#f6cfd1" stroke-width="1.3" stroke-linejoin="round"/></g>
</g>
<g transform="translate(718.2,1037.0) scale(0.589)">
<ellipse cx="0" cy="0" rx="59.4" ry="56" fill="#f6f5f1" stroke="#a9a596" stroke-width="1.95"/>
<circle cx="-32.6" cy="5.9" r="15.2" fill="#dfc1a0"/>
<g transform="translate(-28.4,-29.7) rotate(-20)"><path d="M-6.3,1.6 Q0,-3.4 6.3,1.6" fill="none" stroke="#eda6ab" stroke-width="8.2" stroke-linecap="round"/><path d="M-8.0,3.1 L-6.4,-1.5 L-4.8,1.7 L-3.2,-2.5 L-1.6,1.0 L0.0,-2.9 L1.6,1.0 L3.2,-2.5 L4.8,1.7 L6.4,-1.5 L8.0,3.1" fill="none" stroke="#f6cfd1" stroke-width="1.3" stroke-linejoin="round"/></g>
<g transform="translate(-9.2,-23.7) rotate(-30)"><path d="M-6.3,1.6 Q0,-3.4 6.3,1.6" fill="none" stroke="#eda6ab" stroke-width="8.2" stroke-linecap="round"/><path d="M-8.0,3.1 L-6.4,-1.5 L-4.8,1.7 L-3.2,-2.5 L-1.6,1.0 L0.0,-2.9 L1.6,1.0 L3.2,-2.5 L4.8,1.7 L6.4,-1.5 L8.0,3.1" fill="none" stroke="#f6cfd1" stroke-width="1.3" stroke-linejoin="round"/></g>
<g transform="translate(24.1,-29.7) rotate(38)"><path d="M-6.3,1.6 Q0,-3.4 6.3,1.6" fill="none" stroke="#eda6ab" stroke-width="8.2" stroke-linecap="round"/><path d="M-8.0,3.1 L-6.4,-1.5 L-4.8,1.7 L-3.2,-2.5 L-1.6,1.0 L0.0,-2.9 L1.6,1.0 L3.2,-2.5 L4.8,1.7 L6.4,-1.5 L8.0,3.1" fill="none" stroke="#f6cfd1" stroke-width="1.3" stroke-linejoin="round"/></g>
<g transform="translate(12.9,-14.8) rotate(28)"><path d="M-6.3,1.6 Q0,-3.4 6.3,1.6" fill="none" stroke="#eda6ab" stroke-width="8.2" stroke-linecap="round"/><path d="M-8.0,3.1 L-6.4,-1.5 L-4.8,1.7 L-3.2,-2.5 L-1.6,1.0 L0.0,-2.9 L1.6,1.0 L3.2,-2.5 L4.8,1.7 L6.4,-1.5 L8.0,3.1" fill="none" stroke="#f6cfd1" stroke-width="1.3" stroke-linejoin="round"/></g>
<g transform="translate(-1.3,0) rotate(58)"><path d="M-6.3,1.6 Q0,-3.4 6.3,1.6" fill="none" stroke="#a9c3ef" stroke-width="8.2" stroke-linecap="round"/><path d="M-8.0,3.1 L-6.4,-1.5 L-4.8,1.7 L-3.2,-2.5 L-1.6,1.0 L0.0,-2.9 L1.6,1.0 L3.2,-2.5 L4.8,1.7 L6.4,-1.5 L8.0,3.1" fill="none" stroke="#c9dbf6" stroke-width="1.3" stroke-linejoin="round"/></g>
<g transform="translate(40.6,-1.6) rotate(75)"><path d="M-6.3,1.6 Q0,-3.4 6.3,1.6" fill="none" stroke="#a9c3ef" stroke-width="8.2" stroke-linecap="round"/><path d="M-8.0,3.1 L-6.4,-1.5 L-4.8,1.7 L-3.2,-2.5 L-1.6,1.0 L0.0,-2.9 L1.6,1.0 L3.2,-2.5 L4.8,1.7 L6.4,-1.5 L8.0,3.1" fill="none" stroke="#c9dbf6" stroke-width="1.3" stroke-linejoin="round"/></g>
<g transform="translate(23.7,12.5) rotate(-72)"><path d="M-6.3,1.6 Q0,-3.4 6.3,1.6" fill="none" stroke="#eda6ab" stroke-width="8.2" stroke-linecap="round"/><path d="M-8.0,3.1 L-6.4,-1.5 L-4.8,1.7 L-3.2,-2.5 L-1.6,1.0 L0.0,-2.9 L1.6,1.0 L3.2,-2.5 L4.8,1.7 L6.4,-1.5 L8.0,3.1" fill="none" stroke="#f6cfd1" stroke-width="1.3" stroke-linejoin="round"/></g>
<g transform="translate(-7.3,20.4) rotate(-8)"><path d="M-6.3,1.6 Q0,-3.4 6.3,1.6" fill="none" stroke="#a9c3ef" stroke-width="8.2" stroke-linecap="round"/><path d="M-8.0,3.1 L-6.4,-1.5 L-4.8,1.7 L-3.2,-2.5 L-1.6,1.0 L0.0,-2.9 L1.6,1.0 L3.2,-2.5 L4.8,1.7 L6.4,-1.5 L8.0,3.1" fill="none" stroke="#c9dbf6" stroke-width="1.3" stroke-linejoin="round"/></g>
<g transform="translate(32,29.7) rotate(-35)"><path d="M-6.3,1.6 Q0,-3.4 6.3,1.6" fill="none" stroke="#a9c3ef" stroke-width="8.2" stroke-linecap="round"/><path d="M-8.0,3.1 L-6.4,-1.5 L-4.8,1.7 L-3.2,-2.5 L-1.6,1.0 L0.0,-2.9 L1.6,1.0 L3.2,-2.5 L4.8,1.7 L6.4,-1.5 L8.0,3.1" fill="none" stroke="#c9dbf6" stroke-width="1.3" stroke-linejoin="round"/></g>
<g transform="translate(-0.7,38.6) rotate(3)"><path d="M-6.3,1.6 Q0,-3.4 6.3,1.6" fill="none" stroke="#eda6ab" stroke-width="8.2" stroke-linecap="round"/><path d="M-8.0,3.1 L-6.4,-1.5 L-4.8,1.7 L-3.2,-2.5 L-1.6,1.0 L0.0,-2.9 L1.6,1.0 L3.2,-2.5 L4.8,1.7 L6.4,-1.5 L8.0,3.1" fill="none" stroke="#f6cfd1" stroke-width="1.3" stroke-linejoin="round"/></g>
</g>
<text x="598.3" y="1152.3" font-size="22.8" fill="#e9a1a3" textLength="66.3" lengthAdjust="spacingAndGlyphs">60% T</text>
<text x="679.4" y="1152.3" font-size="22.8" fill="#b9cdf1" textLength="68.5" lengthAdjust="spacingAndGlyphs">40% C</text>
<text x="595.6" y="1201.8" font-size="27.4" fill="#000" textLength="135.6" lengthAdjust="spacingAndGlyphs">~4 somatic</text>
<text x="601.5" y="1234.7" font-size="27.4" fill="#000" textLength="124.8" lengthAdjust="spacingAndGlyphs">mutations</text>
<text x="597.0" y="1267.2" font-size="27.4" fill="#000" textLength="140.6" lengthAdjust="spacingAndGlyphs">per sample</text>
<text x="830.5" y="770.3" font-size="38.5" fill="#000" textLength="23.1" lengthAdjust="spacingAndGlyphs" font-weight="bold" stroke="#000" stroke-width="1.3">d</text>
<text x="868.8" y="791.1" font-size="27.4" fill="#000" textLength="224.2" lengthAdjust="spacingAndGlyphs">Individual: variant</text>
<text x="1704.8" y="791.5" font-size="27.4" fill="#000" textLength="154.3" lengthAdjust="spacingAndGlyphs">Variant type</text>
<text x="1973.6" y="791.5" font-size="27.4" fill="#000" textLength="152.2" lengthAdjust="spacingAndGlyphs">Likely origin</text>
<rect x="1112.50" y="814.60" width="579.00" height="429.20" fill="#ffffff"/>
<rect x="1112.50" y="814.60" width="579.00" height="51.00" fill="#ebebeb"/>
<rect x="1112.50" y="912.30" width="579.00" height="46.70" fill="#ebebeb"/>
<rect x="1112.50" y="1005.70" width="579.00" height="46.70" fill="#ebebeb"/>
<rect x="1112.50" y="1099.10" width="579.00" height="46.70" fill="#ebebeb"/>
<rect x="1112.50" y="1192.50" width="579.00" height="51.30" fill="#ebebeb"/>
<text x="840.4" y="849.7" font-size="22.8" fill="#000" textLength="248.4" lengthAdjust="spacingAndGlyphs">11ZTT: chrM_16428_G_A</text>
<line x1="1102.60" y1="842.20" x2="1112.50" y2="842.20" stroke="#222" stroke-width="1.3"/>
<text x="839.1" y="896.5" font-size="22.8" fill="#000" textLength="249.7" lengthAdjust="spacingAndGlyphs">WY7C: chrM_12389_C_T</text>
<line x1="1102.60" y1="889.00" x2="1112.50" y2="889.00" stroke="#222" stroke-width="1.3"/>
<text x="852.0" y="943.2" font-size="22.8" fill="#000" textLength="236.8" lengthAdjust="spacingAndGlyphs">1C64N: chrM_228_G_A</text>
<line x1="1102.60" y1="935.70" x2="1112.50" y2="935.70" stroke="#222" stroke-width="1.3"/>
<text x="846.4" y="990.0" font-size="22.8" fill="#000" textLength="242.4" lengthAdjust="spacingAndGlyphs">1F52S: chrM_7445_A_G</text>
<line x1="1102.60" y1="982.50" x2="1112.50" y2="982.50" stroke="#222" stroke-width="1.3"/>
<text x="861.9" y="1036.7" font-size="22.8" fill="#000" textLength="226.9" lengthAdjust="spacingAndGlyphs">QV44: chrM_204_T_C</text>
<line x1="1102.60" y1="1029.20" x2="1112.50" y2="1029.20" stroke="#222" stroke-width="1.3"/>
<text x="882.8" y="1083.7" font-size="22.8" fill="#000" textLength="206.0" lengthAdjust="spacingAndGlyphs">1F6I4: chrM_76_C_T</text>
<line x1="1102.60" y1="1076.20" x2="1112.50" y2="1076.20" stroke="#222" stroke-width="1.3"/>
<text x="831.1" y="1130.3" font-size="22.8" fill="#000" textLength="257.7" lengthAdjust="spacingAndGlyphs">15CHQ: chrM_11778_G_A</text>
<line x1="1102.60" y1="1122.80" x2="1112.50" y2="1122.80" stroke="#222" stroke-width="1.3"/>
<text x="836.2" y="1176.9" font-size="22.8" fill="#000" textLength="252.6" lengthAdjust="spacingAndGlyphs">13VXU: chrM_9209_G_A</text>
<line x1="1102.60" y1="1169.40" x2="1112.50" y2="1169.40" stroke="#222" stroke-width="1.3"/>
<text x="836.2" y="1223.9" font-size="22.8" fill="#000" textLength="252.6" lengthAdjust="spacingAndGlyphs">1GZ4H: chrM_3392_G_A</text>
<line x1="1102.60" y1="1216.40" x2="1112.50" y2="1216.40" stroke="#222" stroke-width="1.3"/>
<circle cx="1453.2" cy="842.2" r="4.8" fill="#9900ff"/>
<circle cx="1610.5" cy="842.2" r="4.8" fill="#99bb88"/>
<circle cx="1631.4" cy="846.6" r="4.8" fill="#ff6600"/>
<circle cx="1631.4" cy="843.2" r="4.8" fill="#33cccc"/>
<circle cx="1631.4" cy="838.2" r="4.8" fill="#7777ff"/>
<circle cx="1647.0" cy="846.6" r="4.8" fill="#bb9988"/>
<circle cx="1647.0" cy="842.9" r="4.8" fill="#0000ff"/>
<circle cx="1647.0" cy="838.2" r="4.8" fill="#cc6611"/>
<circle cx="1657.6" cy="846.6" r="4.8" fill="#ffaaa0"/>
<circle cx="1657.6" cy="838.2" r="4.8" fill="#88ff00"/>
<circle cx="1662.9" cy="842.2" r="4.8" fill="#ff66ff"/>
<circle cx="1185.9" cy="889.0" r="4.8" fill="#33dd33"/>
<circle cx="1217.4" cy="889.0" r="4.8" fill="#ffdd99"/>
<circle cx="1285.5" cy="889.0" r="4.8" fill="#aaaaff"/>
<circle cx="1306.6" cy="889.0" r="4.8" fill="#dddddd"/>
<circle cx="1312.0" cy="889.0" r="4.8" fill="#a08a6a"/>
<circle cx="1316.9" cy="890.8" r="4.8" fill="#a0c060"/>
<circle cx="1316.9" cy="887.2" r="4.8" fill="#a0582a"/>
<circle cx="1327.5" cy="890.8" r="4.8" fill="#aaaaaa"/>
<circle cx="1327.5" cy="887.2" r="4.8" fill="#cc6611"/>
<circle cx="1338.0" cy="889.0" r="4.8" fill="#bb9988"/>
<circle cx="1353.6" cy="890.8" r="4.8" fill="#ffaaa0"/>
<circle cx="1353.6" cy="886.8" r="4.8" fill="#555522"/>
<circle cx="1369.2" cy="889.0" r="4.8" fill="#ff0000"/>
<circle cx="1374.7" cy="889.0" r="4.8" fill="#9900ff"/>
<circle cx="1380.2" cy="890.8" r="4.8" fill="#e8b878"/>
<circle cx="1380.2" cy="887.2" r="4.8" fill="#cc9955"/>
<circle cx="1406.2" cy="889.0" r="4.8" fill="#ffa500"/>
<circle cx="1427.0" cy="890.8" r="4.8" fill="#99bb88"/>
<circle cx="1427.0" cy="886.8" r="4.8" fill="#0000ff"/>
<circle cx="1437.7" cy="889.0" r="4.8" fill="#88ff00"/>
<circle cx="1463.7" cy="890.8" r="4.8" fill="#33cccc"/>
<circle cx="1463.7" cy="886.8" r="4.8" fill="#660099"/>
<circle cx="1473.6" cy="889.0" r="4.8" fill="#ff6600"/>
<circle cx="1479.6" cy="890.8" r="4.8" fill="#ff5555"/>
<circle cx="1479.6" cy="886.8" r="4.8" fill="#7777ff"/>
<circle cx="1490.1" cy="889.0" r="4.8" fill="#778855"/>
<circle cx="1511.0" cy="889.0" r="4.8" fill="#ffd700"/>
<circle cx="1164.8" cy="935.7" r="4.8" fill="#eeee00"/>
<circle cx="1175.4" cy="935.7" r="4.8" fill="#eeee00"/>
<circle cx="1185.7" cy="935.7" r="4.8" fill="#ffa500"/>
<circle cx="1191.2" cy="937.9" r="4.8" fill="#9900ff"/>
<circle cx="1191.2" cy="933.5" r="4.8" fill="#aaffaa"/>
<circle cx="1201.5" cy="935.7" r="4.8" fill="#eeee00"/>
<circle cx="1222.6" cy="933.5" r="4.8" fill="#eeee00"/>
<circle cx="1222.6" cy="937.9" r="4.8" fill="#eeee00"/>
<circle cx="1248.8" cy="935.7" r="4.8" fill="#eeee00"/>
<circle cx="1264.6" cy="935.7" r="4.8" fill="#ffd700"/>
<circle cx="1290.5" cy="935.7" r="4.8" fill="#e8b878"/>
<circle cx="1301.1" cy="935.7" r="4.8" fill="#eeee00"/>
<circle cx="1306.4" cy="935.7" r="4.8" fill="#ff00bb"/>
<circle cx="1316.9" cy="935.7" r="4.8" fill="#aaaaff"/>
<circle cx="1343.3" cy="935.7" r="4.8" fill="#99bb88"/>
<circle cx="1390.3" cy="935.7" r="4.8" fill="#ff0000"/>
<circle cx="1406.2" cy="935.7" r="4.8" fill="#aaaaaa"/>
<circle cx="1531.9" cy="935.7" r="4.8" fill="#0000ff"/>
<circle cx="1175.4" cy="982.5" r="4.8" fill="#552200"/>
<circle cx="1216.5" cy="980.7" r="4.8" fill="#eeee00"/>
<circle cx="1216.5" cy="984.3" r="4.8" fill="#eeee00"/>
<circle cx="1222.0" cy="986.9" r="4.8" fill="#ff0000"/>
<circle cx="1222.0" cy="982.5" r="4.8" fill="#eeee00"/>
<circle cx="1227.9" cy="986.9" r="4.8" fill="#eeee00"/>
<circle cx="1233.0" cy="982.5" r="4.8" fill="#eeee00"/>
<circle cx="1238.5" cy="982.5" r="4.8" fill="#eeee00"/>
<circle cx="1227.9" cy="978.1" r="4.8" fill="#0000ff"/>
<circle cx="1248.8" cy="982.5" r="4.8" fill="#7777ff"/>
<circle cx="1264.6" cy="982.5" r="4.8" fill="#ff6600"/>
<circle cx="1290.5" cy="982.5" r="4.8" fill="#ffa500"/>
<circle cx="1301.1" cy="982.5" r="4.8" fill="#aaffaa"/>
<circle cx="1353.6" cy="982.5" r="4.8" fill="#aaaaff"/>
<circle cx="1154.5" cy="1029.2" r="4.8" fill="#a0582a"/>
<circle cx="1159.8" cy="1031.0" r="4.8" fill="#a0c060"/>
<circle cx="1159.8" cy="1027.0" r="4.8" fill="#aaaaff"/>
<circle cx="1164.8" cy="1029.2" r="4.8" fill="#bb9988"/>
<circle cx="1154.5" cy="1029.2" r="4.8" fill="#a0582a"/>
<circle cx="1170.3" cy="1029.2" r="4.8" fill="#ffdd99"/>
<circle cx="1191.2" cy="1031.4" r="4.8" fill="#ff5555"/>
<circle cx="1191.2" cy="1027.4" r="4.8" fill="#7777ff"/>
<circle cx="1196.3" cy="1033.6" r="4.8" fill="#ff6600"/>
<circle cx="1196.3" cy="1029.2" r="4.8" fill="#552200"/>
<circle cx="1196.3" cy="1024.8" r="4.8" fill="#cc6611"/>
<circle cx="1327.5" cy="1031.4" r="4.8" fill="#ff0000"/>
<circle cx="1327.5" cy="1027.0" r="4.8" fill="#778855"/>
<circle cx="1348.4" cy="1029.2" r="4.8" fill="#660099"/>
<circle cx="1432.3" cy="1029.2" r="4.8" fill="#ffaaa0"/>
<circle cx="1573.8" cy="1029.2" r="4.8" fill="#aaaaaa"/>
<circle cx="1138.7" cy="1237.7" r="4.8" fill="#ff0000"/>
<circle cx="1138.7" cy="1234.4" r="4.8" fill="#ffdd99"/>
<circle cx="1138.7" cy="1228.9" r="4.8" fill="#ff66ff"/>
<circle cx="1138.7" cy="1224.5" r="4.8" fill="#e8b878"/>
<circle cx="1138.7" cy="1221.2" r="4.8" fill="#88ff00"/>
<circle cx="1138.7" cy="1216.8" r="4.8" fill="#aaaaff"/>
<circle cx="1138.7" cy="1212.4" r="4.8" fill="#ffa500"/>
<circle cx="1138.7" cy="1209" r="4.8" fill="#a0582a"/>
<circle cx="1138.7" cy="1204.7" r="4.8" fill="#0000ff"/>
<circle cx="1138.7" cy="1200.3" r="4.8" fill="#7777ff"/>
<circle cx="1138.7" cy="1197" r="4.8" fill="#778855"/>
<circle cx="1138.7" cy="1191.5" r="4.8" fill="#cccc33"/>
<circle cx="1138.7" cy="1187.1" r="4.8" fill="#a0c060"/>
<circle cx="1138.7" cy="1183.8" r="4.8" fill="#aaaaff"/>
<circle cx="1138.7" cy="1179.5" r="4.8" fill="#ffd700"/>
<circle cx="1138.7" cy="1174" r="4.8" fill="#aaaaaa"/>
<rect x="1133.90" y="1156.00" width="9.60" height="14.00" fill="#eeee00"/>
<circle cx="1138.7" cy="1153.5" r="4.8" fill="#33cccc"/>
<circle cx="1138.7" cy="1149.1" r="4.8" fill="#8b7355"/>
<circle cx="1138.7" cy="1142.5" r="4.8" fill="#33eecc"/>
<circle cx="1138.7" cy="1137.7" r="4.8" fill="#aaaaff"/>
<rect x="1133.9" y="1113" width="9.6" height="21" rx="4.8" fill="#eeee00"/>
<circle cx="1138.7" cy="1113.5" r="4.8" fill="#e8b878"/>
<circle cx="1138.7" cy="1108" r="4.8" fill="#9900ff"/>
<circle cx="1138.7" cy="1103.6" r="4.8" fill="#660099"/>
<circle cx="1138.7" cy="1094.8" r="4.8" fill="#ff00aa"/>
<rect x="1133.9" y="1057" width="9.6" height="35" rx="4.8" fill="#eeee00"/>
<circle cx="1138.7" cy="1056.8" r="4.8" fill="#aaaaaa"/>
<rect x="1133.9" y="1156" width="9.6" height="16" rx="4.8" fill="#eeee00"/>
<circle cx="1138.7" cy="1174" r="4.8" fill="#aaaaaa"/>
<circle cx="1154.9" cy="1076.2" r="4.8" fill="#ff6600"/>
<circle cx="1149.0" cy="1080.6" r="4.8" fill="#33cccc"/>
<circle cx="1149.0" cy="1076.2" r="4.8" fill="#aaffcc"/>
<circle cx="1149.0" cy="1071.4" r="4.8" fill="#0000ff"/>
<circle cx="1159.8" cy="1076.2" r="4.8" fill="#7777ff"/>
<circle cx="1175.8" cy="1076.2" r="4.8" fill="#ffd700"/>
<circle cx="1170.3" cy="1076.2" r="4.8" fill="#dddddd"/>
<circle cx="1191.2" cy="1076.2" r="4.8" fill="#eeee00"/>
<circle cx="1201.5" cy="1076.2" r="4.8" fill="#eeee00"/>
<circle cx="1253.8" cy="1076.2" r="4.8" fill="#ffa500"/>
<circle cx="1364.2" cy="1076.2" r="4.8" fill="#9900ff"/>
<circle cx="1547.7" cy="1076.2" r="4.8" fill="#660099"/>
<circle cx="1631.4" cy="1076.2" r="4.8" fill="#aaaaff"/>
<circle cx="1149.0" cy="1129.4" r="4.8" fill="#ff0000"/>
<circle cx="1154.9" cy="1122.8" r="4.8" fill="#ff6600"/>
<circle cx="1149.0" cy="1125.0" r="4.8" fill="#eeee00"/>
<circle cx="1149.0" cy="1121.7" r="4.8" fill="#bb9988"/>
<circle cx="1149.0" cy="1116.2" r="4.8" fill="#aaffaa"/>
<circle cx="1159.8" cy="1122.8" r="4.8" fill="#0000ff"/>
<circle cx="1406.2" cy="1122.8" r="4.8" fill="#778855"/>
<circle cx="1145.0" cy="1169.4" r="4.8" fill="#aaffaa"/>
<circle cx="1149.0" cy="1169.4" r="4.8" fill="#cc6611"/>
<circle cx="1154.5" cy="1169.4" r="4.8" fill="#ff00aa"/>
<circle cx="1463.7" cy="1169.4" r="4.8" fill="#0000ff"/>
<circle cx="1662.9" cy="1216.4" r="4.8" fill="#cc6611"/>
<rect x="1112.5" y="814.6" width="579.0" height="429.2" fill="none" stroke="#2a2a2a" stroke-width="1.4"/>
<line x1="1141.30" y1="1243.80" x2="1141.30" y2="1254.60" stroke="#222" stroke-width="1.3"/>
<text x="1135.2" y="1283.4" font-size="22.8" fill="#000" textLength="12.7" lengthAdjust="spacingAndGlyphs">0</text>
<line x1="1273.62" y1="1243.80" x2="1273.62" y2="1254.60" stroke="#222" stroke-width="1.3"/>
<text x="1251.2" y="1283.4" font-size="22.8" fill="#000" textLength="45.9" lengthAdjust="spacingAndGlyphs">0.25</text>
<line x1="1405.95" y1="1243.80" x2="1405.95" y2="1254.60" stroke="#222" stroke-width="1.3"/>
<text x="1382.0" y="1283.4" font-size="22.8" fill="#000" textLength="48.3" lengthAdjust="spacingAndGlyphs">0.50</text>
<line x1="1538.27" y1="1243.80" x2="1538.27" y2="1254.60" stroke="#222" stroke-width="1.3"/>
<text x="1515.8" y="1283.4" font-size="22.8" fill="#000" textLength="45.7" lengthAdjust="spacingAndGlyphs">0.75</text>
<line x1="1670.60" y1="1243.80" x2="1670.60" y2="1254.60" stroke="#222" stroke-width="1.3"/>
<text x="1648.4" y="1283.4" font-size="22.8" fill="#000" textLength="45.0" lengthAdjust="spacingAndGlyphs">1.00</text>
<text x="1314.3" y="1325.4" font-size="27.4" fill="#000" textLength="176.0" lengthAdjust="spacingAndGlyphs">Heteroplasmy</text>
<text x="1704.8" y="849.8" font-size="22.8" fill="#b3b3b3" textLength="75.4" lengthAdjust="spacingAndGlyphs">D−loop</text>
<text x="1704.8" y="896.6" font-size="22.8" fill="#fdb515" textLength="98.2" lengthAdjust="spacingAndGlyphs">Missense</text>
<text x="1704.8" y="943.3" font-size="22.8" fill="#b3b3b3" textLength="75.4" lengthAdjust="spacingAndGlyphs">D−loop</text>
<text x="1704.8" y="990.1" font-size="22.8" fill="#3a8f8f" textLength="218.6" lengthAdjust="spacingAndGlyphs">Stop retained, SNHL</text>
<text x="1704.8" y="1036.8" font-size="22.8" fill="#b3b3b3" textLength="75.4" lengthAdjust="spacingAndGlyphs">D−loop</text>
<text x="1704.8" y="1083.8" font-size="22.8" fill="#b3b3b3" textLength="75.4" lengthAdjust="spacingAndGlyphs">D−loop</text>
<text x="1704.8" y="1116.0" font-size="22.8" fill="#f5821f" textLength="223.0" lengthAdjust="spacingAndGlyphs">Missense conserved,</text>
<text x="1704.8" y="1143.0" font-size="22.8" fill="#f5821f" textLength="62.7" lengthAdjust="spacingAndGlyphs">LHON</text>
<text x="1704.8" y="1177.0" font-size="22.8" fill="#3a8f8f" textLength="139.2" lengthAdjust="spacingAndGlyphs">Synonymous</text>
<text x="1704.8" y="1224.0" font-size="22.8" fill="#fdb515" textLength="98.2" lengthAdjust="spacingAndGlyphs">Missense</text>
<line x1="1955.90" y1="832.30" x2="1955.90" y2="1042.80" stroke="#333" stroke-width="1.3"/>
<line x1="1955.90" y1="1067.20" x2="1955.90" y2="1233.40" stroke="#333" stroke-width="1.3"/>
<text x="1973.6" y="930.5" font-size="27.4" fill="#000" textLength="116.7" lengthAdjust="spacingAndGlyphs">Germline</text>
<text x="1973.6" y="1096.7" font-size="27.4" fill="#000" textLength="61.4" lengthAdjust="spacingAndGlyphs">Early</text>
<text x="1973.6" y="1130.0" font-size="27.4" fill="#000" textLength="192.4" lengthAdjust="spacingAndGlyphs">developmental</text>
<text x="1973.6" y="1188.3" font-size="27.4" fill="#000" textLength="103.4" lengthAdjust="spacingAndGlyphs">Somatic</text>
<text x="0.0" y="1386.4" font-size="38.5" fill="#000" textLength="22.5" lengthAdjust="spacingAndGlyphs" font-weight="bold" stroke="#000" stroke-width="1.3">e</text>
<path d="M276,1620 L276.00,1427.50 A192.5,192.5 0 0 1 447.81,1706.81Z" fill="#1d3557" stroke="#fff" stroke-width="3" stroke-linejoin="round"/>
<path d="M276,1620 L447.81,1706.81 A192.5,192.5 0 1 1 119.77,1507.54Z" fill="#457b9d" stroke="#fff" stroke-width="3" stroke-linejoin="round"/>
<path d="M276,1620 L119.77,1507.54 A192.5,192.5 0 0 1 276.00,1427.50Z" fill="#999999" stroke="#fff" stroke-width="3" stroke-linejoin="round"/>
<text x="153.2" y="1406.7" font-size="27.4" fill="#000" textLength="245.1" lengthAdjust="spacingAndGlyphs">16,569 mtDNA sites</text>
<text x="32.4" y="1463.9" font-size="27.4" fill="#000" textLength="116.3" lengthAdjust="spacingAndGlyphs">Excluded</text>
<text x="9.0" y="1783.8" font-size="27.4" fill="#000" textLength="127.0" lengthAdjust="spacingAndGlyphs">No variant</text>
<text x="413.6" y="1878.4" font-size="27.4" fill="#000" textLength="225.3" lengthAdjust="spacingAndGlyphs">5,376 variant sites</text>
<text x="196.9" y="1544.1" font-size="27.4" fill="#fff" textLength="69.8" lengthAdjust="spacingAndGlyphs">2,497</text>
<text x="323.5" y="1578.8" font-size="27.4" fill="#fff" textLength="69.4" lengthAdjust="spacingAndGlyphs">5,376</text>
<text x="189.2" y="1711.7" font-size="27.4" fill="#fff" textLength="73.5" lengthAdjust="spacingAndGlyphs">8,696</text>
<polyline points="458.7,1559.9 525.8,1592.3 528,1846.9" fill="none" stroke="#222" stroke-width="1.3"/>
<polyline points="995.0,1510.3 996.4,1510.7 997.7,1512.1 998.7,1509.6 999.8,1509.6 1000.9,1507.7 1001.9,1509.5 1003.0,1513.9 1004.0,1509.5 1005.0,1504.9 1006.0,1500.6 1007.1,1504.8 1008.1,1509.5 1009.2,1513.9 1010.5,1515.1 1011.8,1519.2 1013.6,1545.7 1014.7,1548.2 1015.8,1549.7 1016.9,1552.4 1018.0,1556.3 1019.2,1581.9 1020.3,1607.6 1021.3,1602.5 1022.2,1596.8 1023.2,1591.5 1024.1,1586.5 1025.1,1581.1 1026.0,1469.7 1027.4,1450.2 1028.4,1451.1 1029.3,1449.5 1030.3,1448.6 1031.3,1448.4 1032.4,1448.5 1033.4,1444.4 1034.5,1445.5 1035.5,1442.4 1036.6,1441.7 1037.7,1440.9 1038.8,1441.1 1039.9,1441.9 1041.0,1442.8 1042.2,1446.8 1043.4,1447.9 1044.6,1452.0 1045.7,1456.1 1046.9,1460.3 1048.1,1464.4 1049.4,1465.7 1050.7,1467.9 1051.8,1462.4 1052.9,1456.9 1053.9,1460.3 1054.8,1463.9 1055.8,1467.6 1056.8,1471.5 1057.8,1475.0 1058.9,1480.2 1059.9,1485.5 1061.0,1490.9 1062.1,1496.2 1063.1,1501.5 1064.2,1512.4 1065.3,1523.8 1066.4,1534.8 1067.5,1545.7 1069.3,1581.1 1070.6,1574.7 1072.0,1568.7 1073.4,1448.4 1075.2,1421.9 1076.1,1420.8 1077.0,1419.3 1077.9,1419.0 1078.9,1417.3 1079.8,1414.6 1080.7,1415.4 1081.7,1411.5 1082.6,1411.3 1083.6,1411.0 1084.7,1412.1 1085.8,1410.2 1086.8,1411.3 1087.9,1411.3 1088.9,1408.9 1090.0,1409.8 1091.1,1409.1 1092.1,1407.5 1093.2,1406.3 1094.3,1406.8 1095.4,1404.5 1096.5,1405.1 1097.6,1403.9 1098.6,1404.1 1099.7,1403.9 1100.7,1403.5 1101.7,1404.5 1102.8,1404.8 1103.8,1403.3 1105.0,1405.9 1106.2,1409.1 1107.3,1411.3 1108.7,1416.3 1110.0,1421.9 1111.8,1408.6 1112.9,1414.7 1114.1,1420.5 1115.3,1426.3 1116.5,1422.2 1117.7,1417.7 1118.8,1413.1 1119.9,1412.9 1121.1,1413.6 1122.2,1414.9 1123.3,1414.8 1124.4,1412.5 1125.5,1412.9 1126.6,1411.2 1127.7,1411.3 1128.7,1411.0 1129.7,1411.7 1130.8,1414.7 1131.8,1413.7 1132.8,1415.0 1133.9,1416.6 1134.9,1417.2 1135.9,1419.5 1137.0,1418.0 1138.0,1420.0 1139.0,1421.2 1140.1,1421.9 1141.2,1433.6 1142.4,1444.9 1144.1,1487.3 1145.2,1468.1 1146.3,1448.4 1147.4,1438.6 1148.6,1428.3 1149.8,1418.4 1150.9,1417.8 1151.9,1417.2 1153.0,1418.5 1154.0,1418.3 1155.1,1416.6 1156.4,1409.3 1157.8,1402.4 1158.9,1401.3 1160.0,1401.2 1161.1,1401.0 1162.2,1401.6 1163.2,1400.5 1164.2,1399.8 1165.2,1397.9 1166.2,1396.1 1167.1,1396.3 1168.1,1395.2 1169.1,1394.8 1170.1,1393.6 1171.2,1397.4 1172.3,1399.0 1173.4,1400.9 1174.6,1403.3 1175.6,1404.4 1176.6,1405.3 1177.6,1404.2 1178.7,1407.5 1179.7,1407.9 1180.7,1407.8 1181.8,1411.9 1182.9,1415.7 1183.9,1419.4 1185.0,1423.3 1186.0,1427.2 1187.2,1436.4 1188.4,1446.2 1189.6,1455.5 1190.7,1495.9 1191.9,1536.9 1192.9,1561.4 1194.0,1586.4 1195.2,1593.3 1196.4,1600.3 1197.5,1607.6 1198.7,1591.0 1199.9,1574.3 1201.1,1558.1 1202.1,1515.3 1203.2,1473.2 1204.6,1464.4 1205.7,1456.7 1206.7,1449.3 1207.8,1442.0 1208.9,1434.4 1209.9,1427.2 1211.1,1423.9 1212.3,1420.2 1213.5,1416.6 1214.6,1411.1 1215.8,1405.8 1217.0,1400.7 1218.0,1398.5 1219.0,1396.9 1220.0,1394.5 1221.0,1394.9 1222.0,1392.2 1222.9,1394.5 1223.9,1393.7 1224.9,1394.5 1225.8,1395.4 1226.9,1399.8 1228.0,1404.6 1229.0,1409.5 1230.0,1406.4 1231.0,1403.5 1232.0,1401.6 1233.4,1406.6 1234.7,1411.3 1235.7,1410.1 1236.8,1409.5 1237.9,1412.1 1238.9,1410.7 1240.0,1410.4 1241.0,1407.4 1242.0,1407.8 1243.0,1410.4 1244.0,1410.2 1245.0,1413.1 1246.4,1432.5 1247.7,1452.0 1248.7,1494.7 1249.8,1536.9 1251.6,1700.5 1253.3,1607.6 1254.5,1569.8 1255.6,1531.6 1256.8,1531.0 1258.0,1528.5 1259.2,1528.0 1260.4,1523.8 1261.5,1519.6 1262.7,1515.6 1264.0,1513.8 1265.4,1510.3 1266.7,1479.4 1268.0,1448.4 1269.8,1414.8 1271.1,1413.5 1272.4,1410.4 1273.8,1414.3 1275.1,1418.4 1276.3,1415.8 1277.4,1414.8 1278.4,1407.4 1279.4,1399.8 1280.4,1391.8 1281.4,1392.0 1282.5,1391.0 1283.5,1390.1 1284.5,1389.0 1285.6,1386.6 1286.6,1386.5 1287.8,1387.5 1289.0,1387.9 1290.1,1389.2 1291.5,1395.4 1292.3,1382.6 1293.3,1381.5 1294.3,1381.8 1295.3,1382.9 1296.3,1383.9 1297.4,1382.4 1298.5,1383.0 1299.6,1383.0 1300.7,1380.9 1301.9,1383.2 1303.1,1387.1 1304.3,1388.3 1305.5,1393.9 1306.6,1399.2 1307.8,1404.2 1309.1,1406.0 1310.5,1408.6 1311.8,1399.2 1313.1,1390.1 1314.9,1380.3 1316.1,1389.9 1317.3,1399.6 1318.4,1409.5 1319.5,1407.8 1320.6,1408.1 1321.6,1406.9 1322.6,1400.3 1323.6,1393.5 1324.6,1386.5 1325.8,1386.8 1327.0,1387.6 1328.2,1387.4 1329.3,1391.6 1330.5,1392.7 1331.7,1397.1 1332.8,1403.9 1333.9,1410.7 1335.0,1417.2 1336.1,1423.7 1337.3,1432.1 1338.5,1440.2 1339.7,1448.4 1340.8,1492.5 1342.0,1537.0 1343.2,1581.1 1345.0,1625.3 1345.8,1536.9 1347.1,1404.2 1348.1,1402.8 1349.2,1403.4 1350.3,1401.6 1351.4,1398.0 1352.6,1393.8 1353.8,1390.1 1355.0,1388.6 1356.2,1389.0 1357.3,1386.5 1358.4,1387.2 1359.5,1385.5 1360.5,1386.5 1361.6,1387.2 1362.6,1390.1 1363.7,1389.9 1364.8,1393.1 1365.8,1393.6 1366.9,1392.5 1368.0,1394.5 1369.1,1398.5 1370.3,1402.4 1371.5,1406.0 1372.7,1411.4 1373.9,1416.5 1375.0,1421.9 1376.4,1444.0 1377.7,1466.1 1379.5,1554.6 1380.6,1576.4 1381.8,1598.8 1382.5,1448.4 1384.2,1402.4 1385.2,1400.8 1386.2,1403.5 1387.2,1402.4 1388.2,1401.8 1389.2,1401.6 1390.6,1409.5 1391.7,1399.6 1392.7,1389.2 1393.8,1387.2 1394.8,1386.8 1395.9,1383.9 1396.9,1387.8 1397.9,1388.9 1398.9,1392.7 1400.2,1402.7 1401.6,1413.1 1402.6,1423.5 1403.7,1434.3 1404.8,1413.8 1406.0,1393.6 1407.3,1396.1 1408.6,1398.0 1410.0,1395.5 1411.3,1394.5 1412.6,1400.2 1413.9,1406.0 1415.3,1407.5 1416.6,1411.3 1417.7,1419.5 1418.9,1427.2 1419.8,1439.6 1421.4,1413.1 1422.5,1405.5 1423.7,1398.0 1425.0,1399.2 1426.3,1400.7 1427.5,1399.2 1428.7,1398.4 1429.9,1395.4 1431.0,1394.7 1432.1,1395.7 1433.2,1394.1 1434.3,1393.6 1435.3,1391.6 1436.3,1389.5 1437.3,1387.4 1438.3,1387.2 1439.3,1389.7 1440.3,1390.2 1441.2,1390.9 1442.2,1393.6 1443.4,1394.5 1444.6,1392.6 1445.8,1393.6 1447.0,1396.5 1448.1,1400.2 1449.3,1402.4 1450.4,1409.0 1451.4,1415.3 1452.5,1421.9 1453.5,1436.7 1454.5,1451.4 1455.5,1466.1 1456.8,1501.7 1458.2,1536.9 1459.9,1448.4 1461.3,1434.9 1462.6,1421.9 1463.8,1424.7 1464.9,1426.5 1466.1,1429.9 1467.4,1426.5 1468.8,1424.6 1469.8,1429.7 1470.9,1434.6 1472.0,1439.6 1473.0,1461.7 1474.1,1483.8 1475.4,1510.5 1476.7,1536.9 1477.9,1555.2 1479.0,1573.1 1479.7,1448.4 1481.1,1406.9 1482.3,1405.4 1483.4,1404.6 1484.5,1402.9 1485.6,1401.6 1486.7,1399.2 1487.8,1397.3 1488.9,1394.1 1490.0,1391.8 1491.0,1391.0 1492.1,1389.8 1493.1,1390.2 1494.1,1387.9 1495.3,1389.2 1496.5,1390.5 1497.7,1390.1 1498.8,1390.4 1499.9,1387.4 1501.0,1387.3 1502.1,1386.2 1503.2,1387.9 1504.3,1388.1 1505.4,1386.4 1506.5,1387.9 1507.6,1385.9 1508.6,1386.0 1509.6,1384.0 1510.7,1383.6 1511.7,1382.2 1512.7,1382.6 1513.8,1384.0 1514.9,1385.3 1516.0,1386.5 1517.1,1386.2 1518.2,1385.6 1519.3,1387.7 1520.3,1387.9 1521.4,1386.8 1522.4,1388.3 1523.6,1387.6 1524.7,1386.0 1525.8,1381.9 1526.9,1380.9 1527.9,1381.8 1528.9,1379.8 1530.0,1379.7 1531.0,1380.8 1532.0,1380.0 1533.1,1378.6 1534.1,1377.9 1535.2,1379.1 1536.2,1379.7 1537.3,1379.5 1538.4,1380.3 1539.4,1380.5 1540.5,1381.9 1541.5,1384.2 1542.6,1383.1 1543.7,1385.6 1544.8,1387.8 1545.9,1389.4 1547.0,1390.2 1548.1,1393.6 1549.1,1397.0 1550.1,1400.8 1551.1,1404.2 1552.2,1417.5 1553.4,1430.7 1555.2,1501.5 1556.9,1568.7 1558.7,1554.6 1560.5,1544.8 1562.2,1551.0 1564.0,1501.5 1565.8,1459.0 1567.5,1447.5 1568.7,1445.4 1569.9,1447.2 1571.1,1444.9 1572.3,1444.9 1573.4,1444.5 1574.6,1442.2 1575.9,1441.5 1577.3,1443.1 1578.5,1441.2 1579.6,1439.4 1580.8,1439.6 1582.0,1441.3 1583.2,1440.7 1584.4,1442.2 1585.7,1438.0 1587.0,1434.3 1588.3,1433.6 1589.7,1433.4 1591.0,1437.6 1592.3,1441.4 1593.5,1442.6 1594.7,1441.2 1595.8,1442.2 1597.2,1439.0 1598.5,1437.8 1599.6,1438.5 1600.6,1437.0 1601.7,1436.8 1602.7,1434.5 1603.8,1435.2 1604.9,1433.0 1605.9,1434.0 1607.0,1432.3 1608.1,1430.3 1609.1,1430.7 1610.2,1431.5 1611.2,1430.1 1612.3,1430.1 1613.4,1427.4 1614.4,1428.1 1615.5,1428.9 1616.5,1426.3 1617.6,1428.4 1618.7,1427.0 1619.7,1426.9 1620.9,1427.7 1622.1,1429.6 1623.3,1430.7 1624.3,1433.8 1625.4,1433.6 1626.4,1436.1 1627.4,1432.9 1628.4,1432.0 1629.5,1429.9 1630.6,1428.2 1631.7,1426.9 1632.8,1426.2 1633.9,1426.3 1634.9,1424.4 1636.0,1424.4 1637.1,1424.2 1638.1,1423.6 1639.2,1423.7 1640.2,1423.1 1641.3,1421.0 1642.3,1421.3 1643.2,1422.8 1644.2,1422.7 1645.2,1424.1 1646.2,1424.0 1647.1,1426.3 1648.3,1425.3 1649.5,1424.3 1650.7,1425.4 1652.0,1424.5 1653.3,1422.3 1654.5,1423.8 1655.7,1424.0 1656.9,1426.3 1658.0,1427.7 1659.2,1430.6 1660.4,1430.7 1661.7,1436.7 1663.1,1443.1 1664.2,1446.3 1665.3,1447.3 1666.4,1449.7 1667.5,1452.0 1668.7,1456.3 1669.8,1460.2 1671.0,1464.4 1672.3,1472.3 1673.7,1480.3 1674.9,1501.5 1676.3,1448.4 1677.7,1420.1 1679.5,1414.8 1680.5,1412.7 1681.5,1411.0 1682.4,1406.4 1683.4,1404.2 1684.4,1404.5 1685.4,1403.3 1686.4,1402.4 1687.4,1400.9 1688.4,1400.0 1689.5,1398.3 1690.5,1398.9 1691.5,1396.9 1692.6,1395.9 1693.7,1397.0 1694.7,1394.6 1695.8,1394.5 1696.8,1392.6 1697.9,1391.5 1699.0,1392.9 1700.0,1392.1 1701.1,1390.1 1702.1,1390.2 1703.2,1388.7 1704.3,1388.2 1705.3,1388.0 1706.4,1388.3 1707.6,1388.8 1708.7,1388.5 1709.9,1390.1 1711.5,1395.4 1712.7,1394.1 1713.9,1392.3 1715.0,1391.9 1716.1,1395.0 1717.2,1396.8 1718.2,1397.3 1719.3,1398.2 1720.4,1400.7 1721.5,1405.0 1722.6,1408.6 1723.7,1412.6 1724.8,1416.6 1726.1,1432.3 1727.4,1448.5 1729.2,1519.3 1731.0,1625.5 1731.5,1648.5 1732.2,1554.7 1733.6,1514.0 1735.4,1499.8 1736.5,1496.2 1737.6,1492.7 1738.7,1489.2 1739.8,1485.7 1740.9,1482.8 1741.9,1481.8 1743.0,1478.3 1744.1,1477.2 1745.1,1475.9 1746.3,1479.5 1747.5,1483.5 1748.7,1487.4 1749.8,1487.4 1750.9,1488.7 1752.0,1490.8 1753.1,1492.7 1754.3,1493.1 1755.5,1495.4 1756.6,1496.3 1758.0,1501.6 1759.3,1506.9" fill="none" stroke="#a8b868" stroke-width="2.7" stroke-linejoin="round" stroke-linecap="round"/>
<polyline points="995.0,1529.8 996.4,1534.4 997.7,1538.6 999.0,1538.2 1000.3,1536.9 1001.7,1542.3 1003.0,1547.5 1004.1,1542.1 1005.1,1536.2 1006.2,1530.7 1007.2,1535.4 1008.3,1540.4 1009.4,1540.7 1010.4,1537.0 1011.5,1536.9 1012.5,1543.5 1013.5,1549.9 1014.5,1556.3 1015.7,1560.2 1016.8,1564.8 1018.0,1568.7 1019.2,1597.2 1020.3,1625.3 1021.4,1616.5 1022.4,1607.6 1023.8,1586.5 1025.1,1565.2 1025.6,1483.8 1026.9,1460.8 1028.0,1461.1 1029.1,1458.4 1030.2,1458.9 1031.3,1458.2 1032.4,1456.9 1033.4,1456.7 1034.5,1455.4 1035.5,1454.2 1036.6,1452.0 1037.7,1452.4 1038.8,1453.6 1039.9,1453.2 1041.0,1452.9 1042.1,1457.7 1043.1,1462.2 1044.2,1466.9 1045.3,1471.7 1046.3,1476.7 1047.4,1475.4 1048.5,1473.8 1049.6,1475.1 1050.7,1473.2 1051.8,1466.2 1052.9,1459.0 1053.9,1464.1 1054.8,1469.0 1055.8,1474.0 1056.8,1478.8 1057.8,1483.8 1058.9,1489.3 1060.0,1495.5 1061.1,1501.2 1062.2,1506.8 1063.3,1518.7 1064.5,1530.7 1065.6,1542.7 1066.7,1554.6 1068.4,1639.4 1070.2,1536.9 1071.3,1501.2 1072.3,1466.1 1073.3,1456.2 1074.2,1445.9 1075.2,1436.1 1076.1,1433.9 1077.0,1433.6 1078.0,1434.1 1078.9,1431.6 1079.8,1432.4 1080.8,1432.2 1081.7,1429.9 1082.8,1430.5 1083.9,1430.8 1085.0,1431.8 1086.1,1432.5 1087.1,1432.3 1088.1,1431.8 1089.2,1430.6 1090.2,1429.9 1091.2,1427.5 1092.2,1426.9 1093.2,1427.2 1094.3,1425.1 1095.4,1425.3 1096.5,1422.6 1097.6,1421.9 1098.6,1422.1 1099.7,1420.4 1100.7,1420.6 1101.7,1421.2 1102.8,1422.4 1103.8,1421.9 1104.9,1424.7 1106.0,1426.9 1107.1,1427.9 1108.2,1430.7 1109.4,1429.9 1110.6,1428.9 1111.8,1428.1 1112.9,1431.9 1114.1,1435.5 1115.3,1439.6 1116.5,1438.4 1117.7,1434.0 1118.8,1432.5 1119.8,1433.5 1120.8,1432.8 1121.8,1429.6 1122.8,1430.4 1123.8,1431.0 1124.7,1431.0 1125.7,1428.9 1126.7,1427.9 1127.7,1428.1 1128.7,1428.3 1129.7,1431.5 1130.8,1430.3 1131.8,1432.5 1132.8,1432.2 1133.9,1434.3 1134.9,1435.8 1135.9,1438.6 1137.0,1437.6 1138.0,1441.1 1139.0,1441.7 1140.1,1443.1 1141.8,1466.1 1143.6,1494.4 1144.9,1477.0 1146.3,1459.0 1147.4,1452.1 1148.6,1444.7 1149.8,1437.8 1150.9,1439.0 1151.9,1437.8 1153.0,1436.4 1154.0,1436.3 1155.1,1437.8 1156.3,1431.9 1157.5,1426.0 1158.6,1420.1 1159.8,1421.0 1161.0,1422.0 1162.2,1424.6 1163.2,1423.1 1164.2,1422.0 1165.2,1422.6 1166.2,1419.1 1167.1,1420.3 1168.1,1419.6 1169.1,1416.5 1170.1,1416.6 1171.2,1421.0 1172.3,1423.4 1173.4,1427.1 1174.6,1429.0 1175.6,1428.9 1176.6,1429.8 1177.6,1430.4 1178.7,1432.8 1179.7,1432.2 1180.7,1432.5 1181.8,1434.8 1183.0,1437.6 1184.1,1439.8 1185.2,1443.1 1186.3,1450.4 1187.4,1457.9 1188.5,1465.9 1189.6,1473.2 1191.4,1637.7 1192.5,1631.4 1193.7,1625.3 1194.8,1635.0 1196.0,1644.0 1197.2,1653.6 1198.3,1621.6 1199.3,1589.9 1201.1,1519.2 1202.1,1508.6 1203.2,1497.8 1204.3,1487.3 1205.3,1485.2 1206.4,1483.8 1207.6,1475.8 1208.7,1467.5 1209.9,1459.0 1211.1,1452.2 1212.3,1445.0 1213.5,1437.8 1214.3,1455.5 1215.5,1443.4 1216.7,1431.0 1217.9,1418.4 1218.9,1417.0 1219.9,1415.9 1220.9,1412.4 1222.0,1412.2 1222.9,1414.4 1223.9,1415.1 1224.9,1417.6 1225.8,1418.4 1226.9,1423.2 1228.0,1427.7 1229.0,1432.5 1230.0,1428.7 1231.0,1425.7 1232.0,1421.9 1233.2,1431.0 1234.3,1440.5 1235.3,1435.4 1236.3,1430.4 1237.3,1425.4 1238.7,1423.1 1240.0,1421.9 1241.0,1421.0 1242.0,1424.2 1243.0,1427.3 1244.0,1427.6 1245.0,1430.7 1246.4,1448.5 1247.7,1466.1 1248.6,1660.7 1249.5,1682.8 1250.8,1627.4 1252.1,1572.2 1253.4,1547.5 1254.8,1522.7 1256.5,1519.2 1257.9,1516.2 1259.2,1513.9 1260.3,1500.4 1261.5,1487.3 1263.3,1475.0 1264.3,1481.0 1265.4,1487.3 1266.3,1501.5 1268.0,1466.1 1269.8,1434.3 1271.1,1428.8 1272.4,1423.7 1273.8,1428.3 1275.1,1432.5 1276.3,1431.2 1277.4,1429.9 1278.4,1424.1 1279.4,1418.9 1280.4,1413.1 1281.4,1412.6 1282.5,1409.1 1283.5,1406.2 1284.5,1404.5 1285.6,1402.3 1286.6,1401.6 1287.8,1402.0 1289.0,1402.1 1290.1,1404.2 1291.0,1414.8 1291.9,1397.1 1293.0,1396.8 1294.1,1397.3 1295.2,1398.7 1296.3,1398.9 1297.4,1399.4 1298.5,1398.3 1299.6,1396.7 1300.7,1396.3 1301.9,1398.7 1303.1,1401.6 1304.3,1404.2 1305.5,1409.4 1306.6,1414.7 1307.8,1420.1 1309.1,1421.0 1310.5,1424.6 1311.8,1416.0 1313.1,1407.8 1314.2,1402.7 1315.2,1397.1 1316.3,1406.1 1317.4,1415.4 1318.4,1424.6 1319.5,1424.1 1320.6,1423.9 1321.6,1421.9 1322.6,1415.0 1323.6,1408.2 1324.6,1401.6 1325.8,1401.4 1327.0,1402.4 1328.2,1403.3 1329.3,1406.4 1330.5,1411.2 1331.7,1413.1 1332.9,1420.9 1334.1,1428.6 1335.2,1436.1 1336.4,1443.4 1337.6,1451.1 1338.8,1459.0 1339.9,1506.9 1341.1,1554.6 1341.8,1669.5 1343.2,1554.6 1344.5,1497.3 1345.8,1439.6 1347.0,1428.1 1348.1,1416.6 1349.1,1415.7 1350.2,1412.7 1351.2,1413.1 1352.5,1408.6 1353.8,1404.2 1355.0,1403.7 1356.2,1401.7 1357.3,1398.9 1358.4,1399.9 1359.5,1400.1 1360.5,1398.6 1361.6,1400.6 1362.6,1404.2 1363.7,1403.8 1364.8,1404.6 1365.8,1406.4 1366.9,1407.6 1368.0,1407.8 1369.1,1412.7 1370.3,1417.3 1371.5,1421.9 1372.8,1426.4 1374.1,1430.7 1375.5,1457.4 1376.8,1483.8 1377.9,1519.2 1378.9,1554.6 1380.1,1510.4 1381.2,1466.1 1383.0,1427.2 1384.8,1416.6 1385.9,1415.7 1387.0,1418.3 1388.1,1417.1 1389.2,1418.4 1390.6,1429.0 1391.7,1418.6 1392.7,1407.8 1393.8,1406.0 1394.8,1402.7 1395.9,1401.0 1396.9,1403.9 1397.9,1407.1 1398.9,1410.4 1400.2,1420.7 1401.6,1430.7 1402.6,1443.2 1403.7,1455.5 1404.8,1434.9 1406.0,1414.8 1407.3,1415.3 1408.6,1418.4 1410.0,1415.3 1411.3,1412.2 1412.6,1418.9 1413.9,1425.4 1415.3,1426.9 1416.6,1429.0 1418.4,1444.9 1419.8,1462.6 1421.4,1430.7 1422.5,1420.9 1423.7,1411.3 1425.0,1412.9 1426.3,1413.9 1427.5,1410.4 1428.7,1409.2 1429.9,1407.8 1431.0,1407.9 1432.1,1409.6 1433.2,1408.9 1434.3,1408.6 1435.4,1408.0 1436.5,1405.0 1437.6,1402.5 1438.7,1401.6 1439.9,1402.6 1441.1,1406.5 1442.2,1406.9 1443.4,1407.8 1444.6,1406.9 1445.8,1407.8 1447.0,1409.3 1448.1,1413.6 1449.3,1416.6 1450.6,1425.5 1452.0,1434.3 1453.3,1459.0 1454.6,1483.8 1455.9,1510.2 1457.3,1536.9 1458.4,1551.1 1459.6,1565.2 1460.8,1459.0 1462.0,1450.5 1463.1,1441.4 1464.1,1442.9 1465.1,1444.7 1466.1,1448.4 1467.4,1444.9 1468.8,1442.2 1469.8,1447.8 1470.9,1453.6 1472.0,1459.0 1473.0,1480.1 1474.1,1501.5 1475.8,1551.0 1477.6,1483.8 1479.4,1444.9 1480.7,1439.8 1482.0,1434.3 1483.2,1433.2 1484.4,1430.8 1485.6,1429.0 1486.7,1425.0 1487.8,1424.2 1488.9,1419.1 1490.0,1416.6 1491.0,1416.7 1492.1,1414.0 1493.1,1413.1 1494.1,1413.1 1495.3,1413.8 1496.5,1412.4 1497.7,1413.1 1498.8,1412.9 1499.9,1410.0 1501.0,1407.5 1502.1,1406.9 1503.2,1406.9 1504.3,1408.4 1505.4,1410.0 1506.5,1410.4 1507.6,1410.7 1508.6,1407.2 1509.6,1406.8 1510.7,1405.2 1511.7,1406.4 1512.7,1403.9 1513.8,1403.8 1514.9,1404.5 1516.0,1405.5 1517.1,1407.8 1518.2,1408.7 1519.3,1411.4 1520.3,1412.6 1521.4,1413.4 1522.4,1413.9 1523.6,1412.9 1524.7,1410.2 1525.8,1405.9 1526.9,1403.9 1527.9,1402.6 1528.9,1404.6 1530.0,1403.7 1531.0,1401.3 1532.0,1402.9 1533.1,1402.1 1534.1,1402.1 1535.2,1402.4 1536.2,1402.7 1537.3,1402.5 1538.4,1403.9 1539.4,1403.5 1540.5,1405.5 1541.5,1406.8 1542.6,1409.8 1543.7,1409.5 1544.8,1410.6 1545.9,1415.3 1547.0,1415.3 1548.1,1418.4 1549.1,1422.4 1550.1,1426.8 1551.1,1430.7 1552.9,1459.0 1554.3,1519.2 1556.1,1598.8 1557.5,1611.1 1558.5,1604.3 1559.6,1597.0 1561.0,1591.7 1562.2,1593.3 1563.4,1593.9 1564.5,1597.0 1565.2,1536.9 1566.7,1483.8 1568.4,1466.1 1569.8,1465.2 1571.1,1464.4 1572.3,1462.8 1573.4,1463.3 1574.6,1460.8 1575.9,1461.7 1577.3,1464.4 1578.5,1463.6 1579.6,1465.0 1580.8,1463.5 1582.0,1463.5 1583.2,1466.1 1584.4,1467.9 1585.7,1462.3 1587.0,1456.4 1588.3,1455.9 1589.7,1453.7 1591.0,1457.9 1592.3,1462.6 1593.5,1461.2 1594.7,1461.3 1595.8,1462.6 1597.2,1462.1 1598.5,1459.0 1599.6,1457.9 1600.6,1458.9 1601.7,1459.0 1602.7,1456.9 1603.8,1456.9 1604.9,1455.6 1605.9,1457.0 1607.0,1455.4 1608.1,1453.7 1609.1,1453.7 1610.2,1453.5 1611.2,1451.4 1612.3,1450.4 1613.4,1448.7 1614.4,1449.3 1615.5,1449.7 1616.5,1449.9 1617.6,1448.7 1618.7,1449.2 1619.7,1447.5 1620.9,1447.3 1622.1,1449.1 1623.3,1451.1 1624.3,1452.8 1625.4,1456.0 1626.4,1456.4 1627.4,1456.6 1628.4,1453.7 1629.5,1452.9 1630.6,1450.8 1631.7,1450.0 1632.8,1448.9 1633.9,1447.5 1634.9,1448.3 1636.0,1445.5 1637.1,1446.9 1638.1,1446.1 1639.2,1444.9 1640.5,1444.1 1641.8,1441.4 1642.9,1443.1 1644.0,1443.4 1645.0,1443.5 1646.1,1444.4 1647.1,1445.8 1648.3,1444.5 1649.5,1444.9 1650.7,1443.1 1652.0,1439.9 1653.3,1439.2 1654.5,1440.8 1655.7,1444.9 1656.9,1446.7 1658.2,1445.0 1659.5,1444.9 1660.8,1449.1 1662.2,1453.7 1663.4,1454.7 1664.5,1458.6 1665.7,1460.8 1666.9,1463.2 1668.1,1468.1 1669.2,1469.7 1670.6,1477.0 1671.9,1483.8 1673.7,1505.0 1674.9,1528.0 1676.3,1483.8 1677.7,1439.6 1679.0,1434.3 1680.0,1434.4 1681.0,1430.9 1682.1,1429.1 1683.1,1427.8 1684.1,1427.6 1685.2,1426.3 1686.2,1426.4 1687.3,1425.1 1688.3,1423.9 1689.4,1424.0 1690.5,1423.7 1691.5,1423.5 1692.6,1423.1 1693.7,1422.8 1694.7,1422.6 1695.8,1421.0 1696.8,1420.5 1697.9,1417.8 1699.0,1418.9 1700.0,1416.2 1701.1,1415.7 1702.1,1415.0 1703.2,1413.6 1704.3,1413.8 1705.3,1411.3 1706.4,1411.3 1707.6,1411.7 1708.7,1412.9 1709.9,1414.8 1711.0,1413.0 1712.1,1414.4 1713.2,1412.7 1714.3,1411.6 1715.5,1412.8 1716.7,1414.6 1717.9,1416.6 1719.1,1420.7 1720.2,1421.9 1721.4,1424.6 1722.6,1431.2 1723.8,1438.3 1725.0,1444.9 1726.1,1464.4 1727.3,1483.8 1729.0,1554.6 1730.3,1604.1 1731.5,1572.2 1732.9,1536.9 1734.7,1515.6 1735.7,1512.8 1736.8,1509.0 1737.9,1506.1 1738.9,1503.1 1740.0,1499.7 1740.7,1501.6 1741.8,1500.0 1742.9,1497.5 1744.0,1492.2 1745.1,1491.0 1746.3,1495.0 1747.5,1499.0 1748.7,1503.4 1749.9,1504.8 1751.0,1509.5 1752.2,1510.4 1753.4,1513.1 1754.6,1516.5 1755.8,1517.5 1756.9,1521.9 1758.1,1526.6 1759.3,1530.8" fill="none" stroke="#572a0c" stroke-width="2.7" stroke-linejoin="round" stroke-linecap="round"/>
<polyline points="995.0,1563.4 996.4,1565.5 997.7,1567.8 999.0,1563.7 1000.3,1559.9 1001.7,1563.8 1003.0,1566.0 1004.1,1559.5 1005.1,1552.3 1006.2,1545.7 1007.2,1555.5 1008.3,1565.2 1009.6,1558.2 1011.0,1551.0 1012.1,1559.7 1013.3,1568.6 1014.5,1577.5 1015.8,1579.1 1017.1,1582.9 1018.2,1608.0 1019.3,1633.4 1020.3,1658.9 1021.4,1597.9 1022.4,1536.9 1023.8,1512.2 1025.1,1487.3 1026.9,1466.1 1028.0,1464.1 1029.1,1462.4 1030.2,1462.3 1031.3,1461.7 1032.4,1460.6 1033.4,1457.6 1034.5,1456.4 1035.5,1454.4 1036.6,1453.7 1037.7,1455.3 1038.8,1455.2 1039.9,1454.4 1041.0,1456.4 1042.1,1458.2 1043.1,1462.1 1044.2,1465.6 1045.3,1468.8 1046.3,1471.4 1047.4,1469.3 1048.5,1468.6 1049.6,1469.4 1050.7,1467.9 1051.8,1462.4 1052.9,1456.9 1054.0,1458.2 1055.2,1460.8 1056.5,1466.0 1057.8,1471.4 1059.1,1474.6 1060.5,1475.0 1061.5,1480.6 1062.5,1486.5 1063.5,1492.1 1064.5,1498.0 1065.6,1508.5 1066.7,1519.2 1068.4,1593.5 1069.5,1556.5 1070.6,1519.2 1071.7,1494.7 1072.9,1469.7 1074.2,1465.7 1075.5,1462.6 1076.7,1461.1 1077.9,1462.1 1079.0,1460.8 1080.2,1457.6 1081.4,1454.6 1082.6,1453.7 1083.8,1455.5 1084.9,1454.7 1086.1,1455.5 1087.1,1455.0 1088.1,1452.2 1089.2,1452.1 1090.2,1449.3 1091.2,1446.9 1092.2,1445.0 1093.2,1444.9 1094.2,1444.3 1095.2,1443.8 1096.2,1443.9 1097.2,1440.6 1098.2,1441.5 1099.3,1440.0 1100.3,1439.6 1101.4,1438.3 1102.5,1435.9 1103.6,1435.0 1104.7,1434.3 1105.8,1438.3 1106.9,1442.5 1108.0,1446.0 1109.1,1450.2 1110.4,1444.0 1111.8,1437.8 1112.9,1443.3 1114.1,1448.7 1115.3,1453.7 1116.4,1449.6 1117.5,1445.6 1118.6,1442.1 1119.7,1437.8 1120.7,1438.8 1121.7,1436.9 1122.7,1435.2 1123.7,1437.3 1124.7,1435.3 1125.7,1436.4 1126.7,1435.1 1127.7,1434.3 1128.7,1436.7 1129.7,1436.2 1130.8,1439.6 1131.8,1439.3 1132.8,1441.4 1133.9,1443.1 1135.0,1445.9 1136.1,1447.7 1137.2,1448.4 1137.8,1574.9 1138.5,1469.7 1139.6,1465.9 1140.7,1462.4 1141.8,1459.0 1143.6,1542.2 1145.4,1492.6 1146.7,1482.9 1148.0,1473.2 1149.0,1472.0 1150.0,1470.3 1151.1,1468.3 1152.1,1467.4 1153.1,1467.6 1154.1,1466.8 1155.1,1464.4 1156.3,1458.8 1157.5,1453.8 1158.6,1448.4 1159.7,1448.9 1160.8,1446.3 1161.8,1448.4 1162.9,1445.9 1163.9,1446.7 1164.9,1446.2 1165.9,1445.3 1166.8,1444.8 1167.8,1443.1 1168.7,1442.6 1169.7,1442.4 1170.7,1441.4 1171.6,1443.8 1172.6,1447.1 1173.6,1449.2 1174.6,1452.0 1175.6,1452.1 1176.7,1451.2 1177.7,1453.4 1178.8,1453.4 1179.9,1453.7 1181.0,1453.8 1182.2,1456.3 1183.4,1456.4 1184.6,1462.8 1185.8,1468.7 1186.9,1475.0 1188.3,1496.9 1189.6,1519.2 1191.4,1609.4 1192.5,1598.8 1193.7,1588.2 1194.8,1595.0 1196.0,1602.1 1197.2,1609.4 1198.3,1568.7 1199.3,1528.0 1200.3,1528.1 1201.3,1530.5 1202.2,1532.0 1203.2,1533.3 1204.3,1529.6 1205.3,1529.0 1206.4,1526.3 1207.6,1515.4 1208.7,1505.2 1209.9,1494.4 1211.1,1491.0 1212.3,1487.4 1213.5,1483.8 1214.3,1496.2 1215.5,1485.3 1216.7,1475.0 1217.9,1464.4 1219.1,1459.0 1220.2,1454.0 1221.4,1448.4 1222.6,1448.5 1223.8,1451.9 1225.0,1452.0 1226.1,1457.6 1227.3,1462.7 1228.5,1467.9 1229.7,1464.0 1230.9,1459.5 1232.0,1455.5 1233.2,1462.0 1234.3,1467.9 1235.3,1463.2 1236.3,1458.7 1237.3,1453.7 1238.7,1451.4 1240.0,1446.7 1241.0,1446.7 1242.0,1450.6 1243.1,1455.1 1244.1,1459.0 1245.5,1476.1 1246.8,1492.6 1248.6,1589.9 1249.5,1653.6 1250.8,1625.9 1252.1,1598.8 1253.4,1579.2 1254.8,1559.9 1256.5,1551.9 1257.9,1555.8 1259.2,1558.1 1261.0,1536.9 1262.1,1527.8 1263.3,1519.2 1264.3,1528.3 1265.4,1536.9 1267.1,1578.4 1268.2,1539.8 1269.3,1501.5 1270.4,1485.8 1271.6,1469.7 1273.3,1467.0 1274.5,1472.1 1275.6,1477.6 1276.7,1474.5 1277.8,1471.4 1278.9,1463.4 1280.1,1454.7 1281.3,1446.7 1282.4,1444.5 1283.4,1443.9 1284.5,1441.9 1285.5,1439.6 1286.6,1439.6 1287.8,1440.4 1289.0,1442.1 1290.1,1444.9 1291.0,1452.0 1291.9,1432.5 1293.0,1435.2 1294.1,1435.7 1295.2,1437.7 1296.3,1437.8 1297.4,1435.3 1298.5,1435.6 1299.6,1432.0 1300.7,1431.6 1301.9,1433.8 1303.1,1436.2 1304.3,1437.8 1305.5,1443.6 1306.6,1449.8 1307.8,1455.5 1309.1,1457.0 1310.5,1458.2 1311.8,1448.0 1313.1,1437.8 1314.2,1431.9 1315.2,1425.4 1316.3,1434.0 1317.4,1443.4 1318.4,1452.0 1319.5,1451.2 1320.6,1449.3 1321.6,1448.4 1322.6,1441.5 1323.6,1434.1 1324.6,1427.2 1325.8,1428.7 1327.0,1427.4 1328.2,1427.2 1329.3,1431.3 1330.5,1435.6 1331.7,1439.6 1332.9,1447.2 1334.1,1454.7 1335.2,1462.6 1336.4,1468.6 1337.6,1474.1 1338.8,1480.3 1340.1,1544.1 1341.4,1607.6 1341.8,1657.1 1342.9,1614.5 1344.1,1572.2 1345.8,1466.1 1347.2,1456.5 1348.5,1446.7 1349.8,1445.5 1351.2,1441.4 1352.5,1436.1 1353.8,1430.7 1355.0,1428.9 1356.2,1425.5 1357.3,1423.7 1358.4,1421.9 1359.5,1421.7 1360.5,1422.8 1361.6,1426.6 1362.6,1430.7 1363.7,1431.8 1364.8,1432.0 1365.8,1432.9 1366.9,1434.8 1368.0,1434.3 1369.1,1438.8 1370.3,1443.6 1371.5,1448.4 1372.8,1453.8 1374.1,1459.0 1375.5,1488.8 1376.8,1519.2 1378.2,1650.1 1379.3,1584.3 1380.3,1519.2 1381.4,1489.0 1382.5,1459.0 1383.6,1452.6 1384.8,1446.7 1385.9,1446.5 1387.0,1446.3 1388.1,1447.6 1389.2,1447.5 1390.6,1453.7 1391.7,1444.1 1392.7,1434.3 1393.8,1431.0 1394.8,1429.9 1395.9,1427.2 1396.9,1430.7 1397.9,1434.1 1398.9,1437.8 1400.2,1448.7 1401.6,1459.0 1402.6,1472.6 1403.7,1486.5 1404.8,1464.6 1406.0,1443.1 1407.3,1442.8 1408.6,1444.9 1410.0,1442.7 1411.3,1439.6 1412.6,1446.0 1413.9,1452.0 1415.3,1454.6 1416.6,1455.5 1418.4,1475.0 1419.8,1543.1 1421.4,1466.1 1422.5,1457.2 1423.7,1448.4 1425.0,1449.5 1426.3,1452.0 1427.5,1447.9 1428.7,1447.1 1429.9,1444.0 1431.0,1444.0 1432.1,1443.1 1433.2,1443.8 1434.3,1443.1 1435.4,1440.7 1436.5,1440.0 1437.6,1437.2 1438.7,1434.3 1439.9,1434.7 1441.1,1437.9 1442.2,1437.8 1443.4,1436.2 1444.6,1437.3 1445.8,1436.9 1447.0,1440.7 1448.1,1444.4 1449.3,1448.4 1450.6,1457.0 1452.0,1466.1 1453.3,1497.2 1454.6,1528.0 1456.0,1645.6 1457.1,1599.8 1458.2,1554.6 1459.5,1514.8 1460.8,1475.0 1462.1,1470.8 1463.5,1466.1 1464.8,1471.2 1466.1,1476.7 1467.4,1472.3 1468.8,1469.7 1469.8,1473.8 1470.9,1477.9 1472.0,1482.0 1473.7,1536.9 1475.0,1643.9 1476.7,1554.6 1478.1,1519.3 1479.4,1483.8 1480.7,1481.2 1482.0,1476.7 1483.2,1474.0 1484.4,1472.6 1485.6,1471.4 1486.7,1467.7 1487.8,1463.9 1488.9,1463.3 1490.0,1459.0 1491.0,1458.8 1492.1,1457.5 1493.1,1454.2 1494.1,1454.6 1495.3,1455.1 1496.5,1454.2 1497.7,1452.9 1498.8,1450.8 1499.9,1449.6 1501.0,1446.7 1502.1,1444.9 1503.2,1445.0 1504.3,1445.5 1505.4,1446.7 1506.5,1448.4 1507.6,1445.3 1508.6,1444.4 1509.6,1443.9 1510.7,1441.9 1511.7,1440.6 1512.7,1437.8 1513.8,1440.0 1514.9,1440.2 1516.0,1442.6 1517.1,1444.0 1518.2,1444.9 1519.3,1447.0 1520.3,1447.3 1521.4,1447.6 1522.4,1449.3 1523.6,1445.6 1524.7,1442.1 1525.8,1437.9 1526.9,1434.3 1527.9,1434.7 1528.9,1431.4 1530.0,1431.4 1531.0,1430.5 1532.0,1431.3 1533.1,1429.9 1534.1,1431.0 1535.2,1430.2 1536.2,1428.8 1537.3,1430.3 1538.4,1429.0 1539.4,1429.5 1540.5,1430.3 1541.5,1433.4 1542.6,1433.6 1543.7,1434.3 1544.8,1437.5 1545.9,1440.1 1547.0,1443.7 1548.1,1444.9 1549.4,1452.0 1550.7,1459.0 1552.5,1501.5 1553.9,1589.9 1555.2,1641.2 1556.5,1638.7 1557.8,1634.1 1559.6,1635.9 1561.4,1642.1 1563.1,1589.9 1564.9,1528.0 1566.2,1519.3 1567.5,1510.3 1568.7,1509.6 1569.9,1506.6 1571.1,1505.0 1572.3,1504.8 1573.4,1503.5 1574.6,1502.4 1575.9,1505.3 1577.3,1509.5 1578.5,1507.1 1579.6,1506.9 1580.8,1505.0 1582.0,1506.4 1583.2,1511.6 1584.4,1513.0 1585.7,1505.3 1587.0,1498.0 1588.3,1495.2 1589.7,1495.3 1591.0,1500.8 1592.3,1506.8 1593.5,1508.7 1594.7,1507.5 1595.8,1508.6 1597.2,1504.8 1598.5,1503.3 1599.6,1501.3 1600.6,1500.8 1601.7,1502.2 1602.7,1501.5 1603.8,1500.6 1604.9,1500.7 1605.9,1500.3 1607.0,1497.7 1608.1,1498.8 1609.1,1498.0 1610.2,1496.1 1611.2,1496.1 1612.3,1494.7 1613.4,1493.5 1614.4,1490.9 1615.5,1489.4 1616.5,1491.6 1617.6,1491.6 1618.7,1491.5 1619.7,1490.0 1620.9,1490.3 1622.1,1492.1 1623.3,1494.4 1624.3,1496.2 1625.4,1498.9 1626.4,1503.3 1627.4,1502.5 1628.4,1500.7 1629.5,1498.0 1630.6,1494.5 1631.7,1491.1 1632.8,1487.4 1633.9,1483.8 1634.9,1482.1 1636.0,1480.5 1637.1,1479.4 1638.1,1480.3 1639.2,1478.5 1640.4,1476.1 1641.5,1475.0 1642.7,1474.1 1643.8,1475.4 1644.9,1475.7 1646.0,1478.0 1647.1,1480.3 1648.3,1477.8 1649.5,1477.4 1650.7,1475.0 1652.0,1471.5 1653.3,1468.8 1654.5,1471.5 1655.7,1476.6 1656.9,1478.5 1658.2,1475.9 1659.5,1473.2 1660.8,1478.7 1662.2,1483.8 1663.5,1488.3 1664.8,1492.6 1666.0,1492.4 1667.2,1494.7 1668.4,1496.2 1669.7,1502.3 1671.0,1508.6 1672.1,1518.5 1673.1,1528.0 1674.6,1572.2 1675.4,1608.5 1676.3,1536.9 1677.7,1483.8 1678.8,1479.3 1679.9,1475.0 1680.9,1474.0 1682.0,1471.9 1683.0,1469.3 1684.1,1469.7 1685.2,1467.0 1686.2,1465.2 1687.3,1466.9 1688.3,1464.4 1689.4,1463.4 1690.5,1464.4 1691.5,1462.7 1692.6,1463.7 1693.7,1463.7 1694.7,1460.0 1695.8,1460.8 1696.8,1458.7 1697.9,1456.5 1699.0,1455.3 1700.0,1451.4 1701.1,1450.2 1702.1,1449.3 1703.2,1448.0 1704.3,1448.5 1705.3,1445.9 1706.4,1445.8 1707.6,1448.3 1708.7,1447.5 1709.9,1449.3 1711.0,1446.9 1712.1,1446.8 1713.2,1444.7 1714.3,1443.1 1715.5,1444.3 1716.7,1448.3 1717.9,1450.2 1719.1,1451.9 1720.2,1457.0 1721.4,1459.0 1722.6,1466.2 1723.8,1473.4 1725.0,1480.3 1726.7,1519.2 1728.0,1604.1 1729.1,1609.5 1730.3,1614.7 1731.5,1623.5 1732.6,1589.9 1733.8,1572.2 1735.1,1567.7 1736.5,1563.4 1737.6,1558.0 1738.8,1552.7 1740.0,1547.5 1740.7,1551.2 1741.7,1548.1 1742.7,1544.3 1743.6,1541.4 1744.6,1537.9 1745.7,1540.8 1746.7,1544.2 1747.8,1547.6 1749.0,1547.5 1750.1,1550.0 1751.3,1549.4 1753.1,1545.8 1754.3,1548.2 1755.5,1550.2 1756.6,1552.9 1758.0,1557.6 1759.3,1561.8" fill="none" stroke="#ff00c3" stroke-width="2.7" stroke-linejoin="round" stroke-linecap="round"/>
<line x1="994.10" y1="1362.70" x2="994.10" y2="1716.30" stroke="#222" stroke-width="1.5"/>
<line x1="982.10" y1="1419.70" x2="994.10" y2="1419.70" stroke="#222" stroke-width="1.4"/>
<text x="893.4" y="1427.7" font-size="22.8" fill="#000" textLength="77.2" lengthAdjust="spacingAndGlyphs">10,000</text>
<line x1="982.10" y1="1514.00" x2="994.10" y2="1514.00" stroke="#222" stroke-width="1.4"/>
<text x="909.2" y="1522.0" font-size="22.8" fill="#000" textLength="61.4" lengthAdjust="spacingAndGlyphs">1,000</text>
<line x1="982.10" y1="1607.70" x2="994.10" y2="1607.70" stroke="#222" stroke-width="1.4"/>
<text x="929.8" y="1615.7" font-size="22.8" fill="#000" textLength="40.8" lengthAdjust="spacingAndGlyphs">100</text>
<line x1="982.10" y1="1701.60" x2="994.10" y2="1701.60" stroke="#222" stroke-width="1.4"/>
<text x="947.3" y="1709.6" font-size="22.8" fill="#000" textLength="23.3" lengthAdjust="spacingAndGlyphs">10</text>
<text x="873.5" y="1628.3" font-size="27.4" fill="#000" textLength="177.5" lengthAdjust="spacingAndGlyphs" transform="rotate(-90 873.5 1628.3)">RNA coverage</text>
<rect x="994.10" y="1725.10" width="765.82" height="32.50" fill="#9dbedb"/>
<rect x="994.10" y="1725.10" width="26.62" height="32.50" fill="#fdd955"/>
<rect x="1734.73" y="1725.10" width="25.19" height="32.50" fill="#fdd955"/>
<rect x="1024.05" y="1725.10" width="44.05" height="32.50" fill="#c9a2cf"/>
<rect x="1071.33" y="1725.10" width="72.01" height="32.50" fill="#c9a2cf"/>
<rect x="1020.77" y="1725.10" width="3.24" height="32.50" fill="#fdab54"/>
<rect x="1068.14" y="1725.10" width="3.14" height="32.50" fill="#fdab54"/>
<rect x="1143.39" y="1725.10" width="3.42" height="32.50" fill="#fdab54"/>
<rect x="1191.14" y="1725.10" width="3.14" height="32.50" fill="#fdab54"/>
<rect x="1194.19" y="1725.10" width="3.28" height="32.50" fill="#fdab54"/>
<rect x="1197.56" y="1725.10" width="3.10" height="32.50" fill="#fdab54"/>
<rect x="1248.86" y="1725.10" width="3.10" height="32.50" fill="#fdab54"/>
<rect x="1252.33" y="1725.10" width="3.14" height="32.50" fill="#fdab54"/>
<rect x="1255.57" y="1725.10" width="3.33" height="32.50" fill="#fdab54"/>
<rect x="1260.37" y="1725.10" width="3.00" height="32.50" fill="#fdab54"/>
<rect x="1263.38" y="1725.10" width="3.00" height="32.50" fill="#fdab54"/>
<rect x="1338.25" y="1725.10" width="3.14" height="32.50" fill="#fdab54"/>
<rect x="1341.58" y="1725.10" width="3.10" height="32.50" fill="#fdab54"/>
<rect x="1377.49" y="1725.10" width="3.19" height="32.50" fill="#fdab54"/>
<rect x="1455.88" y="1725.10" width="3.10" height="32.50" fill="#fdab54"/>
<rect x="1475.02" y="1725.10" width="2.96" height="32.50" fill="#fdab54"/>
<rect x="1555.12" y="1725.10" width="3.14" height="32.50" fill="#fdab54"/>
<rect x="1558.31" y="1725.10" width="2.68" height="32.50" fill="#fdab54"/>
<rect x="1561.03" y="1725.10" width="3.24" height="32.50" fill="#fdab54"/>
<rect x="1672.33" y="1725.10" width="3.14" height="32.50" fill="#fdab54"/>
<rect x="1728.44" y="1725.10" width="3.00" height="32.50" fill="#fdab54"/>
<rect x="1731.59" y="1725.10" width="3.10" height="32.50" fill="#fdab54"/>
<rect x="1193.98" y="1725.10" width="0.50" height="32.50" fill="#fdc485"/>
<rect x="1197.26" y="1725.10" width="0.50" height="32.50" fill="#fdc485"/>
<rect x="1251.76" y="1725.10" width="0.50" height="32.50" fill="#fdc485"/>
<rect x="1255.27" y="1725.10" width="0.50" height="32.50" fill="#fdc485"/>
<rect x="1263.17" y="1725.10" width="0.50" height="32.50" fill="#fdc485"/>
<rect x="1341.24" y="1725.10" width="0.50" height="32.50" fill="#fdc485"/>
<rect x="1558.01" y="1725.10" width="0.50" height="32.50" fill="#fdc485"/>
<rect x="1560.78" y="1725.10" width="0.50" height="32.50" fill="#fdc485"/>
<rect x="1731.24" y="1725.10" width="0.50" height="32.50" fill="#fdc485"/>
<rect x="1258.94" y="1725.10" width="1.39" height="32.50" fill="#e8eef5"/>
<rect x="1180.86" y="1768.20" width="0.50" height="31.80" fill="#ececec"/>
<rect x="1693.21" y="1768.20" width="0.80" height="31.80" fill="#e4e4e4"/>
<rect x="1458.68" y="1768.20" width="0.80" height="31.80" fill="#ececec"/>
<rect x="1417.26" y="1768.20" width="0.50" height="31.80" fill="#d0d0d0"/>
<rect x="1409.85" y="1768.20" width="0.80" height="31.80" fill="#d0d0d0"/>
<rect x="1483.97" y="1768.20" width="0.50" height="31.80" fill="#d9d9d9"/>
<rect x="1480.80" y="1768.20" width="0.80" height="31.80" fill="#e4e4e4"/>
<rect x="1508.42" y="1768.20" width="0.40" height="31.80" fill="#d9d9d9"/>
<rect x="1574.03" y="1768.20" width="0.40" height="31.80" fill="#ececec"/>
<rect x="1590.53" y="1768.20" width="0.60" height="31.80" fill="#d0d0d0"/>
<rect x="1450.48" y="1768.20" width="0.80" height="31.80" fill="#d0d0d0"/>
<rect x="1299.51" y="1768.20" width="0.80" height="31.80" fill="#d9d9d9"/>
<rect x="1665.19" y="1768.20" width="0.40" height="31.80" fill="#e4e4e4"/>
<rect x="1730.64" y="1768.20" width="0.80" height="31.80" fill="#ececec"/>
<rect x="1319.29" y="1768.20" width="0.80" height="31.80" fill="#ececec"/>
<rect x="1404.65" y="1768.20" width="0.80" height="31.80" fill="#d9d9d9"/>
<rect x="1684.34" y="1768.20" width="0.40" height="31.80" fill="#ececec"/>
<rect x="1749.92" y="1768.20" width="0.50" height="31.80" fill="#ececec"/>
<rect x="1730.00" y="1768.20" width="0.40" height="31.80" fill="#d9d9d9"/>
<rect x="1479.37" y="1768.20" width="0.60" height="31.80" fill="#ececec"/>
<rect x="1483.74" y="1768.20" width="0.80" height="31.80" fill="#e4e4e4"/>
<rect x="1261.05" y="1768.20" width="0.40" height="31.80" fill="#d0d0d0"/>
<rect x="1678.97" y="1768.20" width="0.40" height="31.80" fill="#ececec"/>
<rect x="1323.82" y="1768.20" width="0.80" height="31.80" fill="#e4e4e4"/>
<rect x="1034.43" y="1768.20" width="0.40" height="31.80" fill="#d0d0d0"/>
<rect x="1543.96" y="1768.20" width="0.60" height="31.80" fill="#ececec"/>
<rect x="1382.98" y="1768.20" width="0.40" height="31.80" fill="#ececec"/>
<rect x="1006.50" y="1768.20" width="0.40" height="31.80" fill="#e4e4e4"/>
<rect x="1718.11" y="1768.20" width="0.80" height="31.80" fill="#ececec"/>
<rect x="1462.36" y="1768.20" width="0.50" height="31.80" fill="#e4e4e4"/>
<rect x="1741.53" y="1768.20" width="0.60" height="31.80" fill="#ececec"/>
<rect x="1273.23" y="1768.20" width="0.50" height="31.80" fill="#d0d0d0"/>
<rect x="1285.74" y="1768.20" width="0.80" height="31.80" fill="#e4e4e4"/>
<rect x="1469.66" y="1768.20" width="0.60" height="31.80" fill="#d0d0d0"/>
<rect x="1480.36" y="1768.20" width="0.50" height="31.80" fill="#ececec"/>
<rect x="1331.61" y="1768.20" width="0.60" height="31.80" fill="#ececec"/>
<rect x="1415.48" y="1768.20" width="0.40" height="31.80" fill="#d0d0d0"/>
<rect x="1747.25" y="1768.20" width="0.60" height="31.80" fill="#e4e4e4"/>
<rect x="1285.57" y="1768.20" width="0.50" height="31.80" fill="#e4e4e4"/>
<rect x="1479.79" y="1768.20" width="0.60" height="31.80" fill="#d0d0d0"/>
<rect x="1267.73" y="1768.20" width="0.60" height="31.80" fill="#ececec"/>
<rect x="1558.76" y="1768.20" width="0.40" height="31.80" fill="#e4e4e4"/>
<rect x="1722.60" y="1768.20" width="0.40" height="31.80" fill="#ececec"/>
<rect x="1190.81" y="1768.20" width="0.80" height="31.80" fill="#ececec"/>
<rect x="1448.91" y="1768.20" width="0.60" height="31.80" fill="#d9d9d9"/>
<rect x="1276.07" y="1768.20" width="0.60" height="31.80" fill="#ececec"/>
<rect x="1638.72" y="1768.20" width="0.60" height="31.80" fill="#ececec"/>
<rect x="1595.99" y="1768.20" width="0.40" height="31.80" fill="#e4e4e4"/>
<rect x="1735.10" y="1768.20" width="0.50" height="31.80" fill="#ececec"/>
<rect x="1378.89" y="1768.20" width="0.60" height="31.80" fill="#d9d9d9"/>
<rect x="1248.74" y="1768.20" width="0.80" height="31.80" fill="#e4e4e4"/>
<rect x="1077.99" y="1768.20" width="0.60" height="31.80" fill="#ececec"/>
<rect x="1511.07" y="1768.20" width="0.50" height="31.80" fill="#d0d0d0"/>
<rect x="1612.97" y="1768.20" width="0.50" height="31.80" fill="#e4e4e4"/>
<rect x="1255.48" y="1768.20" width="0.50" height="31.80" fill="#d0d0d0"/>
<rect x="1205.52" y="1768.20" width="0.40" height="31.80" fill="#e4e4e4"/>
<rect x="1401.27" y="1768.20" width="0.50" height="31.80" fill="#ececec"/>
<rect x="1610.71" y="1768.20" width="0.50" height="31.80" fill="#ececec"/>
<rect x="1258.05" y="1768.20" width="0.40" height="31.80" fill="#ececec"/>
<rect x="1446.50" y="1768.20" width="0.80" height="31.80" fill="#ececec"/>
<rect x="1392.78" y="1768.20" width="0.60" height="31.80" fill="#d0d0d0"/>
<rect x="1262.77" y="1768.20" width="0.80" height="31.80" fill="#ececec"/>
<rect x="1318.25" y="1768.20" width="0.80" height="31.80" fill="#e4e4e4"/>
<rect x="1696.74" y="1768.20" width="0.50" height="31.80" fill="#d9d9d9"/>
<rect x="1004.56" y="1768.20" width="0.80" height="31.80" fill="#d9d9d9"/>
<rect x="1025.46" y="1768.20" width="0.80" height="31.80" fill="#ececec"/>
<rect x="1412.03" y="1768.20" width="0.50" height="31.80" fill="#e4e4e4"/>
<rect x="1649.41" y="1768.20" width="0.60" height="31.80" fill="#e4e4e4"/>
<rect x="1613.29" y="1768.20" width="0.40" height="31.80" fill="#e4e4e4"/>
<rect x="1683.89" y="1768.20" width="0.50" height="31.80" fill="#d0d0d0"/>
<rect x="1437.03" y="1768.20" width="0.40" height="31.80" fill="#d0d0d0"/>
<rect x="1564.25" y="1768.20" width="0.50" height="31.80" fill="#ececec"/>
<rect x="1181.68" y="1768.20" width="0.40" height="31.80" fill="#d0d0d0"/>
<rect x="1041.27" y="1768.20" width="0.40" height="31.80" fill="#ececec"/>
<rect x="1095.80" y="1768.20" width="0.80" height="31.80" fill="#e4e4e4"/>
<rect x="1266.92" y="1768.20" width="0.50" height="31.80" fill="#e4e4e4"/>
<rect x="1405.06" y="1768.20" width="0.40" height="31.80" fill="#d9d9d9"/>
<rect x="1181.99" y="1768.20" width="0.60" height="31.80" fill="#d9d9d9"/>
<rect x="1623.35" y="1768.20" width="0.40" height="31.80" fill="#d0d0d0"/>
<rect x="1476.07" y="1768.20" width="0.80" height="31.80" fill="#e4e4e4"/>
<rect x="1572.71" y="1768.20" width="0.50" height="31.80" fill="#ececec"/>
<rect x="1468.12" y="1768.20" width="0.80" height="31.80" fill="#e4e4e4"/>
<rect x="1358.40" y="1768.20" width="0.40" height="31.80" fill="#e4e4e4"/>
<rect x="1586.88" y="1768.20" width="0.40" height="31.80" fill="#e4e4e4"/>
<rect x="1038.69" y="1768.20" width="0.80" height="31.80" fill="#e4e4e4"/>
<rect x="1646.74" y="1768.20" width="0.40" height="31.80" fill="#d0d0d0"/>
<rect x="1239.75" y="1768.20" width="0.60" height="31.80" fill="#e4e4e4"/>
<rect x="1266.50" y="1768.20" width="0.80" height="31.80" fill="#ececec"/>
<rect x="1273.71" y="1768.20" width="0.50" height="31.80" fill="#ececec"/>
<rect x="1325.00" y="1768.20" width="0.50" height="31.80" fill="#e4e4e4"/>
<rect x="1542.14" y="1768.20" width="0.80" height="31.80" fill="#e4e4e4"/>
<rect x="1429.31" y="1768.20" width="0.40" height="31.80" fill="#ececec"/>
<rect x="1349.27" y="1768.20" width="0.80" height="31.80" fill="#e4e4e4"/>
<rect x="1471.78" y="1768.20" width="0.80" height="31.80" fill="#e4e4e4"/>
<rect x="1282.47" y="1768.20" width="0.80" height="31.80" fill="#ececec"/>
<rect x="1318.81" y="1768.20" width="0.80" height="31.80" fill="#d0d0d0"/>
<rect x="1014.58" y="1768.20" width="0.50" height="31.80" fill="#ececec"/>
<rect x="1526.37" y="1768.20" width="0.40" height="31.80" fill="#d0d0d0"/>
<rect x="1170.64" y="1768.20" width="0.50" height="31.80" fill="#e4e4e4"/>
<rect x="1708.73" y="1768.20" width="0.60" height="31.80" fill="#ececec"/>
<rect x="1710.68" y="1768.20" width="0.80" height="31.80" fill="#e4e4e4"/>
<rect x="1555.51" y="1768.20" width="0.40" height="31.80" fill="#e4e4e4"/>
<rect x="1358.89" y="1768.20" width="0.50" height="31.80" fill="#d0d0d0"/>
<rect x="1034.52" y="1768.20" width="0.40" height="31.80" fill="#e4e4e4"/>
<rect x="1499.19" y="1768.20" width="0.80" height="31.80" fill="#d9d9d9"/>
<rect x="1620.29" y="1768.20" width="0.60" height="31.80" fill="#e4e4e4"/>
<rect x="1020.28" y="1768.20" width="0.40" height="31.80" fill="#d0d0d0"/>
<rect x="1632.93" y="1768.20" width="0.60" height="31.80" fill="#ececec"/>
<rect x="1604.64" y="1768.20" width="0.40" height="31.80" fill="#d9d9d9"/>
<rect x="1081.70" y="1768.20" width="0.40" height="31.80" fill="#e4e4e4"/>
<rect x="1416.76" y="1768.20" width="0.50" height="31.80" fill="#e4e4e4"/>
<rect x="1184.01" y="1768.20" width="0.50" height="31.80" fill="#d9d9d9"/>
<rect x="1344.23" y="1768.20" width="0.80" height="31.80" fill="#ececec"/>
<rect x="1278.73" y="1768.20" width="0.80" height="31.80" fill="#ececec"/>
<rect x="1421.68" y="1768.20" width="0.40" height="31.80" fill="#d0d0d0"/>
<rect x="1379.12" y="1768.20" width="0.80" height="31.80" fill="#d9d9d9"/>
<rect x="1314.85" y="1768.20" width="0.80" height="31.80" fill="#d9d9d9"/>
<rect x="1486.91" y="1768.20" width="0.50" height="31.80" fill="#d9d9d9"/>
<rect x="1073.47" y="1768.20" width="0.80" height="31.80" fill="#d0d0d0"/>
<rect x="1444.23" y="1768.20" width="0.50" height="31.80" fill="#d9d9d9"/>
<rect x="1203.07" y="1768.20" width="0.50" height="31.80" fill="#d9d9d9"/>
<rect x="1443.58" y="1768.20" width="0.60" height="31.80" fill="#d9d9d9"/>
<rect x="1644.50" y="1768.20" width="0.60" height="31.80" fill="#d0d0d0"/>
<rect x="1450.84" y="1768.20" width="0.60" height="31.80" fill="#d9d9d9"/>
<rect x="1233.20" y="1768.20" width="0.60" height="31.80" fill="#d0d0d0"/>
<rect x="1608.69" y="1768.20" width="0.50" height="31.80" fill="#d9d9d9"/>
<rect x="1431.70" y="1768.20" width="0.50" height="31.80" fill="#ececec"/>
<rect x="1365.73" y="1768.20" width="0.50" height="31.80" fill="#d0d0d0"/>
<rect x="1750.09" y="1768.20" width="0.80" height="31.80" fill="#d9d9d9"/>
<rect x="1354.74" y="1768.20" width="0.40" height="31.80" fill="#d0d0d0"/>
<rect x="1751.28" y="1768.20" width="0.40" height="31.80" fill="#d0d0d0"/>
<rect x="1592.83" y="1768.20" width="0.40" height="31.80" fill="#d0d0d0"/>
<rect x="1689.39" y="1768.20" width="0.50" height="31.80" fill="#e4e4e4"/>
<rect x="1725.53" y="1768.20" width="0.60" height="31.80" fill="#d9d9d9"/>
<rect x="1673.73" y="1768.20" width="0.60" height="31.80" fill="#d9d9d9"/>
<rect x="1142.49" y="1768.20" width="0.40" height="31.80" fill="#ececec"/>
<rect x="1139.53" y="1768.20" width="0.40" height="31.80" fill="#e4e4e4"/>
<rect x="1691.55" y="1768.20" width="0.40" height="31.80" fill="#ececec"/>
<rect x="1342.88" y="1768.20" width="0.60" height="31.80" fill="#e4e4e4"/>
<rect x="1023.24" y="1768.20" width="0.60" height="31.80" fill="#d0d0d0"/>
<rect x="1287.95" y="1768.20" width="0.40" height="31.80" fill="#d9d9d9"/>
<rect x="1487.93" y="1768.20" width="0.80" height="31.80" fill="#d0d0d0"/>
<rect x="1668.58" y="1768.20" width="0.40" height="31.80" fill="#d0d0d0"/>
<rect x="1086.07" y="1768.20" width="0.60" height="31.80" fill="#e4e4e4"/>
<rect x="1399.81" y="1768.20" width="0.60" height="31.80" fill="#ececec"/>
<rect x="1573.34" y="1768.20" width="0.60" height="31.80" fill="#ececec"/>
<rect x="1082.02" y="1768.20" width="0.60" height="31.80" fill="#e4e4e4"/>
<rect x="1504.99" y="1768.20" width="0.60" height="31.80" fill="#e4e4e4"/>
<rect x="1543.69" y="1768.20" width="0.50" height="31.80" fill="#d9d9d9"/>
<rect x="1136.38" y="1768.20" width="0.80" height="31.80" fill="#e4e4e4"/>
<rect x="1082.81" y="1768.20" width="0.50" height="31.80" fill="#ececec"/>
<rect x="1488.44" y="1768.20" width="0.80" height="31.80" fill="#ececec"/>
<rect x="1490.34" y="1768.20" width="0.80" height="31.80" fill="#d0d0d0"/>
<rect x="1237.15" y="1768.20" width="0.50" height="31.80" fill="#e4e4e4"/>
<rect x="1082.21" y="1768.20" width="0.50" height="31.80" fill="#d0d0d0"/>
<rect x="1272.50" y="1768.20" width="0.60" height="31.80" fill="#ececec"/>
<rect x="1290.75" y="1768.20" width="0.50" height="31.80" fill="#e4e4e4"/>
<rect x="1362.78" y="1768.20" width="0.60" height="31.80" fill="#d9d9d9"/>
<rect x="1526.58" y="1768.20" width="0.60" height="31.80" fill="#ececec"/>
<rect x="1715.20" y="1768.20" width="0.80" height="31.80" fill="#e4e4e4"/>
<rect x="1267.71" y="1768.20" width="0.40" height="31.80" fill="#d9d9d9"/>
<rect x="1205.44" y="1768.20" width="0.40" height="31.80" fill="#e4e4e4"/>
<rect x="1427.52" y="1768.20" width="0.40" height="31.80" fill="#d9d9d9"/>
<rect x="1528.64" y="1768.20" width="0.80" height="31.80" fill="#d0d0d0"/>
<rect x="1617.49" y="1768.20" width="0.50" height="31.80" fill="#d9d9d9"/>
<rect x="1650.57" y="1768.20" width="0.50" height="31.80" fill="#d9d9d9"/>
<rect x="1430.55" y="1768.20" width="0.50" height="31.80" fill="#ececec"/>
<rect x="1280.34" y="1768.20" width="0.60" height="31.80" fill="#e4e4e4"/>
<rect x="1637.55" y="1768.20" width="0.80" height="31.80" fill="#d0d0d0"/>
<rect x="1718.43" y="1768.20" width="0.80" height="31.80" fill="#ececec"/>
<rect x="1418.64" y="1768.20" width="0.60" height="31.80" fill="#d0d0d0"/>
<rect x="1739.33" y="1768.20" width="0.60" height="31.80" fill="#d0d0d0"/>
<rect x="1023.84" y="1768.20" width="0.50" height="31.80" fill="#e4e4e4"/>
<rect x="1082.26" y="1768.20" width="0.50" height="31.80" fill="#d0d0d0"/>
<rect x="1151.35" y="1768.20" width="0.50" height="31.80" fill="#e4e4e4"/>
<rect x="1615.21" y="1768.20" width="0.80" height="31.80" fill="#e4e4e4"/>
<rect x="1428.76" y="1768.20" width="0.50" height="31.80" fill="#d9d9d9"/>
<rect x="1354.13" y="1768.20" width="0.40" height="31.80" fill="#e4e4e4"/>
<rect x="1020.32" y="1768.20" width="0.50" height="31.80" fill="#e4e4e4"/>
<rect x="1377.82" y="1768.20" width="0.40" height="31.80" fill="#ececec"/>
<rect x="1245.21" y="1768.20" width="0.60" height="31.80" fill="#d9d9d9"/>
<rect x="1061.88" y="1768.20" width="0.40" height="31.80" fill="#e4e4e4"/>
<rect x="1560.04" y="1768.20" width="0.60" height="31.80" fill="#d9d9d9"/>
<rect x="1705.15" y="1768.20" width="0.50" height="31.80" fill="#d0d0d0"/>
<rect x="1529.29" y="1768.20" width="0.50" height="31.80" fill="#d0d0d0"/>
<rect x="1239.69" y="1768.20" width="0.40" height="31.80" fill="#d0d0d0"/>
<rect x="1059.93" y="1768.20" width="0.50" height="31.80" fill="#d9d9d9"/>
<rect x="1296.88" y="1768.20" width="0.80" height="31.80" fill="#e4e4e4"/>
<rect x="1407.17" y="1768.20" width="0.80" height="31.80" fill="#d9d9d9"/>
<rect x="1491.66" y="1768.20" width="0.60" height="31.80" fill="#e4e4e4"/>
<rect x="1351.98" y="1768.20" width="0.80" height="31.80" fill="#d0d0d0"/>
<rect x="1137.50" y="1768.20" width="0.40" height="31.80" fill="#ececec"/>
<rect x="1278.32" y="1768.20" width="0.60" height="31.80" fill="#d0d0d0"/>
<rect x="1401.05" y="1768.20" width="0.80" height="31.80" fill="#d9d9d9"/>
<rect x="1733.85" y="1768.20" width="0.50" height="31.80" fill="#ececec"/>
<rect x="1592.88" y="1768.20" width="0.50" height="31.80" fill="#d0d0d0"/>
<rect x="1404.44" y="1768.20" width="0.50" height="31.80" fill="#d9d9d9"/>
<rect x="1017.83" y="1768.20" width="0.80" height="31.80" fill="#d9d9d9"/>
<rect x="1482.20" y="1768.20" width="0.50" height="31.80" fill="#e4e4e4"/>
<rect x="1461.01" y="1768.20" width="0.80" height="31.80" fill="#d0d0d0"/>
<rect x="1140.69" y="1768.20" width="0.40" height="31.80" fill="#d0d0d0"/>
<rect x="1339.60" y="1768.20" width="0.80" height="31.80" fill="#e4e4e4"/>
<rect x="1532.62" y="1768.20" width="0.40" height="31.80" fill="#d9d9d9"/>
<rect x="1305.81" y="1768.20" width="0.80" height="31.80" fill="#d0d0d0"/>
<rect x="1021.18" y="1768.20" width="0.50" height="31.80" fill="#d9d9d9"/>
<rect x="1072.27" y="1768.20" width="0.80" height="31.80" fill="#d9d9d9"/>
<rect x="1262.78" y="1768.20" width="0.40" height="31.80" fill="#e4e4e4"/>
<rect x="1611.23" y="1768.20" width="0.60" height="31.80" fill="#ececec"/>
<rect x="1742.59" y="1768.20" width="0.80" height="31.80" fill="#ececec"/>
<rect x="1370.24" y="1768.20" width="0.60" height="31.80" fill="#e4e4e4"/>
<rect x="1616.68" y="1768.20" width="0.60" height="31.80" fill="#ececec"/>
<rect x="1071.85" y="1768.20" width="0.80" height="31.80" fill="#e4e4e4"/>
<rect x="1448.60" y="1768.20" width="0.40" height="31.80" fill="#e4e4e4"/>
<rect x="1023.93" y="1768.20" width="0.40" height="31.80" fill="#e4e4e4"/>
<rect x="1041.80" y="1768.20" width="0.60" height="31.80" fill="#d9d9d9"/>
<rect x="1681.06" y="1768.20" width="0.80" height="31.80" fill="#ececec"/>
<rect x="1608.30" y="1768.20" width="0.60" height="31.80" fill="#e4e4e4"/>
<rect x="1289.95" y="1768.20" width="0.80" height="31.80" fill="#e4e4e4"/>
<rect x="1716.91" y="1768.20" width="0.50" height="31.80" fill="#d0d0d0"/>
<rect x="1253.57" y="1768.20" width="0.80" height="31.80" fill="#d9d9d9"/>
<rect x="1633.90" y="1768.20" width="0.80" height="31.80" fill="#ececec"/>
<rect x="1698.92" y="1768.20" width="0.60" height="31.80" fill="#d0d0d0"/>
<rect x="1332.37" y="1768.20" width="0.80" height="31.80" fill="#d0d0d0"/>
<rect x="1261.87" y="1768.20" width="0.50" height="31.80" fill="#d0d0d0"/>
<rect x="1718.53" y="1768.20" width="0.40" height="31.80" fill="#d9d9d9"/>
<rect x="1622.82" y="1768.20" width="0.40" height="31.80" fill="#e4e4e4"/>
<rect x="1242.92" y="1768.20" width="0.40" height="31.80" fill="#e4e4e4"/>
<rect x="1341.02" y="1768.20" width="0.60" height="31.80" fill="#ececec"/>
<rect x="1002.29" y="1768.20" width="0.50" height="31.80" fill="#d0d0d0"/>
<rect x="1595.68" y="1768.20" width="0.40" height="31.80" fill="#ececec"/>
<rect x="1430.94" y="1768.20" width="0.40" height="31.80" fill="#d0d0d0"/>
<rect x="1062.16" y="1768.20" width="0.50" height="31.80" fill="#d9d9d9"/>
<rect x="1521.10" y="1768.20" width="0.50" height="31.80" fill="#d9d9d9"/>
<rect x="1443.54" y="1768.20" width="0.40" height="31.80" fill="#e4e4e4"/>
<rect x="1174.79" y="1768.20" width="0.50" height="31.80" fill="#d9d9d9"/>
<rect x="1643.94" y="1768.20" width="0.80" height="31.80" fill="#ececec"/>
<rect x="1597.01" y="1768.20" width="0.50" height="31.80" fill="#d0d0d0"/>
<rect x="1624.87" y="1768.20" width="0.40" height="31.80" fill="#e4e4e4"/>
<rect x="1650.09" y="1768.20" width="0.40" height="31.80" fill="#d9d9d9"/>
<rect x="1713.79" y="1768.20" width="0.60" height="31.80" fill="#e4e4e4"/>
<rect x="1083.44" y="1768.20" width="0.80" height="31.80" fill="#d9d9d9"/>
<rect x="1624.83" y="1768.20" width="0.40" height="31.80" fill="#d0d0d0"/>
<rect x="1576.42" y="1768.20" width="0.60" height="31.80" fill="#d0d0d0"/>
<rect x="1456.80" y="1768.20" width="0.80" height="31.80" fill="#e4e4e4"/>
<rect x="1221.60" y="1768.20" width="0.80" height="31.80" fill="#d0d0d0"/>
<rect x="1156.70" y="1768.20" width="0.40" height="31.80" fill="#d0d0d0"/>
<rect x="1227.20" y="1768.20" width="0.40" height="31.80" fill="#ececec"/>
<rect x="1262.62" y="1768.20" width="0.80" height="31.80" fill="#e4e4e4"/>
<rect x="1699.25" y="1768.20" width="0.60" height="31.80" fill="#d0d0d0"/>
<rect x="1593.58" y="1768.20" width="0.40" height="31.80" fill="#d9d9d9"/>
<rect x="1189.87" y="1768.20" width="0.40" height="31.80" fill="#ececec"/>
<rect x="1179.48" y="1768.20" width="0.80" height="31.80" fill="#e4e4e4"/>
<rect x="1190.67" y="1768.20" width="0.60" height="31.80" fill="#d9d9d9"/>
<rect x="1567.46" y="1768.20" width="0.50" height="31.80" fill="#d9d9d9"/>
<rect x="1662.06" y="1768.20" width="0.80" height="31.80" fill="#d0d0d0"/>
<rect x="1278.96" y="1768.20" width="0.50" height="31.80" fill="#d0d0d0"/>
<rect x="1366.93" y="1768.20" width="0.80" height="31.80" fill="#d0d0d0"/>
<rect x="1754.69" y="1768.20" width="0.40" height="31.80" fill="#ececec"/>
<rect x="1724.60" y="1768.20" width="0.40" height="31.80" fill="#d9d9d9"/>
<rect x="1675.44" y="1768.20" width="0.40" height="31.80" fill="#d9d9d9"/>
<rect x="1223.43" y="1768.20" width="0.40" height="31.80" fill="#d0d0d0"/>
<rect x="1031.69" y="1768.20" width="0.50" height="31.80" fill="#ececec"/>
<rect x="1372.65" y="1768.20" width="0.40" height="31.80" fill="#ececec"/>
<rect x="1354.84" y="1768.20" width="0.50" height="31.80" fill="#ececec"/>
<rect x="1687.56" y="1768.20" width="0.80" height="31.80" fill="#e4e4e4"/>
<rect x="1156.41" y="1768.20" width="0.80" height="31.80" fill="#ececec"/>
<rect x="1738.90" y="1768.20" width="0.60" height="31.80" fill="#d9d9d9"/>
<rect x="1326.96" y="1768.20" width="0.80" height="31.80" fill="#d0d0d0"/>
<rect x="1398.48" y="1768.20" width="0.50" height="31.80" fill="#ececec"/>
<rect x="1723.88" y="1768.20" width="0.60" height="31.80" fill="#ececec"/>
<rect x="1023.26" y="1768.20" width="0.60" height="31.80" fill="#ececec"/>
<rect x="1610.98" y="1768.20" width="0.60" height="31.80" fill="#d9d9d9"/>
<rect x="1703.93" y="1768.20" width="0.40" height="31.80" fill="#e4e4e4"/>
<rect x="1405.96" y="1768.20" width="0.50" height="31.80" fill="#e4e4e4"/>
<rect x="1002.50" y="1768.20" width="0.80" height="31.80" fill="#ececec"/>
<rect x="1741.08" y="1768.20" width="0.60" height="31.80" fill="#e4e4e4"/>
<rect x="1371.46" y="1768.20" width="0.50" height="31.80" fill="#e4e4e4"/>
<rect x="1210.22" y="1768.20" width="0.60" height="31.80" fill="#e4e4e4"/>
<rect x="1457.09" y="1768.20" width="0.40" height="31.80" fill="#d0d0d0"/>
<rect x="1236.52" y="1768.20" width="0.50" height="31.80" fill="#d0d0d0"/>
<rect x="1317.08" y="1768.20" width="0.60" height="31.80" fill="#ececec"/>
<rect x="1034.29" y="1768.20" width="0.80" height="31.80" fill="#e4e4e4"/>
<rect x="1475.22" y="1768.20" width="0.50" height="31.80" fill="#d9d9d9"/>
<rect x="1721.61" y="1768.20" width="0.80" height="31.80" fill="#ececec"/>
<rect x="1418.07" y="1768.20" width="0.60" height="31.80" fill="#e4e4e4"/>
<rect x="1487.02" y="1768.20" width="0.80" height="31.80" fill="#d0d0d0"/>
<rect x="1394.85" y="1768.20" width="0.80" height="31.80" fill="#ececec"/>
<rect x="1392.79" y="1768.20" width="0.50" height="31.80" fill="#ececec"/>
<rect x="1139.29" y="1768.20" width="0.50" height="31.80" fill="#e4e4e4"/>
<rect x="1309.47" y="1768.20" width="0.60" height="31.80" fill="#d0d0d0"/>
<rect x="1344.79" y="1768.20" width="0.60" height="31.80" fill="#d0d0d0"/>
<rect x="1214.92" y="1768.20" width="0.50" height="31.80" fill="#ececec"/>
<rect x="1367.98" y="1768.20" width="0.50" height="31.80" fill="#d0d0d0"/>
<rect x="1704.83" y="1768.20" width="0.60" height="31.80" fill="#e4e4e4"/>
<rect x="1240.21" y="1768.20" width="0.40" height="31.80" fill="#d0d0d0"/>
<rect x="1570.64" y="1768.20" width="0.60" height="31.80" fill="#e4e4e4"/>
<rect x="1329.90" y="1768.20" width="0.40" height="31.80" fill="#ececec"/>
<rect x="1026.46" y="1768.20" width="0.80" height="31.80" fill="#d0d0d0"/>
<rect x="1148.46" y="1768.20" width="0.60" height="31.80" fill="#d9d9d9"/>
<rect x="1495.16" y="1768.20" width="0.80" height="31.80" fill="#ececec"/>
<rect x="1038.29" y="1768.20" width="0.50" height="31.80" fill="#e4e4e4"/>
<rect x="1714.26" y="1768.20" width="0.60" height="31.80" fill="#d0d0d0"/>
<rect x="1420.58" y="1768.20" width="0.40" height="31.80" fill="#d9d9d9"/>
<rect x="1316.43" y="1768.20" width="0.80" height="31.80" fill="#e4e4e4"/>
<rect x="1375.26" y="1768.20" width="0.50" height="31.80" fill="#e4e4e4"/>
<rect x="1528.65" y="1768.20" width="0.40" height="31.80" fill="#e4e4e4"/>
<rect x="1477.97" y="1768.20" width="0.40" height="31.80" fill="#ececec"/>
<rect x="1737.35" y="1768.20" width="0.40" height="31.80" fill="#d0d0d0"/>
<rect x="1203.27" y="1768.20" width="0.80" height="31.80" fill="#d0d0d0"/>
<rect x="1203.46" y="1768.20" width="0.40" height="31.80" fill="#d9d9d9"/>
<rect x="1179.34" y="1768.20" width="0.50" height="31.80" fill="#d9d9d9"/>
<rect x="1522.48" y="1768.20" width="0.80" height="31.80" fill="#d0d0d0"/>
<rect x="1005.10" y="1768.20" width="3.79" height="31.80" fill="#ededed"/>
<rect x="1039.03" y="1768.20" width="3.70" height="31.80" fill="#efefef"/>
<rect x="1057.42" y="1768.20" width="5.78" height="31.80" fill="#efefef"/>
<rect x="1128.14" y="1768.20" width="12.94" height="31.80" fill="#f0f0f0"/>
<rect x="1222.89" y="1768.20" width="9.24" height="31.80" fill="#ededed"/>
<rect x="1324.57" y="1768.20" width="8.32" height="31.80" fill="#ececec"/>
<rect x="1735.93" y="1768.20" width="10.63" height="31.80" fill="#e6e6e6"/>
<rect x="1364.32" y="1768.20" width="12.48" height="31.80" fill="#e9e9e9"/>
<rect x="1507.14" y="1768.20" width="11.56" height="31.80" fill="#efefef"/>
<rect x="1650.42" y="1768.20" width="11.55" height="31.80" fill="#efefef"/>
<rect x="1011.39" y="1768.20" width="13.59" height="31.80" fill="#bdbdbd"/>
<rect x="1063.20" y="1768.20" width="8.78" height="31.80" fill="#bdbdbd"/>
<rect x="1143.39" y="1768.20" width="3.70" height="31.80" fill="#bdbdbd"/>
<rect x="1191.14" y="1768.20" width="10.95" height="31.80" fill="#bdbdbd"/>
<rect x="1248.86" y="1768.20" width="18.86" height="31.80" fill="#bdbdbd"/>
<rect x="1338.25" y="1768.20" width="7.12" height="31.80" fill="#bdbdbd"/>
<rect x="1377.49" y="1768.20" width="3.47" height="31.80" fill="#bdbdbd"/>
<rect x="1455.88" y="1768.20" width="3.88" height="31.80" fill="#bdbdbd"/>
<rect x="1475.02" y="1768.20" width="3.93" height="31.80" fill="#bdbdbd"/>
<rect x="1555.12" y="1768.20" width="9.80" height="31.80" fill="#bdbdbd"/>
<rect x="1672.33" y="1768.20" width="3.97" height="31.80" fill="#bdbdbd"/>
<rect x="1728.44" y="1768.20" width="6.56" height="31.80" fill="#bdbdbd"/>
<rect x="1738.24" y="1768.20" width="1.85" height="31.80" fill="#bdbdbd"/>
<rect x="1741.94" y="1768.20" width="0.92" height="31.80" fill="#bdbdbd"/>
<line x1="993.40" y1="1801.90" x2="1759.90" y2="1801.90" stroke="#222" stroke-width="1.6"/>
<text x="988.0" y="1843.5" font-size="22.8" fill="#000" textLength="13.4" lengthAdjust="spacingAndGlyphs">0</text>
<line x1="1178.98" y1="1801.90" x2="1178.98" y2="1813.50" stroke="#222" stroke-width="1.4"/>
<text x="1146.0" y="1843.5" font-size="22.8" fill="#000" textLength="65.6" lengthAdjust="spacingAndGlyphs">4,000</text>
<line x1="1363.86" y1="1801.90" x2="1363.86" y2="1813.50" stroke="#222" stroke-width="1.4"/>
<text x="1330.5" y="1843.5" font-size="22.8" fill="#000" textLength="66.0" lengthAdjust="spacingAndGlyphs">8,000</text>
<line x1="1548.74" y1="1801.90" x2="1548.74" y2="1813.50" stroke="#222" stroke-width="1.4"/>
<text x="1510.8" y="1843.5" font-size="22.8" fill="#000" textLength="74.3" lengthAdjust="spacingAndGlyphs">12,000</text>
<line x1="1733.62" y1="1801.90" x2="1733.62" y2="1813.50" stroke="#222" stroke-width="1.4"/>
<text x="1695.7" y="1843.5" font-size="22.8" fill="#000" textLength="74.3" lengthAdjust="spacingAndGlyphs">16,000</text>
<text x="1272.5" y="1884.6" font-size="27.4" fill="#000" textLength="209.3" lengthAdjust="spacingAndGlyphs">chrM coordinate</text>
<line x1="1806.70" y1="1407.50" x2="1841.70" y2="1407.50" stroke="#a8b868" stroke-width="2.1"/>
<text x="1860.2" y="1416.8" font-size="26.9" fill="#000" textLength="59.3" lengthAdjust="spacingAndGlyphs">Liver</text>
<line x1="1806.70" y1="1450.90" x2="1841.70" y2="1450.90" stroke="#572a0c" stroke-width="2.1"/>
<text x="1860.2" y="1460.0" font-size="26.9" fill="#000" textLength="264.5" lengthAdjust="spacingAndGlyphs">Esophagus – mucosa</text>
<line x1="1806.70" y1="1494.30" x2="1841.70" y2="1494.30" stroke="#ff00c3" stroke-width="2.1"/>
<text x="1860.2" y="1503.3" font-size="26.9" fill="#000" textLength="160.5" lengthAdjust="spacingAndGlyphs">Whole blood</text>
<rect x="1804.20" y="1593.30" width="40.00" height="40.00" fill="#fdd955"/>
<text x="1860.2" y="1622.7" font-size="26.9" fill="#000" textLength="88.9" lengthAdjust="spacingAndGlyphs">D–loop</text>
<rect x="1804.20" y="1636.93" width="40.00" height="40.00" fill="#9dbedb"/>
<text x="1860.2" y="1666.2" font-size="26.9" fill="#000" textLength="183.6" lengthAdjust="spacingAndGlyphs">Protein coding</text>
<rect x="1804.20" y="1680.56" width="40.00" height="40.00" fill="#c9a2cf"/>
<text x="1860.2" y="1709.7" font-size="26.9" fill="#000" textLength="62.6" lengthAdjust="spacingAndGlyphs">rRNA</text>
<rect x="1804.20" y="1724.19" width="40.00" height="40.00" fill="#fdab54"/>
<text x="1860.2" y="1753.2" font-size="26.9" fill="#000" textLength="61.7" lengthAdjust="spacingAndGlyphs">tRNA</text>
<rect x="1804.20" y="1767.82" width="40.00" height="40.00" fill="#bdbdbd"/>
<text x="1860.2" y="1796.7" font-size="26.9" fill="#000" textLength="225.4" lengthAdjust="spacingAndGlyphs">Excluded position</text>
<text x="0.0" y="1959.6" font-size="38.5" fill="#000" textLength="13.7" lengthAdjust="spacingAndGlyphs" font-weight="bold" stroke="#000" stroke-width="1.3">f</text>
<path d="M280.1,2200.8 L280.10,1991.90 A208.9,208.9 0 0 1 298.43,1992.71Z" fill="#2e6f98" stroke="#fff" stroke-width="3" stroke-linejoin="round"/>
<path d="M280.1,2200.8 L298.43,1992.71 A208.9,208.9 0 0 1 360.57,2008.02Z" fill="#04508a" stroke="#fff" stroke-width="3" stroke-linejoin="round"/>
<path d="M280.1,2200.8 L360.57,2008.02 A208.9,208.9 0 0 1 396.33,2027.22Z" fill="#fdb70d" stroke="#fff" stroke-width="3" stroke-linejoin="round"/>
<path d="M280.1,2200.8 L396.33,2027.22 A208.9,208.9 0 0 1 442.60,2069.53Z" fill="#f28a0b" stroke="#fff" stroke-width="3" stroke-linejoin="round"/>
<path d="M280.1,2200.8 L442.60,2069.53 A208.9,208.9 0 0 1 214.99,2399.29Z" fill="#68bb52" stroke="#fff" stroke-width="3" stroke-linejoin="round"/>
<path d="M280.1,2200.8 L214.99,2399.29 A208.9,208.9 0 0 1 280.10,1991.90Z" fill="#328b46" stroke="#fff" stroke-width="3" stroke-linejoin="round"/>
<text x="257.5" y="1979.2" font-size="27.4" fill="#000" textLength="54.5" lengthAdjust="spacingAndGlyphs">1.4%</text>
<text x="330.4" y="1991.9" font-size="27.4" fill="#000" textLength="59.8" lengthAdjust="spacingAndGlyphs">4.9%</text>
<text x="391.5" y="2019.3" font-size="27.4" fill="#000" textLength="55.0" lengthAdjust="spacingAndGlyphs">3.1%</text>
<text x="434.4" y="2053.0" font-size="27.4" fill="#000" textLength="59.5" lengthAdjust="spacingAndGlyphs">4.8%</text>
<text x="150.9" y="2194.0" font-size="27.4" fill="#fff" textLength="52.5" lengthAdjust="spacingAndGlyphs">45%</text>
<text x="327.1" y="2270.5" font-size="27.4" fill="#fff" textLength="78.8" lengthAdjust="spacingAndGlyphs">40.9%</text>
<text x="535.7" y="2069.5" font-size="27.4" fill="#000" textLength="215.9" lengthAdjust="spacingAndGlyphs">Base substitution</text>
<rect x="536.90" y="2096.00" width="38.30" height="37.80" fill="#328b46"/>
<text x="592.1" y="2124.0" font-size="26.9" fill="#000" textLength="102.4" lengthAdjust="spacingAndGlyphs">A:T&gt;G:C</text>
<rect x="536.90" y="2140.98" width="38.30" height="37.80" fill="#68bb52"/>
<text x="592.1" y="2169.0" font-size="26.9" fill="#000" textLength="102.4" lengthAdjust="spacingAndGlyphs">C:G&gt;T:A</text>
<rect x="536.90" y="2185.96" width="38.30" height="37.80" fill="#f28a0b"/>
<text x="592.1" y="2213.9" font-size="26.9" fill="#000" textLength="102.4" lengthAdjust="spacingAndGlyphs">G:C&gt;T:A</text>
<rect x="536.90" y="2230.94" width="38.30" height="37.80" fill="#fdb70d"/>
<text x="592.1" y="2258.9" font-size="26.9" fill="#000" textLength="108.9" lengthAdjust="spacingAndGlyphs">G:C&gt;C:G</text>
<rect x="536.90" y="2275.92" width="38.30" height="37.80" fill="#04508a"/>
<text x="592.1" y="2303.8" font-size="26.9" fill="#000" textLength="102.4" lengthAdjust="spacingAndGlyphs">T:A&gt;G:C</text>
<rect x="536.90" y="2320.90" width="38.30" height="37.80" fill="#2e6f98"/>
<text x="592.1" y="2348.8" font-size="26.9" fill="#000" textLength="95.9" lengthAdjust="spacingAndGlyphs">T:A&gt;A:T</text>
<line x1="715.40" y1="2102.40" x2="715.40" y2="2172.70" stroke="#333" stroke-width="1.3"/>
<line x1="716.40" y1="2190.30" x2="716.40" y2="2260.70" stroke="#333" stroke-width="1.3"/>
<text x="731.9" y="2127.7" font-size="27.4" fill="#000" textLength="166.5" lengthAdjust="spacingAndGlyphs">Spontaneous</text>
<text x="731.9" y="2160.7" font-size="27.4" fill="#000" textLength="156.0" lengthAdjust="spacingAndGlyphs">deamination</text>
<text x="731.9" y="2232.1" font-size="27.4" fill="#000" textLength="164.8" lengthAdjust="spacingAndGlyphs">ROS damage</text>
<rect x="1143.90" y="1997.60" width="24.52" height="47.30" fill="#5b189d"/>
<rect x="1168.12" y="1997.60" width="60.84" height="47.30" fill="#e4c1f9"/>
<rect x="1228.66" y="1997.60" width="2.78" height="47.30" fill="#e5383b"/>
<rect x="1231.14" y="1997.60" width="71.03" height="47.30" fill="#fb8101"/>
<rect x="1301.86" y="1997.60" width="194.04" height="47.30" fill="#ffb703"/>
<rect x="1495.61" y="1997.60" width="160.47" height="47.30" fill="#2f8a8b"/>
<rect x="1655.77" y="1997.60" width="38.53" height="47.30" fill="#b3b3b3"/>
<line x1="1106.50" y1="2021.25" x2="1117.80" y2="2021.25" stroke="#222" stroke-width="1.3"/>
<text x="995.7" y="2030.4" font-size="26.9" fill="#000" textLength="102.5" lengthAdjust="spacingAndGlyphs">A:T&gt;G:C</text>
<rect x="1143.90" y="2061.30" width="36.08" height="47.30" fill="#5b189d"/>
<rect x="1179.68" y="2061.30" width="62.50" height="47.30" fill="#e4c1f9"/>
<rect x="1241.87" y="2061.30" width="33.32" height="47.30" fill="#e5383b"/>
<rect x="1274.90" y="2061.30" width="85.06" height="47.30" fill="#fb8101"/>
<rect x="1359.66" y="2061.30" width="151.66" height="47.30" fill="#ffb703"/>
<rect x="1511.02" y="2061.30" width="150.01" height="47.30" fill="#2f8a8b"/>
<rect x="1660.73" y="2061.30" width="33.57" height="47.30" fill="#b3b3b3"/>
<line x1="1106.50" y1="2084.95" x2="1117.80" y2="2084.95" stroke="#222" stroke-width="1.3"/>
<text x="995.7" y="2094.2" font-size="26.9" fill="#000" textLength="102.5" lengthAdjust="spacingAndGlyphs">C:G&gt;T:A</text>
<rect x="1143.90" y="2125.00" width="24.52" height="47.30" fill="#5b189d"/>
<rect x="1168.12" y="2125.00" width="52.59" height="47.30" fill="#e4c1f9"/>
<rect x="1220.41" y="2125.00" width="20.11" height="47.30" fill="#e5383b"/>
<rect x="1240.22" y="2125.00" width="56.99" height="47.30" fill="#fb8101"/>
<rect x="1296.91" y="2125.00" width="234.77" height="47.30" fill="#ffb703"/>
<rect x="1531.38" y="2125.00" width="101.57" height="47.30" fill="#2f8a8b"/>
<rect x="1632.66" y="2125.00" width="61.64" height="47.30" fill="#b3b3b3"/>
<line x1="1106.50" y1="2148.65" x2="1117.80" y2="2148.65" stroke="#222" stroke-width="1.3"/>
<text x="995.0" y="2158.1" font-size="26.9" fill="#000" textLength="100.4" lengthAdjust="spacingAndGlyphs">G:C&gt;T:A</text>
<rect x="1143.90" y="2188.70" width="27.27" height="47.30" fill="#5b189d"/>
<rect x="1170.87" y="2188.70" width="58.09" height="47.30" fill="#e4c1f9"/>
<rect x="1228.66" y="2188.70" width="15.71" height="47.30" fill="#e5383b"/>
<rect x="1244.07" y="2188.70" width="110.38" height="47.30" fill="#fb8101"/>
<rect x="1354.15" y="2188.70" width="241.38" height="47.30" fill="#ffb703"/>
<rect x="1595.23" y="2188.70" width="54.24" height="47.30" fill="#2f8a8b"/>
<rect x="1649.17" y="2188.70" width="45.13" height="47.30" fill="#b3b3b3"/>
<line x1="1106.50" y1="2212.35" x2="1117.80" y2="2212.35" stroke="#222" stroke-width="1.3"/>
<text x="991.0" y="2221.9" font-size="26.9" fill="#000" textLength="109.0" lengthAdjust="spacingAndGlyphs">G:C&gt;C:G</text>
<rect x="1143.90" y="2252.40" width="18.46" height="47.30" fill="#5b189d"/>
<rect x="1162.06" y="2252.40" width="59.19" height="47.30" fill="#e4c1f9"/>
<rect x="1220.96" y="2252.40" width="13.51" height="47.30" fill="#e5383b"/>
<rect x="1234.17" y="2252.40" width="63.60" height="47.30" fill="#fb8101"/>
<rect x="1297.46" y="2252.40" width="291.46" height="47.30" fill="#ffb703"/>
<rect x="1588.62" y="2252.40" width="64.70" height="47.30" fill="#2f8a8b"/>
<rect x="1653.02" y="2252.40" width="41.28" height="47.30" fill="#b3b3b3"/>
<line x1="1106.50" y1="2276.05" x2="1117.80" y2="2276.05" stroke="#222" stroke-width="1.3"/>
<text x="995.0" y="2285.8" font-size="26.9" fill="#000" textLength="102.2" lengthAdjust="spacingAndGlyphs">T:A&gt;G:C</text>
<rect x="1143.90" y="2316.10" width="16.26" height="47.30" fill="#5b189d"/>
<rect x="1159.86" y="2316.10" width="62.50" height="47.30" fill="#e4c1f9"/>
<rect x="1222.06" y="2316.10" width="20.66" height="47.30" fill="#e5383b"/>
<rect x="1242.42" y="2316.10" width="41.58" height="47.30" fill="#fb8101"/>
<rect x="1283.70" y="2316.10" width="206.70" height="47.30" fill="#ffb703"/>
<rect x="1490.10" y="2316.10" width="109.83" height="47.30" fill="#2f8a8b"/>
<rect x="1599.63" y="2316.10" width="94.67" height="47.30" fill="#b3b3b3"/>
<line x1="1106.50" y1="2339.75" x2="1117.80" y2="2339.75" stroke="#222" stroke-width="1.3"/>
<text x="998.5" y="2349.6" font-size="26.9" fill="#000" textLength="94.6" lengthAdjust="spacingAndGlyphs">T:A&gt;A:T</text>
<line x1="1117.80" y1="1983.10" x2="1117.80" y2="2378.30" stroke="#222" stroke-width="1.3"/>
<line x1="1117.20" y1="2377.70" x2="1720.80" y2="2377.70" stroke="#222" stroke-width="1.3"/>
<line x1="1144.80" y1="2377.70" x2="1144.80" y2="2388.80" stroke="#222" stroke-width="1.3"/>
<text x="1138.1" y="2417.0" font-size="22.8" fill="#000" textLength="13.1" lengthAdjust="spacingAndGlyphs">0</text>
<line x1="1282.40" y1="2377.70" x2="1282.40" y2="2388.80" stroke="#222" stroke-width="1.3"/>
<text x="1269.2" y="2417.0" font-size="22.8" fill="#000" textLength="24.7" lengthAdjust="spacingAndGlyphs">25</text>
<line x1="1420.00" y1="2377.70" x2="1420.00" y2="2388.80" stroke="#222" stroke-width="1.3"/>
<text x="1406.5" y="2417.0" font-size="22.8" fill="#000" textLength="25.0" lengthAdjust="spacingAndGlyphs">50</text>
<line x1="1557.60" y1="2377.70" x2="1557.60" y2="2388.80" stroke="#222" stroke-width="1.3"/>
<text x="1544.0" y="2417.0" font-size="22.8" fill="#000" textLength="25.0" lengthAdjust="spacingAndGlyphs">75</text>
<line x1="1695.20" y1="2377.70" x2="1695.20" y2="2388.80" stroke="#222" stroke-width="1.3"/>
<text x="1675.5" y="2417.0" font-size="22.8" fill="#000" textLength="37.0" lengthAdjust="spacingAndGlyphs">100</text>
<text x="1765.2" y="2033.8" font-size="26.9" fill="#000" textLength="151.4" lengthAdjust="spacingAndGlyphs">Variant type</text>
<rect x="1762.60" y="2051.30" width="39.10" height="39.50" fill="#b3b3b3"/>
<text x="1815.7" y="2079.0" font-size="22.8" fill="#000" textLength="75.0" lengthAdjust="spacingAndGlyphs">D−loop</text>
<rect x="1762.60" y="2090.60" width="39.10" height="39.40" fill="#2f8a8b"/>
<text x="1815.7" y="2117.7" font-size="22.8" fill="#000" textLength="137.5" lengthAdjust="spacingAndGlyphs">Synonymous</text>
<rect x="1762.60" y="2129.80" width="39.10" height="45.10" fill="#ffb703"/>
<text x="1815.7" y="2160.1" font-size="22.8" fill="#000" textLength="96.7" lengthAdjust="spacingAndGlyphs">Missense</text>
<rect x="1762.60" y="2174.70" width="39.10" height="45.40" fill="#fb8101"/>
<text x="1815.7" y="2203.9" font-size="22.8" fill="#000" textLength="189.9" lengthAdjust="spacingAndGlyphs">Conserved region</text>
<rect x="1762.60" y="2219.90" width="39.10" height="39.40" fill="#e5383b"/>
<text x="1815.7" y="2247.9" font-size="22.8" fill="#000" textLength="37.3" lengthAdjust="spacingAndGlyphs">LoF</text>
<rect x="1762.60" y="2259.10" width="39.10" height="45.60" fill="#e4c1f9"/>
<text x="1815.7" y="2289.4" font-size="22.8" fill="#000" textLength="52.4" lengthAdjust="spacingAndGlyphs">rRNA</text>
<rect x="1762.60" y="2304.50" width="39.10" height="44.50" fill="#5c1a9c"/>
<text x="1815.7" y="2332.5" font-size="22.8" fill="#000" textLength="189.9" lengthAdjust="spacingAndGlyphs">Conserved region</text>
</svg>
</body></html>
